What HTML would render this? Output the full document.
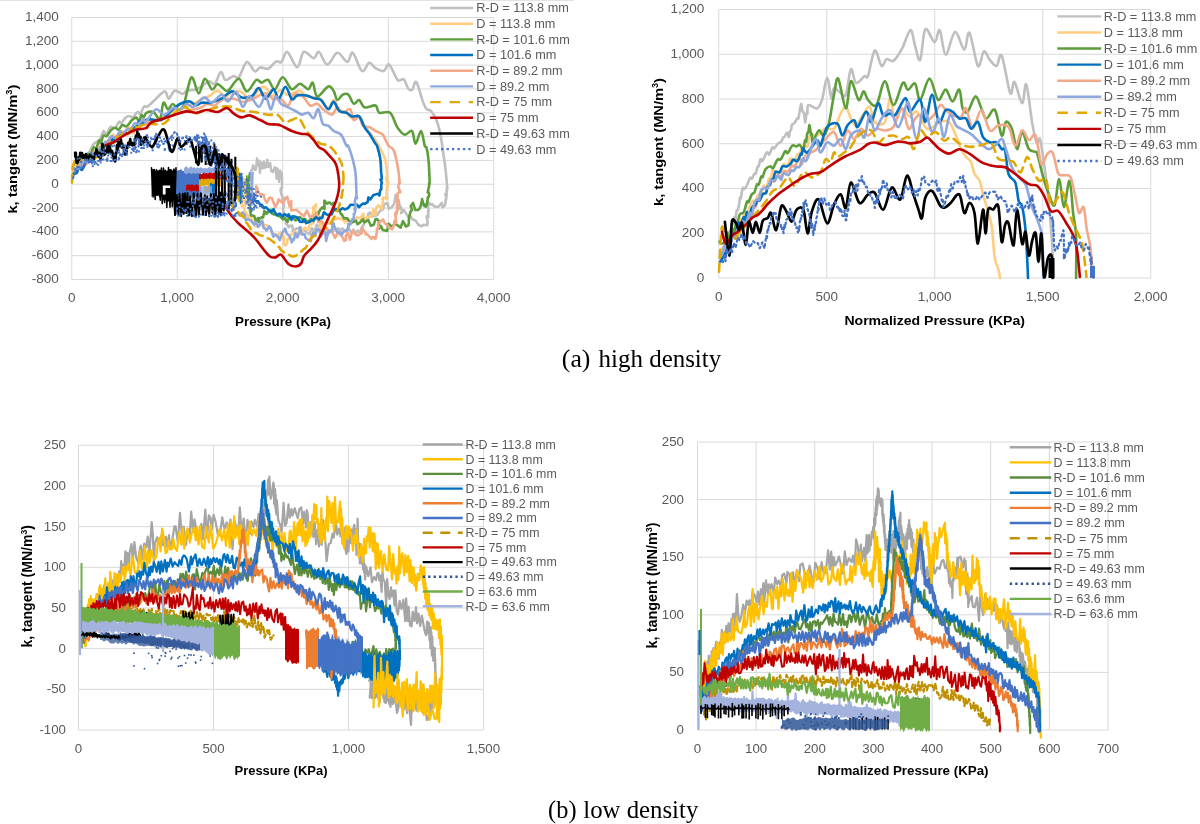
<!DOCTYPE html><html><head><meta charset="utf-8"><style>html,body{margin:0;padding:0;background:#fff;width:1200px;height:824px;overflow:hidden}svg{display:block;filter:blur(0.35px)}text{font-family:"Liberation Sans",sans-serif}</style></head><body>
<svg width="1200" height="824" viewBox="0 0 1200 824">
<rect width="1200" height="824" fill="#fff"/>
<line x1="0" y1="0.5" x2="574" y2="0.5" stroke="#e3e3e3" stroke-width="1"/>
<line x1="71.75" y1="17.5" x2="493.75" y2="17.5" stroke="#d9d9d9" stroke-width="1"/>
<line x1="71.75" y1="41.32" x2="493.75" y2="41.32" stroke="#d9d9d9" stroke-width="1"/>
<line x1="71.75" y1="65.14" x2="493.75" y2="65.14" stroke="#d9d9d9" stroke-width="1"/>
<line x1="71.75" y1="88.95" x2="493.75" y2="88.95" stroke="#d9d9d9" stroke-width="1"/>
<line x1="71.75" y1="112.77" x2="493.75" y2="112.77" stroke="#d9d9d9" stroke-width="1"/>
<line x1="71.75" y1="136.59" x2="493.75" y2="136.59" stroke="#d9d9d9" stroke-width="1"/>
<line x1="71.75" y1="160.41" x2="493.75" y2="160.41" stroke="#d9d9d9" stroke-width="1"/>
<line x1="71.75" y1="184.23" x2="493.75" y2="184.23" stroke="#d9d9d9" stroke-width="1"/>
<line x1="71.75" y1="208.04" x2="493.75" y2="208.04" stroke="#d9d9d9" stroke-width="1"/>
<line x1="71.75" y1="231.86" x2="493.75" y2="231.86" stroke="#d9d9d9" stroke-width="1"/>
<line x1="71.75" y1="255.68" x2="493.75" y2="255.68" stroke="#d9d9d9" stroke-width="1"/>
<line x1="71.75" y1="279.5" x2="493.75" y2="279.5" stroke="#d9d9d9" stroke-width="1"/>
<line x1="71.75" y1="17.5" x2="71.75" y2="279.5" stroke="#d9d9d9" stroke-width="1"/>
<line x1="177.25" y1="17.5" x2="177.25" y2="279.5" stroke="#d9d9d9" stroke-width="1"/>
<line x1="282.75" y1="17.5" x2="282.75" y2="279.5" stroke="#d9d9d9" stroke-width="1"/>
<line x1="388.25" y1="17.5" x2="388.25" y2="279.5" stroke="#d9d9d9" stroke-width="1"/>
<line x1="493.75" y1="17.5" x2="493.75" y2="279.5" stroke="#d9d9d9" stroke-width="1"/>
<text x="58.80" y="21.10" font-size="13.5" text-anchor="end" font-weight="400" fill="#595959">1,400</text>
<text x="58.80" y="44.92" font-size="13.5" text-anchor="end" font-weight="400" fill="#595959">1,200</text>
<text x="58.80" y="68.74" font-size="13.5" text-anchor="end" font-weight="400" fill="#595959">1,000</text>
<text x="58.80" y="92.55" font-size="13.5" text-anchor="end" font-weight="400" fill="#595959">800</text>
<text x="58.80" y="116.37" font-size="13.5" text-anchor="end" font-weight="400" fill="#595959">600</text>
<text x="58.80" y="140.19" font-size="13.5" text-anchor="end" font-weight="400" fill="#595959">400</text>
<text x="58.80" y="164.01" font-size="13.5" text-anchor="end" font-weight="400" fill="#595959">200</text>
<text x="58.80" y="187.83" font-size="13.5" text-anchor="end" font-weight="400" fill="#595959">0</text>
<text x="58.80" y="211.64" font-size="13.5" text-anchor="end" font-weight="400" fill="#595959">-200</text>
<text x="58.80" y="235.46" font-size="13.5" text-anchor="end" font-weight="400" fill="#595959">-400</text>
<text x="58.80" y="259.28" font-size="13.5" text-anchor="end" font-weight="400" fill="#595959">-600</text>
<text x="58.80" y="283.10" font-size="13.5" text-anchor="end" font-weight="400" fill="#595959">-800</text>
<text x="71.75" y="302.30" font-size="13.5" text-anchor="middle" font-weight="400" fill="#595959">0</text>
<text x="177.25" y="302.30" font-size="13.5" text-anchor="middle" font-weight="400" fill="#595959">1,000</text>
<text x="282.75" y="302.30" font-size="13.5" text-anchor="middle" font-weight="400" fill="#595959">2,000</text>
<text x="388.25" y="302.30" font-size="13.5" text-anchor="middle" font-weight="400" fill="#595959">3,000</text>
<text x="493.75" y="302.30" font-size="13.5" text-anchor="middle" font-weight="400" fill="#595959">4,000</text>
<text x="283.00" y="326.30" font-size="13.4" text-anchor="middle" font-weight="700" fill="#000" textLength="96" lengthAdjust="spacingAndGlyphs">Pressure (KPa)</text>
<text transform="translate(11.8,149.1) rotate(-90)" x="0" y="4.7" font-size="13.4" text-anchor="middle" font-weight="700" fill="#000" textLength="129" lengthAdjust="spacingAndGlyphs">k, tangent (MN/m<tspan font-size="8.3" dy="-4.5">3</tspan><tspan dy="4.5">)</tspan></text>
<path d="M74.0 166.0C74.6 165.9 76.5 166.8 77.6 165.7C78.6 164.5 79.5 159.5 80.2 158.9C81.0 158.4 81.2 163.0 82.0 162.3C82.8 161.7 84.2 156.2 85.2 154.9C86.2 153.6 86.8 155.7 87.7 154.8C88.6 153.9 89.9 151.3 90.7 149.7C91.5 148.0 91.9 146.4 92.8 145.2C93.6 144.0 94.5 143.3 95.7 142.4C96.8 141.5 98.6 141.5 99.9 139.7C101.2 137.8 102.5 131.9 103.5 131.1C104.6 130.3 105.1 135.5 106.3 134.8C107.4 134.2 109.0 128.2 110.5 127.1C111.9 125.9 113.7 128.7 115.2 127.8C116.6 126.9 118.0 122.5 119.0 121.8C120.0 121.0 120.0 123.9 121.1 123.3C122.2 122.6 124.2 119.0 125.5 117.8C126.9 116.6 127.9 116.0 129.2 116.0C130.4 115.9 131.7 117.9 133.2 117.2C134.6 116.5 136.4 112.4 137.6 111.8C138.8 111.3 139.4 114.8 140.4 114.0C141.4 113.2 142.5 108.0 143.7 106.8C144.9 105.5 146.0 107.5 147.8 106.4C149.6 105.3 151.9 102.5 154.7 100.0C157.5 97.5 162.4 91.6 164.7 91.4C167.0 91.2 167.0 98.8 168.7 98.7C170.4 98.6 172.4 91.5 174.7 90.7C177.0 89.9 180.7 94.0 182.7 94.0C184.7 94.0 184.5 91.5 186.7 90.7C188.9 89.9 193.3 90.3 196.0 89.4C198.7 88.5 200.5 86.7 202.7 85.4C204.9 84.1 207.4 81.6 209.4 81.4C211.4 81.2 212.9 85.6 214.8 84.0C216.7 82.4 219.0 72.7 220.8 72.0C222.6 71.3 223.3 79.3 225.4 80.0C227.5 80.7 231.3 76.4 233.5 76.0C235.7 75.6 236.6 79.7 238.8 77.4C241.0 75.1 244.1 63.0 246.8 62.0C249.5 61.0 252.6 70.5 254.8 71.4C257.0 72.3 258.0 67.9 260.2 67.4C262.4 67.0 265.5 69.7 268.2 68.7C270.9 67.7 274.0 62.5 276.2 61.4C278.4 60.3 279.6 63.6 281.5 62.0C283.4 60.4 284.7 51.0 287.3 51.9C289.9 52.8 294.6 67.3 297.3 67.3C300.0 67.3 301.0 53.4 303.7 51.9C306.4 50.4 311.1 58.2 313.7 58.2C316.2 58.2 316.7 50.8 319.0 51.9C321.3 53.0 324.2 64.4 327.3 64.6C330.4 64.8 334.0 53.2 337.3 52.8C340.6 52.3 344.7 61.9 347.3 61.9C349.9 61.9 350.4 51.3 352.8 52.8C355.2 54.3 359.2 69.3 361.9 71.0C364.6 72.7 366.9 63.3 369.2 62.8C371.5 62.3 373.1 66.8 375.5 68.2C377.9 69.6 381.4 71.6 383.7 71.0C386.0 70.4 386.9 63.1 389.2 64.6C391.5 66.1 395.3 77.6 397.7 80.0C400.1 82.4 402.1 77.8 403.8 79.2C405.5 80.6 406.6 86.4 408.0 88.2C409.4 90.0 410.6 91.0 412.0 90.0C413.4 89.0 414.6 80.2 416.3 82.0C418.1 83.8 420.8 96.1 422.5 100.6C424.2 105.1 425.1 107.3 426.5 109.0C427.9 110.7 429.3 109.0 431.0 111.0C432.7 113.0 435.2 116.8 436.9 121.2C438.6 125.7 440.0 132.5 441.0 137.7C442.0 142.9 442.4 147.4 443.1 152.2C443.8 157.0 444.5 160.8 445.2 166.6C445.9 172.4 446.9 183.8 447.2 187.2 M446.5 189.3 447.4 188.1 446.6 191.6 446.6 196.0 445.3 193.8 446.4 198.6 446.0 198.4 445.1 205.0 442.6 207.4 441.8 202.9 438.1 207.0 437.7 207.1 434.3 206.3 432.0 204.1 430.6 204.7 428.2 202.1 428.0 205.7 427.9 205.4 428.6 210.9 428.0 211.0 428.4 217.3 426.6 216.4 427.5 221.0 427.6 221.5 427.2 225.3 423.5 224.8 421.8 226.4 418.4 224.8 415.9 221.1 415.6 220.5 412.8 219.6 412.1 218.7 409.9 215.6 408.1 216.7 406.0 213.4 403.9 210.2 401.1 213.2 402.0 210.5 400.2 205.9 399.6 208.7 399.3 204.0 398.7 200.1 397.3 202.3 396.6 197.3 395.3 195.8 395.7 195.0 394.5 202.3 393.9 204.3 392.9 205.5 391.6 207.4 388.7 208.7 387.6 203.3 385.4 203.6 384.1 204.9 383.4 208.6 382.5 209.7 380.4 210.4 378.4 213.1 377.4 215.0 375.0 215.7 371.8 216.5 370.3 212.5 368.0 214.1 368.2 217.5 366.0 221.7 365.3 220.3 363.8 225.1 362.7 225.5 362.6 228.6 360.8 230.7 359.1 232.1 357.7 230.5 354.9 234.3 353.5 229.7 351.5 232.8 348.2 227.6 346.3 231.3 344.1 230.4 342.8 228.5 339.7 230.3 338.5 228.4 335.2 230.1 333.3 230.6 330.9 231.8 328.2 230.7 327.6 235.1 324.3 233.9 322.2 233.3 320.9 229.1 317.9 225.5 316.9 224.6 314.4 231.5 311.6 228.1 309.8 234.3 307.2 232.9 304.6 230.5 302.3 231.1 300.7 226.9 298.1 228.4 295.8 228.7 293.2 232.2 292.3 225.6 289.2 226.0 288.8 227.2 285.7 222.3 285.9 223.7 286.0 218.3 285.6 218.0 284.5 217.4 283.6 213.5 283.0 207.8 284.1 205.7 283.5 205.6 283.4 201.9 282.3 199.1 283.0 198.6 282.9 198.0 281.2 193.7 280.9 188.3 280.6 190.9" fill="none" stroke="#bfbfbf" stroke-width="2.6" stroke-linejoin="round" stroke-linecap="round"/>
<path d="M72.0 176.3C72.1 176.1 72.5 176.7 72.8 175.2C73.1 173.6 73.4 168.6 73.8 167.1C74.1 165.6 74.3 167.4 75.0 166.4C75.7 165.4 76.7 161.3 77.8 161.0C78.9 160.7 80.2 165.1 81.4 164.5C82.6 163.8 84.0 158.4 85.2 157.2C86.5 156.0 87.8 158.3 88.9 157.2C90.0 156.1 91.0 151.1 91.8 150.7C92.6 150.3 92.9 155.4 93.7 154.9C94.5 154.5 95.3 149.8 96.5 148.1C97.6 146.4 99.6 145.2 100.6 144.9C101.6 144.6 101.5 146.7 102.5 146.1C103.5 145.5 105.3 142.2 106.6 141.3C107.9 140.3 109.3 141.4 110.3 140.3C111.4 139.2 111.9 135.0 112.8 134.6C113.7 134.1 114.4 138.0 115.8 137.5C117.1 137.0 119.5 132.2 120.9 131.5C122.3 130.8 122.9 133.8 124.2 133.2C125.5 132.6 127.3 127.8 128.8 127.8C130.3 127.8 131.7 134.2 133.2 133.3C134.6 132.4 135.9 124.4 137.5 122.4C139.1 120.3 140.9 120.9 142.7 120.8C144.4 120.8 145.5 122.2 148.0 121.9C150.6 121.6 155.2 120.0 158.0 119.0C160.8 118.0 162.7 117.2 165.0 116.0C167.3 114.8 169.5 113.0 172.0 112.0C174.5 111.0 177.3 111.0 180.0 110.0C182.7 109.0 185.5 107.2 188.0 106.0C190.5 104.8 192.7 104.2 195.0 103.0C197.3 101.8 199.6 100.2 202.0 99.0C204.4 97.8 206.8 97.4 209.4 96.0C212.0 94.6 214.7 90.7 217.4 90.7C220.1 90.7 222.8 95.8 225.4 96.0C228.0 96.2 230.3 92.7 233.0 92.0C235.7 91.3 238.5 90.7 241.5 92.0C244.5 93.3 248.2 100.0 250.8 100.0C253.4 100.0 254.8 94.2 257.0 92.0C259.2 89.8 261.4 86.0 264.2 86.7C266.9 87.4 270.9 95.5 273.5 96.0C276.1 96.5 277.8 90.2 280.0 90.0C282.2 89.8 284.6 94.2 286.9 94.7C289.2 95.2 291.5 93.5 293.7 92.8C295.9 92.1 297.9 90.2 300.0 90.7C302.1 91.2 303.8 95.0 306.0 96.0C308.2 97.0 310.5 96.5 313.0 97.0C315.5 97.5 318.5 97.2 321.0 99.0C323.5 100.8 325.8 107.8 328.0 108.0C330.2 108.2 332.2 99.7 334.0 100.0C335.8 100.3 337.0 108.0 339.0 110.0C341.0 112.0 343.8 110.7 346.0 112.0C348.2 113.3 349.8 117.3 352.0 118.0C354.2 118.7 356.9 114.7 359.0 116.0C361.1 117.3 362.8 123.2 364.6 126.0C366.4 128.8 368.1 130.5 370.0 133.0C371.9 135.5 374.2 138.2 376.0 141.0C377.8 143.8 379.4 146.8 381.0 150.0C382.6 153.2 384.3 155.6 385.4 160.4C386.5 165.2 387.1 175.9 387.4 179.0 M388.5 182.6 386.2 178.0 387.9 185.6 387.4 184.5 387.1 189.3 386.9 188.1 386.4 192.3 386.9 199.5 386.6 197.9 384.5 197.7 382.7 197.9 382.8 202.2 381.8 208.9 381.3 208.3 378.5 205.0 376.7 207.0 375.1 214.9 373.4 209.5 371.9 215.4 369.4 217.3 367.4 217.3 364.3 219.8 363.3 213.7 360.2 218.5 357.0 217.4 354.5 221.0 352.0 220.7 349.2 221.5 348.2 218.5 345.0 222.6 342.9 219.5 339.3 218.6 338.0 217.8 336.0 219.1 333.5 220.0 331.1 223.6 327.5 222.9 325.4 224.2 322.0 221.9 320.0 228.5 319.7 219.3 319.6 222.1 319.2 215.5 318.3 212.1 317.5 211.5 315.9 214.0 315.0 208.8 316.2 204.3 314.1 207.0 314.3 207.9 313.1 207.3 313.2 212.0 312.7 216.4 312.3 216.8 312.0 215.2 313.6 216.7 311.8 223.1 312.0 220.1 313.2 223.2 308.9 225.8 308.3 229.9 305.1 227.7 302.9 229.6 302.6 232.9 301.0 234.0 298.4 234.6 294.9 231.8 292.9 233.5 289.0 235.6 290.0 235.0 288.4 239.1 287.3 239.2 287.4 242.1 285.7 245.4 283.8 244.1 283.7 237.8 283.1 236.3 282.8 237.7 283.4 238.2 284.0 236.0 280.4 232.6 278.4 234.7 277.3 237.4 275.5 234.1 273.1 234.2 270.3 228.3 269.5 226.9 268.5 225.9 264.4 224.8 262.0 224.4 260.0 225.7 257.5 225.6 255.3 226.3 255.1 223.3 251.8 220.1 250.4 214.9 248.3 217.2 246.0 212.3 245.7 212.9 244.5 215.0 244.3 207.6 244.7 206.0 241.8 206.1 241.5 200.8 242.8 201.4 241.2 197.3 242.5 195.2 242.3 193.7 242.3 188.9 243.4 191.8 243.0 188.0 241.9 184.6 241.1 181.7 240.6 179.2" fill="none" stroke="#ffcc80" stroke-width="2.6" stroke-linejoin="round" stroke-linecap="round"/>
<path d="M73.0 169.2C73.4 169.9 74.5 173.9 75.5 172.9C76.5 171.9 77.7 165.2 78.9 163.3C80.1 161.4 81.5 163.1 82.9 161.6C84.2 160.0 85.8 155.3 87.1 154.1C88.4 153.0 89.4 155.8 90.5 154.7C91.6 153.6 92.5 148.6 93.5 147.5C94.5 146.4 95.5 149.2 96.4 148.1C97.3 146.9 98.3 141.4 99.0 140.5C99.8 139.6 100.1 143.5 100.8 142.8C101.5 142.0 102.3 137.1 103.3 135.9C104.3 134.8 105.5 136.9 106.8 135.9C108.1 135.0 109.6 131.4 111.0 130.1C112.5 128.7 114.2 127.8 115.4 127.8C116.7 127.7 117.4 130.0 118.5 129.6C119.7 129.1 121.1 125.6 122.5 125.0C123.8 124.5 125.1 127.1 126.6 126.3C128.2 125.5 130.2 121.7 131.8 120.2C133.4 118.8 135.0 117.5 136.3 117.6C137.5 117.8 138.4 121.7 139.2 121.2C140.1 120.8 140.6 115.7 141.4 115.0C142.1 114.3 142.9 117.4 143.7 117.1C144.6 116.7 144.9 113.7 146.5 112.9C148.1 112.0 151.1 111.1 153.4 112.1C155.7 113.1 158.3 120.4 160.0 118.8C161.7 117.2 162.1 104.3 163.4 102.7C164.7 101.1 166.4 109.2 168.0 109.4C169.6 109.6 170.9 104.0 172.7 104.0C174.5 104.0 176.8 109.4 178.7 109.4C180.6 109.4 181.9 109.3 184.0 104.0C186.1 98.7 189.0 79.2 191.4 77.4C193.8 75.6 196.5 93.2 198.7 93.4C200.9 93.6 202.6 79.4 204.8 78.7C207.0 78.0 209.9 88.5 212.0 89.4C214.1 90.3 215.6 84.2 217.4 84.0C219.2 83.8 221.0 86.9 222.8 88.0C224.6 89.1 225.3 92.2 228.0 90.7C230.7 89.2 235.7 78.6 238.8 78.7C241.9 78.8 243.9 91.2 246.8 91.4C249.7 91.6 253.8 81.5 256.2 80.0C258.6 78.5 259.5 82.7 261.5 82.7C263.5 82.7 266.0 78.9 268.2 80.0C270.4 81.1 272.4 89.9 274.8 89.4C277.2 89.0 279.9 77.3 282.7 77.3C285.5 77.3 288.9 88.1 291.8 89.2C294.7 90.3 297.3 83.7 300.0 83.7C302.7 83.7 306.1 89.4 308.2 89.2C310.3 89.0 311.3 81.6 312.8 82.8C314.3 84.0 314.7 95.9 317.3 96.5C319.9 97.1 325.5 87.3 328.2 86.4C330.9 85.5 332.2 88.7 333.7 91.0C335.2 93.3 335.8 99.4 337.3 100.0C338.8 100.6 341.0 95.5 342.8 94.6C344.6 93.7 346.5 93.1 348.3 94.6C350.1 96.1 351.9 102.8 353.7 103.7C355.5 104.6 357.4 99.4 359.2 100.0C361.0 100.6 361.9 106.5 364.6 107.4C367.3 108.3 373.1 104.6 375.5 105.5C377.9 106.4 376.8 111.6 379.2 112.8C381.6 114.0 387.1 110.4 390.1 112.8C393.1 115.2 395.0 123.8 397.4 127.4C399.8 131.1 402.3 134.1 404.7 134.7C407.1 135.3 410.2 129.5 412.0 131.0C413.8 132.5 414.1 143.8 415.6 143.8C417.1 143.8 419.5 130.7 421.0 131.0C422.5 131.3 423.8 142.8 424.7 145.6C425.6 148.4 425.9 145.2 426.6 148.0C427.3 150.8 428.2 156.7 428.7 162.5C429.2 168.3 429.5 179.6 429.7 183.0 M429.1 183.3 429.1 186.1 429.4 184.6 427.7 192.5 428.0 190.6 429.3 194.6 428.6 197.1 427.9 197.1 426.9 205.0 425.6 206.8 424.9 204.7 424.0 205.7 422.0 199.0 422.2 199.4 420.9 205.1 419.9 208.1 418.2 210.0 415.2 209.9 413.0 202.9 410.8 206.1 412.0 210.1 410.7 211.4 409.8 214.4 408.9 218.2 408.8 222.9 408.4 225.4 406.0 226.5 402.9 221.2 400.6 227.6 397.9 225.5 394.7 223.6 392.2 226.9 388.5 223.8 387.1 231.0 382.9 230.1 381.0 226.0 379.2 228.4 378.9 221.1 376.8 219.0 375.5 219.0 373.8 224.7 370.9 225.8 368.4 220.2 367.0 220.9 364.1 222.3 362.9 219.1 359.6 222.8 357.5 224.2 356.0 220.7 352.3 222.4 350.6 221.6 348.4 220.4 347.2 218.2 344.0 218.4 341.5 214.0 341.0 214.2 338.5 208.5 336.6 210.6 334.1 208.8 333.8 202.8 331.5 204.4 329.4 202.3 327.2 203.7 324.4 200.7 324.5 209.1 322.3 207.3 321.7 208.2 319.9 210.1 318.2 214.1 316.4 214.5 315.8 214.0 313.6 221.1 310.9 218.7 309.7 220.2 306.1 222.9 305.5 219.2 302.9 219.5 302.2 219.0 299.6 217.0 295.8 220.5 294.3 219.0 290.7 216.7 289.1 217.2 287.5 221.8 283.8 217.3 282.9 219.5 280.7 216.9 277.2 215.5 276.6 214.4 273.7 214.4 271.8 213.3 270.7 209.8 266.5 213.7 266.2 212.2 264.3 214.0 264.4 210.9 263.1 217.4 261.9 217.2 260.2 218.1 259.1 218.2 258.9 221.9 258.0 218.1 256.9 220.8 255.6 220.3 254.2 216.0 251.0 215.2 250.0 210.0 250.8 209.2 249.9 209.8 250.0 203.1 249.0 204.5 249.2 201.5 248.6 195.0 248.7 197.0 247.6 194.5 248.9 192.2 248.9 184.2 248.7 188.2 247.7 181.7 248.4 181.3 249.0 178.7 250.0 173.1" fill="none" stroke="#5e9e3a" stroke-width="2.6" stroke-linejoin="round" stroke-linecap="round"/>
<path d="M73.0 170.5C73.6 170.3 75.5 170.8 76.7 169.7C77.9 168.5 79.3 164.3 80.4 163.8C81.6 163.2 82.4 166.3 83.5 166.3C84.5 166.3 85.6 164.8 86.7 163.6C87.9 162.5 89.3 160.0 90.2 159.4C91.1 158.8 91.2 161.3 92.1 160.0C93.1 158.6 95.0 152.4 96.1 151.1C97.2 149.8 97.9 152.8 98.8 152.0C99.6 151.3 100.4 147.1 101.2 146.6C102.0 146.1 102.7 149.1 103.7 148.9C104.6 148.6 105.7 146.8 106.8 144.9C107.9 142.9 109.0 138.1 110.5 136.9C111.9 135.7 114.0 138.2 115.4 137.6C116.8 137.0 117.8 133.7 119.1 133.4C120.4 133.0 121.5 136.2 123.0 135.3C124.5 134.4 126.8 128.7 128.1 127.9C129.5 127.1 130.1 130.6 131.2 130.6C132.2 130.5 133.3 127.9 134.7 127.4C136.0 126.9 138.0 128.3 139.3 127.6C140.6 126.8 141.2 123.1 142.2 122.7C143.2 122.4 144.3 125.7 145.4 125.3C146.4 125.0 146.1 121.6 148.5 120.7C151.0 119.8 156.4 120.8 160.0 120.0C163.6 119.2 166.7 117.2 170.0 116.0C173.3 114.8 176.7 114.0 180.0 113.0C183.3 112.0 186.7 110.8 190.0 110.0C193.3 109.2 197.2 109.0 200.0 108.0C202.8 107.0 204.5 104.4 207.0 104.0C209.5 103.6 212.3 106.1 214.8 105.4C217.3 104.7 218.9 101.1 222.0 100.0C225.1 98.9 230.0 98.4 233.5 98.7C237.0 99.0 239.7 102.0 243.0 102.0C246.3 102.0 250.7 99.9 253.5 98.7C256.3 97.5 257.8 95.9 260.0 95.0C262.2 94.1 264.6 92.7 266.8 93.4C269.0 94.1 270.6 98.0 273.0 99.0C275.4 100.0 278.5 98.1 281.0 99.2C283.5 100.3 286.1 106.3 288.2 105.5C290.3 104.7 291.3 96.1 293.7 94.6C296.1 93.1 300.1 94.7 302.8 96.5C305.5 98.3 307.6 104.3 310.0 105.5C312.4 106.7 315.2 103.1 317.3 103.7C319.4 104.3 320.4 107.4 322.8 109.2C325.2 111.0 329.5 114.9 331.9 114.6C334.3 114.3 335.5 107.7 337.3 107.4C339.1 107.1 340.7 112.5 342.8 112.8C344.9 113.1 348.2 108.0 350.0 109.2C351.8 110.4 352.2 118.9 353.7 120.1C355.2 121.3 357.7 115.6 359.2 116.5C360.7 117.4 361.0 123.8 362.8 125.6C364.6 127.4 368.0 126.5 370.1 127.4C372.2 128.3 373.4 129.8 375.5 131.0C377.6 132.2 380.7 132.3 382.8 134.7C384.9 137.1 386.5 143.0 388.3 145.6C390.1 148.2 392.0 146.6 393.6 150.1C395.2 153.6 396.7 161.1 397.7 166.6C398.7 172.1 399.4 180.3 399.8 183.0 M399.1 179.7 399.3 182.4 398.2 186.8 400.2 192.4 399.5 189.9 398.7 192.6 397.6 193.5 397.4 202.7 398.8 204.0 398.5 201.1 396.8 207.1 397.5 211.3 397.5 207.2 396.4 214.4 395.8 212.6 395.3 214.2 396.1 223.0 394.7 220.6 393.9 225.0 392.2 229.4 389.5 227.8 387.7 225.8 384.5 222.7 383.1 219.5 378.1 223.4 378.1 224.9 378.1 225.6 378.9 226.7 376.9 229.1 376.9 232.0 375.7 238.2 375.1 239.0 376.0 237.4 371.9 237.2 371.6 239.0 368.2 235.3 367.0 234.3 365.6 234.3 366.7 234.4 365.3 232.4 361.4 227.8 361.8 232.9 358.3 235.3 356.8 235.3 353.9 231.0 352.2 231.6 350.0 239.6 347.8 232.6 345.7 236.2 346.2 240.0 343.7 240.0 344.4 240.8 341.5 235.7 340.1 234.6 340.6 232.5 336.8 234.4 335.1 237.8 332.5 232.9 332.0 231.0 330.3 230.7 326.1 229.2 324.3 227.4 323.5 229.5 323.6 224.3 320.3 220.3 319.5 218.0 318.2 221.7 316.6 212.9 316.4 216.7 314.5 214.8 312.1 216.4 309.7 216.6 306.8 210.6 303.9 216.3 303.4 215.8 299.7 212.7 298.7 211.7 296.5 209.8 293.9 210.3 291.2 210.3 291.3 201.1 289.7 206.6 287.2 196.9 285.4 198.1 283.2 203.2 278.5 199.5 277.5 203.4 275.4 207.0 271.9 198.4 271.5 197.7 269.3 197.8 266.9 202.6 265.0 199.8 263.6 195.0 261.8 194.2 261.0 196.1 258.6 192.1 256.2 186.1 256.3 192.0 255.6 195.2 252.5 195.3 252.7 198.8 249.5 203.5 249.6 195.3 247.0 195.9 245.7 193.4" fill="none" stroke="#f2a98a" stroke-width="2.6" stroke-linejoin="round" stroke-linecap="round"/>
<path d="M73.0 174.3C73.6 174.1 75.7 174.2 76.7 173.0C77.6 171.9 77.9 167.8 78.8 167.3C79.7 166.7 80.8 170.8 82.1 169.7C83.4 168.6 85.3 162.0 86.4 160.7C87.5 159.5 87.7 162.3 88.8 162.1C89.9 162.0 91.6 161.4 93.0 159.9C94.4 158.3 95.8 154.1 97.0 152.9C98.2 151.8 98.9 154.1 100.0 153.0C101.1 151.8 102.4 146.9 103.7 145.8C105.0 144.8 106.9 146.7 108.0 146.6C109.1 146.6 109.7 146.8 110.4 145.6C111.1 144.4 111.4 140.0 112.4 139.3C113.4 138.6 114.8 142.0 116.3 141.3C117.8 140.5 120.1 136.1 121.3 134.7C122.6 133.3 122.5 133.0 123.7 132.8C124.9 132.6 127.0 134.5 128.5 133.7C130.0 133.0 131.2 129.5 132.6 128.3C134.0 127.1 135.6 127.5 136.7 126.3C137.8 125.1 138.4 121.5 139.2 121.2C140.1 120.8 140.6 124.5 142.0 124.2C143.4 123.9 144.3 119.9 147.5 119.2C150.7 118.5 157.7 121.2 161.4 120.0C165.2 118.8 166.9 114.7 170.0 112.0C173.1 109.3 176.8 105.8 180.0 104.0C183.2 102.2 186.7 101.2 189.4 101.4C192.1 101.6 194.0 105.2 196.0 105.4C198.0 105.6 198.9 103.2 201.4 102.7C203.9 102.2 207.5 103.4 210.8 102.7C214.1 102.0 217.9 100.6 221.4 98.7C224.9 96.8 228.7 91.6 232.0 91.4C235.3 91.2 238.2 96.6 241.5 97.4C244.8 98.2 249.1 97.6 252.0 96.0C254.9 94.4 256.6 87.5 258.8 88.0C261.1 88.5 263.1 98.5 265.5 98.7C267.9 98.9 271.3 89.4 273.5 89.4C275.7 89.4 276.8 99.2 278.8 98.7C280.8 98.2 283.3 86.6 285.5 86.7C287.7 86.8 289.8 97.7 291.8 99.2C293.8 100.7 294.9 96.1 297.3 95.5C299.7 94.9 303.7 95.0 306.4 95.5C309.1 96.0 311.3 97.5 313.7 98.3C316.1 99.0 318.6 98.2 321.0 100.0C323.4 101.8 326.1 108.9 328.2 109.2C330.3 109.5 331.9 101.6 333.7 101.9C335.5 102.2 337.1 109.2 339.2 111.0C341.3 112.8 344.3 111.9 346.4 112.8C348.5 113.7 349.8 115.9 351.9 116.5C354.0 117.1 357.1 114.7 359.2 116.5C361.3 118.3 362.8 124.4 364.6 127.4C366.4 130.4 368.3 132.0 370.1 134.7C371.9 137.4 374.3 141.9 375.5 143.8C376.7 145.7 376.3 143.6 377.1 146.0C377.9 148.4 379.5 153.9 380.2 158.4C380.9 162.9 381.0 170.4 381.2 172.8 M381.4 174.1 381.7 177.4 381.6 179.6 380.5 179.6 381.9 182.8 381.8 182.4 381.2 185.4 381.3 189.4 380.4 189.8 379.3 195.6 378.5 193.7 376.2 194.3 373.5 194.9 370.2 199.4 368.4 197.4 367.6 202.2 364.4 204.0 362.7 203.6 360.1 206.0 358.8 207.2 357.1 204.8 353.5 204.7 350.4 204.9 347.9 208.3 344.7 209.4 342.5 208.2 340.5 209.8 337.5 210.5 335.9 209.0 334.1 209.5 331.6 214.4 328.2 214.8 326.6 214.4 323.9 212.4 322.1 218.0 320.0 217.7 319.0 219.5 316.0 217.2 313.9 220.1 310.9 220.7 309.6 222.0 306.1 223.1 303.9 219.5 302.5 222.0 299.9 221.6 298.0 218.0 295.4 216.8 292.8 216.2 291.5 219.9 288.5 214.3 287.5 216.2 284.4 214.0 282.4 216.4 279.9 213.6 277.0 215.2 274.7 212.0 273.6 209.1 271.2 212.3 268.8 210.2 265.8 207.2 263.7 208.0 261.7 204.8 260.4 205.2 258.1 201.4 255.0 201.2 253.2 196.9 251.3 194.2 249.6 196.5 248.7 192.7 247.0 189.0 245.4 186.5 245.4 187.5 243.8 184.9" fill="none" stroke="#0070c0" stroke-width="2.6" stroke-linejoin="round" stroke-linecap="round"/>
<path d="M73.0 167.7C73.5 167.8 74.9 168.9 76.1 168.8C77.3 168.8 78.9 168.9 80.0 167.4C81.1 166.0 81.7 160.9 82.5 160.3C83.3 159.6 83.9 163.8 85.0 163.5C86.1 163.2 87.6 160.1 89.0 158.3C90.3 156.6 92.2 153.4 93.3 152.8C94.5 152.3 94.6 155.8 95.7 155.1C96.8 154.4 98.8 149.6 99.8 148.4C100.8 147.3 100.9 149.2 101.8 148.1C102.7 147.1 104.2 142.9 105.1 141.9C106.0 141.0 106.4 143.4 107.4 142.5C108.4 141.6 109.7 137.3 111.1 136.5C112.5 135.6 114.3 138.5 115.8 137.7C117.3 136.8 119.0 131.8 120.1 131.2C121.2 130.6 121.2 134.4 122.4 134.1C123.6 133.7 126.0 129.8 127.4 129.1C128.8 128.3 129.6 130.8 130.7 129.8C131.9 128.9 133.1 124.5 134.4 123.5C135.8 122.4 137.5 124.3 139.0 123.5C140.4 122.8 142.1 119.3 143.3 119.0C144.4 118.6 143.8 123.2 145.9 121.6C148.0 120.0 153.0 110.5 156.0 109.4C159.0 108.3 161.1 115.0 164.0 114.8C166.9 114.6 170.7 108.9 173.4 108.0C176.1 107.1 177.7 110.1 180.0 109.4C182.3 108.7 184.8 104.4 187.0 104.0C189.2 103.6 190.6 107.9 193.4 106.8C196.2 105.7 200.9 98.1 204.0 97.4C207.1 96.7 209.1 103.2 212.0 102.7C214.9 102.2 218.7 94.9 221.4 94.7C224.1 94.5 225.6 101.9 228.0 101.4C230.4 101.0 233.5 91.1 236.0 92.0C238.5 92.9 240.6 106.1 242.8 106.8C245.1 107.5 246.8 96.0 249.5 96.0C252.2 96.0 256.1 106.8 258.8 106.8C261.5 106.8 263.5 95.6 265.5 96.0C267.5 96.4 269.1 109.3 270.8 109.4C272.5 109.5 273.8 97.5 275.5 96.5C277.2 95.5 278.9 101.9 281.0 103.7C283.1 105.5 285.8 106.2 288.2 107.4C290.6 108.6 293.2 109.8 295.5 111.0C297.8 112.2 299.7 114.3 301.8 114.6C303.9 114.9 306.2 112.2 308.2 112.8C310.2 113.4 312.0 118.9 313.7 118.3C315.4 117.7 316.7 108.3 318.2 109.2C319.7 110.1 321.1 121.0 322.8 123.7C324.5 126.4 326.4 124.4 328.2 125.6C330.0 126.8 331.6 129.5 333.7 131.0C335.8 132.5 338.9 132.3 341.0 134.7C343.1 137.1 345.2 143.7 346.4 145.6C347.6 147.5 347.2 143.9 348.2 146.0C349.2 148.1 351.2 153.9 352.4 158.4C353.6 162.9 354.8 166.6 355.5 172.8C356.2 179.0 356.3 191.7 356.5 195.5 M357.2 198.1 356.2 195.9 354.8 201.4 355.6 204.5 355.1 206.9 354.6 209.5 355.5 208.7 354.8 213.1 353.7 214.4 354.2 214.2 353.4 219.6 352.6 218.9 349.9 224.7 350.7 223.9 348.1 224.0 348.5 226.8 347.2 230.2 343.4 231.8 341.7 235.0 341.0 232.7 338.7 232.2 337.5 232.5 334.0 225.6 333.7 223.2 332.6 223.7 332.2 229.4 329.2 232.7 328.6 231.2 327.9 232.9 326.1 240.9 325.4 232.5 323.7 230.9 320.8 236.4 319.6 230.0 317.2 229.1 315.0 235.6 313.2 232.6 313.3 234.0 312.3 234.4 310.7 241.1 308.0 239.8 305.6 238.0 304.6 234.2 301.9 234.4 299.9 228.1 299.4 231.4 297.4 237.4 295.4 233.2 293.9 239.6 293.2 238.9 291.8 242.3 289.7 236.3 289.6 236.1 286.5 233.1 285.3 228.5 283.1 231.5 282.1 233.3 279.8 240.1 278.4 237.0 276.0 235.0 274.0 234.7 273.3 236.7 270.5 227.6 269.3 226.5 266.5 230.5 264.9 228.3 263.7 228.3 262.2 220.6 258.0 227.0 256.3 222.1 254.1 224.5 251.1 220.9 248.0 219.2 245.8 220.4 244.7 214.8 242.5 212.6 239.1 215.2" fill="none" stroke="#8ea7dc" stroke-width="2.6" stroke-linejoin="round" stroke-linecap="round"/>
<path d="M72.0 182.6C72.0 181.8 72.1 180.1 72.2 178.0C72.2 175.8 72.2 171.5 72.4 169.6C72.6 167.6 72.7 167.5 73.1 166.1C73.5 164.7 74.1 161.8 75.0 161.2C75.9 160.5 77.5 162.7 78.8 162.3C80.0 161.9 81.0 159.3 82.3 158.7C83.7 158.2 85.4 159.6 86.7 159.0C88.1 158.3 89.2 154.6 90.5 154.6C91.8 154.7 93.3 159.8 94.5 159.3C95.8 158.8 96.9 152.7 98.0 151.6C99.0 150.6 100.2 153.5 101.1 152.8C102.0 152.1 102.2 148.7 103.3 147.7C104.3 146.7 106.2 147.6 107.3 146.7C108.4 145.8 108.8 142.9 109.9 142.3C110.9 141.7 112.3 143.9 113.5 143.0C114.6 142.1 115.9 137.9 117.0 136.9C118.1 135.9 118.8 137.7 119.9 136.9C121.1 136.1 122.6 132.7 123.9 132.2C125.3 131.7 126.7 135.1 128.3 134.0C129.8 133.0 131.6 127.0 133.2 125.9C134.8 124.8 136.1 127.8 137.7 127.6C139.3 127.4 141.3 125.2 142.8 124.9C144.2 124.7 145.2 126.1 146.2 125.9C147.3 125.8 146.5 124.4 149.2 124.1C152.0 123.7 159.3 124.9 162.7 124.0C166.1 123.1 167.2 120.8 169.4 118.8C171.6 116.8 173.6 114.0 176.0 112.0C178.4 110.0 180.9 106.6 184.0 106.8C187.1 107.0 191.7 112.7 194.7 113.4C197.7 114.1 199.6 111.7 202.0 111.0C204.4 110.3 206.4 110.1 209.4 109.4C212.4 108.7 216.4 107.2 220.0 106.8C223.6 106.4 227.2 106.1 230.8 106.8C234.4 107.5 237.5 109.9 241.5 110.8C245.5 111.7 250.4 111.3 254.8 112.0C259.2 112.7 264.4 114.4 268.2 114.8C271.9 115.2 274.6 113.4 277.3 114.6C280.0 115.8 282.2 121.0 284.6 121.9C287.0 122.8 289.4 120.7 291.8 120.1C294.2 119.5 296.7 116.5 299.1 118.3C301.5 120.1 304.0 127.7 306.4 131.0C308.8 134.3 311.3 136.2 313.7 138.3C316.1 140.4 318.8 142.7 321.0 143.8C323.2 144.9 324.9 144.0 327.0 145.0C329.1 146.0 331.1 146.9 333.5 150.0C335.9 153.1 339.8 159.0 341.5 163.4C343.2 167.8 343.2 174.5 343.5 176.7 M343.4 176.1 343.5 178.2 343.3 180.9 343.0 183.4 342.9 185.5 342.8 187.1 342.9 190.5 342.3 191.8 342.1 195.2 341.6 196.5 341.3 198.2 340.8 200.8 340.0 202.8 339.3 206.0 338.4 207.8 337.9 209.6 337.0 211.2 336.0 213.5 334.9 216.0 333.4 218.5 332.2 220.2 331.0 223.0 329.4 224.9 327.7 227.0 325.9 227.7 324.2 229.0 322.0 231.6 320.0 232.8 317.6 234.4 315.6 235.5 313.3 236.4 310.9 238.2 309.8 239.9 309.0 242.7 307.8 244.3 306.6 246.3 305.3 248.4 303.8 248.9 301.9 251.1 300.2 252.3 298.6 253.4 295.9 255.8 293.3 256.4 291.3 256.3 289.0 254.6 287.1 254.2 285.1 253.1 282.7 251.4 281.0 250.4 279.6 247.5 277.5 245.9 275.8 244.6 274.3 242.5 272.3 241.1 270.7 239.6 268.7 238.8 266.1 237.6 263.8 235.7 261.6 235.8 259.2 234.9 256.6 233.2 254.2 232.6 251.8 230.7 250.7 228.9 249.6 226.9 248.3 225.1 247.2 223.5 246.1 222.4 245.2 219.4 243.9 217.8 242.3 215.8 241.0 215.6 239.2 213.2 237.4 211.0 235.9 209.6 234.4 207.3 232.2 206.3 230.7 202.8" fill="none" stroke="#e0a800" stroke-width="2.6" stroke-linejoin="round" stroke-linecap="round" stroke-dasharray="8 6"/>
<path d="M106.0 145.0C107.2 144.6 110.9 143.5 113.3 142.3C115.7 141.1 118.2 139.2 120.6 137.7C123.0 136.2 125.2 134.5 127.9 133.2C130.6 131.8 134.0 130.4 137.0 129.6C140.0 128.8 143.7 129.3 146.0 128.2C148.3 127.1 147.9 124.4 150.7 122.8C153.5 121.2 158.7 120.1 162.7 118.8C166.7 117.5 170.7 116.0 174.7 114.8C178.7 113.6 183.1 111.7 186.7 111.4C190.2 111.1 192.7 113.0 196.0 112.8C199.3 112.6 203.2 110.1 206.8 110.0C210.4 109.9 214.1 112.3 217.4 112.0C220.7 111.7 224.1 107.8 226.8 108.0C229.5 108.2 231.1 111.8 233.5 113.4C235.9 115.0 238.8 117.1 241.5 117.4C244.2 117.7 246.4 115.0 249.5 115.4C252.6 115.8 257.1 118.6 260.2 120.0C263.3 121.4 265.6 123.2 268.2 124.0C270.8 124.8 273.9 124.2 276.0 124.5C278.1 124.8 278.4 124.5 281.0 125.6C283.6 126.7 288.5 129.6 291.8 131.0C295.1 132.4 298.3 133.2 301.0 133.8C303.7 134.4 306.1 133.6 308.2 134.7C310.3 135.8 311.9 138.0 313.7 140.1C315.5 142.2 317.4 145.8 319.1 147.4C320.8 149.1 322.2 148.5 324.0 150.0C325.8 151.5 328.2 154.4 330.0 156.4C331.8 158.4 333.6 159.9 334.8 162.0C336.0 164.1 336.6 165.1 337.3 169.0C338.0 172.9 339.4 180.2 339.2 185.5C339.0 190.8 337.6 196.2 336.2 200.7C334.8 205.2 332.8 208.2 330.8 212.7C328.8 217.1 326.4 222.7 324.2 227.4C322.0 232.1 319.7 237.2 317.5 240.8C315.3 244.4 313.1 246.3 310.8 248.8C308.6 251.3 305.6 253.5 304.0 256.0C302.4 258.5 302.4 261.9 301.0 263.7C299.6 265.4 297.6 266.5 295.5 266.5C293.4 266.5 290.6 265.7 288.2 263.7C285.8 261.7 283.1 255.7 281.0 254.6C278.9 253.5 277.3 257.1 275.5 257.4C273.7 257.7 271.9 257.7 270.0 256.5C268.1 255.3 266.3 252.8 264.0 250.0C261.7 247.2 258.4 242.4 256.0 239.5C253.6 236.6 252.1 235.2 249.4 232.8C246.7 230.4 242.7 227.3 240.0 224.8C237.3 222.3 235.2 220.0 233.4 218.0C231.6 216.0 231.0 214.9 229.4 212.7C227.8 210.5 224.9 206.0 224.0 204.7" fill="none" stroke="#c00000" stroke-width="2.6" stroke-linejoin="round" stroke-linecap="round"/>
<path d="M251.0 170.5 252.0 170.4 253.1 165.3 253.9 167.3 254.5 166.9 255.1 170.1 255.9 169.6 257.0 158.5 258.0 165.4 259.0 160.7 260.0 172.8 261.2 162.4 263.0 168.3 264.0 161.6 265.0 167.8 266.2 167.0 267.3 159.6 268.4 167.1 269.5 164.1 270.2 163.1 271.2 171.3 272.1 170.0 273.2 172.1 274.7 167.1 276.0 168.1 276.6 178.9 277.5 168.5 278.6 174.2 279.1 181.9 279.6 171.0 280.2 170.4 280.6 177.7 281.0 178.0 281.7 172.9 282.0 179.9 282.0 177.5 282.0 184.5 282.0 178.3 282.0 188.2 282.0 179.9" fill="none" stroke="#bfbfbf" stroke-width="2.4" stroke-linejoin="round" stroke-linecap="round"/>
<path d="M175.0 169.0 176.5 170.6 178.0 170.4 179.5 169.9 181.0 169.1 182.5 170.9 184.0 170.9 185.5 170.0 187.0 170.0 188.5 169.2 190.0 168.5 191.5 169.6 193.0 170.3 194.5 168.7 196.0 170.9 197.5 169.2 199.0 169.2 200.5 168.6 201.0 171.5 201.0 197.7 200.5 198.1 199.0 197.3 197.5 195.6 196.0 196.5 194.5 197.0 193.0 195.8 191.5 198.4 190.0 196.6 188.5 196.0 187.0 198.0 185.5 195.9 184.0 198.3 182.5 196.9 181.0 197.2 179.5 196.5 178.0 197.0 176.5 196.1 175.0 195.6Z" fill="#4472c4"/>
<path d="M184.0 168.6 185.5 166.6 187.0 166.4 188.5 168.7 190.0 166.7 191.5 166.6 193.0 167.9 194.5 167.1 196.0 168.4 197.5 166.9 199.0 168.6 200.5 167.1 202.0 167.7 203.5 168.5 205.0 167.9 206.5 168.5 208.0 168.0 209.5 166.4 211.0 168.4 212.5 167.7 214.0 167.0 215.5 166.8 217.0 168.3 218.5 167.7 220.0 168.6 221.5 168.2 223.0 168.6 224.5 167.7 226.0 168.0 227.5 167.8 229.0 166.9 229.0 174.6 227.5 173.0 226.0 174.2 224.5 174.6 223.0 173.9 221.5 172.6 220.0 174.3 218.5 173.9 217.0 172.7 215.5 172.4 214.0 173.6 212.5 172.4 211.0 174.5 209.5 173.5 208.0 173.5 206.5 173.3 205.0 173.9 203.5 174.5 202.0 173.0 200.5 173.2 199.0 173.7 197.5 173.0 196.0 173.7 194.5 173.6 193.0 173.3 191.5 173.9 190.0 173.6 188.5 172.5 187.0 174.7 185.5 173.2 184.0 173.3Z" fill="#8ea7dc"/>
<path d="M199.0 174.1 200.5 174.2 202.0 174.1 203.5 172.5 205.0 173.5 206.5 173.1 208.0 173.4 209.5 172.6 211.0 172.7 212.5 173.2 214.0 172.7 215.5 173.2 217.0 172.3 218.5 172.5 220.0 173.7 221.5 173.1 223.0 173.3 224.5 173.8 226.0 173.0 227.0 172.4 227.0 180.1 226.0 179.7 224.5 179.8 223.0 179.7 221.5 180.4 220.0 179.2 218.5 180.0 217.0 179.2 215.5 179.6 214.0 179.8 212.5 179.1 211.0 178.7 209.5 179.4 208.0 179.9 206.5 179.7 205.0 179.4 203.5 179.8 202.0 178.9 200.5 178.9 199.0 179.1Z" fill="#c00000"/>
<path d="M199.0 179.6 200.5 179.9 202.0 178.2 203.5 180.3 205.0 178.2 206.5 179.4 208.0 177.9 209.5 179.7 211.0 178.1 212.5 179.5 214.0 179.6 215.5 179.7 217.0 178.8 218.5 180.0 220.0 180.3 221.0 178.0 221.0 186.0 220.0 187.2 218.5 186.6 217.0 185.9 215.5 185.5 214.0 187.2 212.5 184.9 211.0 186.7 209.5 186.9 208.0 185.1 206.5 185.5 205.0 185.5 203.5 186.1 202.0 185.7 200.5 187.0 199.0 187.1Z" fill="#e0a800"/>
<path d="M215.0 167.8 216.5 168.9 218.0 168.7 219.5 167.4 221.0 168.7 222.5 168.3 224.0 167.1 225.5 168.9 226.0 167.5 226.0 172.6 225.5 172.8 224.0 173.2 222.5 172.2 221.0 173.4 219.5 173.7 218.0 173.0 216.5 173.6 215.0 173.2Z" fill="#e0a800"/>
<path d="M186.0 185.5 187.5 184.4 189.0 184.4 190.5 185.2 192.0 184.1 193.5 185.6 195.0 185.5 196.5 184.1 198.0 185.4 199.0 185.0 199.0 190.8 198.0 191.4 196.5 191.5 195.0 190.3 193.5 191.2 192.0 191.1 190.5 191.4 189.0 189.6 187.5 191.4 186.0 189.9Z" fill="#c00000"/>
<path d="M204.0 186.3 205.5 186.4 207.0 186.9 208.5 185.4 210.0 185.1 210.0 193.6 208.5 192.7 207.0 192.7 205.5 193.6 204.0 192.4Z" fill="#e0a800"/>
<path d="M210.0 183.2 211.5 183.3 213.0 184.2 214.5 183.4 216.0 183.3 216.0 194.9 214.5 194.8 213.0 194.4 211.5 194.8 210.0 195.7Z" fill="#0070c0"/>
<path d="M199.0 186.1 200.5 185.7 202.0 186.7 203.5 185.6 205.0 186.0 206.5 185.7 208.0 185.8 209.5 186.9 211.0 185.2 212.0 185.9 212.0 195.4 211.0 195.7 209.5 197.0 208.0 195.7 206.5 196.2 205.0 195.8 203.5 196.5 202.0 195.9 200.5 195.3 199.0 195.9Z" fill="#8ea7dc" opacity="0.8"/>
<g fill="#4472c4"><rect x="213.0" y="209.3" width="1.9" height="1.9"/><rect x="223.5" y="214.5" width="1.9" height="1.9"/><rect x="220.1" y="214.0" width="1.9" height="1.9"/><rect x="176.8" y="202.1" width="1.9" height="1.9"/><rect x="232.5" y="206.9" width="1.9" height="1.9"/><rect x="230.0" y="192.9" width="1.9" height="1.9"/><rect x="203.6" y="196.4" width="1.9" height="1.9"/><rect x="208.2" y="204.9" width="1.9" height="1.9"/><rect x="175.8" y="195.6" width="1.9" height="1.9"/><rect x="192.0" y="213.8" width="1.9" height="1.9"/><rect x="221.7" y="194.1" width="1.9" height="1.9"/><rect x="223.6" y="193.6" width="1.9" height="1.9"/><rect x="212.7" y="193.3" width="1.9" height="1.9"/><rect x="175.1" y="212.7" width="1.9" height="1.9"/><rect x="187.8" y="195.6" width="1.9" height="1.9"/><rect x="234.9" y="212.7" width="1.9" height="1.9"/><rect x="192.6" y="215.0" width="1.9" height="1.9"/><rect x="207.9" y="207.6" width="1.9" height="1.9"/><rect x="187.5" y="214.5" width="1.9" height="1.9"/><rect x="217.1" y="215.1" width="1.9" height="1.9"/><rect x="229.5" y="197.8" width="1.9" height="1.9"/><rect x="197.0" y="194.3" width="1.9" height="1.9"/><rect x="183.9" y="191.7" width="1.9" height="1.9"/><rect x="193.4" y="205.7" width="1.9" height="1.9"/><rect x="175.2" y="207.6" width="1.9" height="1.9"/><rect x="195.6" y="198.1" width="1.9" height="1.9"/><rect x="224.9" y="202.5" width="1.9" height="1.9"/><rect x="194.3" y="202.5" width="1.9" height="1.9"/><rect x="218.0" y="191.5" width="1.9" height="1.9"/><rect x="234.5" y="190.6" width="1.9" height="1.9"/><rect x="220.7" y="212.0" width="1.9" height="1.9"/><rect x="176.1" y="210.5" width="1.9" height="1.9"/><rect x="197.3" y="205.0" width="1.9" height="1.9"/><rect x="175.6" y="191.2" width="1.9" height="1.9"/><rect x="186.0" y="214.8" width="1.9" height="1.9"/><rect x="187.0" y="209.6" width="1.9" height="1.9"/><rect x="231.7" y="214.5" width="1.9" height="1.9"/><rect x="196.0" y="199.2" width="1.9" height="1.9"/><rect x="207.0" y="210.2" width="1.9" height="1.9"/><rect x="181.6" y="209.5" width="1.9" height="1.9"/><rect x="223.6" y="212.4" width="1.9" height="1.9"/><rect x="177.2" y="214.6" width="1.9" height="1.9"/><rect x="180.6" y="198.9" width="1.9" height="1.9"/><rect x="212.3" y="213.9" width="1.9" height="1.9"/><rect x="195.7" y="214.0" width="1.9" height="1.9"/><rect x="208.3" y="198.1" width="1.9" height="1.9"/><rect x="194.3" y="194.6" width="1.9" height="1.9"/><rect x="179.8" y="193.9" width="1.9" height="1.9"/><rect x="217.0" y="215.9" width="1.9" height="1.9"/><rect x="184.9" y="191.3" width="1.9" height="1.9"/><rect x="235.2" y="203.9" width="1.9" height="1.9"/><rect x="199.8" y="196.2" width="1.9" height="1.9"/><rect x="211.2" y="211.5" width="1.9" height="1.9"/><rect x="202.8" y="201.0" width="1.9" height="1.9"/><rect x="178.4" y="213.8" width="1.9" height="1.9"/><rect x="177.0" y="202.8" width="1.9" height="1.9"/><rect x="226.1" y="193.4" width="1.9" height="1.9"/><rect x="219.6" y="214.7" width="1.9" height="1.9"/><rect x="213.5" y="210.5" width="1.9" height="1.9"/><rect x="181.5" y="201.3" width="1.9" height="1.9"/><rect x="184.1" y="212.0" width="1.9" height="1.9"/><rect x="193.0" y="201.8" width="1.9" height="1.9"/><rect x="236.0" y="212.2" width="1.9" height="1.9"/><rect x="234.5" y="201.8" width="1.9" height="1.9"/><rect x="204.8" y="209.0" width="1.9" height="1.9"/><rect x="204.2" y="197.6" width="1.9" height="1.9"/><rect x="199.6" y="193.8" width="1.9" height="1.9"/><rect x="198.0" y="215.7" width="1.9" height="1.9"/><rect x="233.5" y="206.3" width="1.9" height="1.9"/><rect x="205.5" y="198.8" width="1.9" height="1.9"/><rect x="180.4" y="197.1" width="1.9" height="1.9"/><rect x="222.7" y="212.6" width="1.9" height="1.9"/><rect x="197.0" y="210.4" width="1.9" height="1.9"/><rect x="222.3" y="208.1" width="1.9" height="1.9"/><rect x="215.5" y="209.8" width="1.9" height="1.9"/><rect x="197.2" y="208.3" width="1.9" height="1.9"/><rect x="192.1" y="202.6" width="1.9" height="1.9"/><rect x="222.0" y="208.0" width="1.9" height="1.9"/><rect x="192.9" y="214.6" width="1.9" height="1.9"/><rect x="214.6" y="205.1" width="1.9" height="1.9"/><rect x="175.7" y="204.2" width="1.9" height="1.9"/><rect x="190.3" y="207.5" width="1.9" height="1.9"/><rect x="203.2" y="211.2" width="1.9" height="1.9"/><rect x="214.5" y="210.7" width="1.9" height="1.9"/><rect x="196.2" y="206.7" width="1.9" height="1.9"/><rect x="220.0" y="211.5" width="1.9" height="1.9"/><rect x="196.4" y="211.9" width="1.9" height="1.9"/><rect x="228.1" y="207.9" width="1.9" height="1.9"/><rect x="234.5" y="214.9" width="1.9" height="1.9"/><rect x="206.6" y="203.8" width="1.9" height="1.9"/><rect x="185.1" y="211.8" width="1.9" height="1.9"/><rect x="232.2" y="202.4" width="1.9" height="1.9"/><rect x="217.2" y="208.7" width="1.9" height="1.9"/><rect x="219.6" y="194.5" width="1.9" height="1.9"/><rect x="222.6" y="205.1" width="1.9" height="1.9"/><rect x="215.6" y="200.9" width="1.9" height="1.9"/><rect x="213.0" y="210.1" width="1.9" height="1.9"/><rect x="213.8" y="208.7" width="1.9" height="1.9"/><rect x="176.7" y="194.2" width="1.9" height="1.9"/><rect x="201.9" y="206.9" width="1.9" height="1.9"/><rect x="188.4" y="207.8" width="1.9" height="1.9"/><rect x="213.5" y="191.1" width="1.9" height="1.9"/><rect x="203.8" y="195.9" width="1.9" height="1.9"/><rect x="178.3" y="193.5" width="1.9" height="1.9"/><rect x="194.4" y="194.7" width="1.9" height="1.9"/><rect x="186.8" y="190.9" width="1.9" height="1.9"/><rect x="203.4" y="199.9" width="1.9" height="1.9"/><rect x="212.3" y="205.3" width="1.9" height="1.9"/><rect x="189.5" y="213.5" width="1.9" height="1.9"/><rect x="175.0" y="200.5" width="1.9" height="1.9"/><rect x="192.0" y="200.7" width="1.9" height="1.9"/><rect x="182.0" y="211.6" width="1.9" height="1.9"/><rect x="197.8" y="190.9" width="1.9" height="1.9"/><rect x="212.4" y="192.5" width="1.9" height="1.9"/><rect x="208.3" y="198.8" width="1.9" height="1.9"/><rect x="210.4" y="214.9" width="1.9" height="1.9"/><rect x="224.9" y="200.9" width="1.9" height="1.9"/><rect x="224.6" y="206.7" width="1.9" height="1.9"/><rect x="197.5" y="193.7" width="1.9" height="1.9"/><rect x="211.4" y="204.7" width="1.9" height="1.9"/><rect x="233.4" y="215.2" width="1.9" height="1.9"/><rect x="212.1" y="199.1" width="1.9" height="1.9"/><rect x="229.5" y="190.0" width="1.9" height="1.9"/><rect x="181.6" y="204.7" width="1.9" height="1.9"/><rect x="212.5" y="193.7" width="1.9" height="1.9"/><rect x="213.4" y="213.2" width="1.9" height="1.9"/><rect x="197.9" y="201.2" width="1.9" height="1.9"/><rect x="188.8" y="197.6" width="1.9" height="1.9"/><rect x="234.3" y="199.9" width="1.9" height="1.9"/><rect x="233.6" y="213.8" width="1.9" height="1.9"/><rect x="211.3" y="196.8" width="1.9" height="1.9"/><rect x="234.8" y="202.9" width="1.9" height="1.9"/><rect x="200.3" y="198.3" width="1.9" height="1.9"/><rect x="235.0" y="202.8" width="1.9" height="1.9"/><rect x="192.5" y="202.4" width="1.9" height="1.9"/><rect x="182.4" y="206.2" width="1.9" height="1.9"/><rect x="202.1" y="197.6" width="1.9" height="1.9"/><rect x="222.7" y="211.5" width="1.9" height="1.9"/><rect x="175.8" y="203.8" width="1.9" height="1.9"/><rect x="191.7" y="214.3" width="1.9" height="1.9"/><rect x="222.7" y="196.4" width="1.9" height="1.9"/><rect x="191.3" y="194.0" width="1.9" height="1.9"/><rect x="235.3" y="197.6" width="1.9" height="1.9"/><rect x="212.1" y="202.3" width="1.9" height="1.9"/><rect x="214.3" y="205.7" width="1.9" height="1.9"/><rect x="220.4" y="193.1" width="1.9" height="1.9"/><rect x="221.4" y="197.8" width="1.9" height="1.9"/><rect x="207.5" y="198.7" width="1.9" height="1.9"/><rect x="193.1" y="203.8" width="1.9" height="1.9"/><rect x="203.3" y="199.4" width="1.9" height="1.9"/><rect x="220.4" y="205.4" width="1.9" height="1.9"/><rect x="177.2" y="196.6" width="1.9" height="1.9"/><rect x="202.8" y="213.8" width="1.9" height="1.9"/><rect x="229.2" y="204.2" width="1.9" height="1.9"/><rect x="175.9" y="210.2" width="1.9" height="1.9"/><rect x="201.1" y="205.0" width="1.9" height="1.9"/><rect x="218.2" y="206.4" width="1.9" height="1.9"/><rect x="204.4" y="213.7" width="1.9" height="1.9"/><rect x="198.5" y="200.2" width="1.9" height="1.9"/><rect x="227.0" y="195.1" width="1.9" height="1.9"/><rect x="193.1" y="211.6" width="1.9" height="1.9"/><rect x="179.0" y="211.7" width="1.9" height="1.9"/><rect x="217.4" y="201.3" width="1.9" height="1.9"/><rect x="192.5" y="210.3" width="1.9" height="1.9"/><rect x="230.6" y="193.7" width="1.9" height="1.9"/><rect x="204.2" y="204.3" width="1.9" height="1.9"/><rect x="205.4" y="198.6" width="1.9" height="1.9"/><rect x="184.4" y="205.2" width="1.9" height="1.9"/><rect x="224.5" y="191.8" width="1.9" height="1.9"/><rect x="189.0" y="211.3" width="1.9" height="1.9"/><rect x="246.6" y="184.1" width="1.9" height="1.9"/><rect x="247.2" y="195.2" width="1.9" height="1.9"/><rect x="233.0" y="191.4" width="1.9" height="1.9"/><rect x="214.3" y="162.3" width="1.9" height="1.9"/><rect x="234.8" y="183.3" width="1.9" height="1.9"/><rect x="246.5" y="201.5" width="1.9" height="1.9"/><rect x="218.4" y="169.5" width="1.9" height="1.9"/><rect x="197.0" y="141.9" width="1.9" height="1.9"/><rect x="197.8" y="146.8" width="1.9" height="1.9"/><rect x="246.9" y="182.7" width="1.9" height="1.9"/><rect x="221.6" y="170.2" width="1.9" height="1.9"/><rect x="233.6" y="170.3" width="1.9" height="1.9"/><rect x="205.9" y="139.0" width="1.9" height="1.9"/><rect x="235.4" y="188.0" width="1.9" height="1.9"/><rect x="232.8" y="172.7" width="1.9" height="1.9"/><rect x="227.5" y="180.3" width="1.9" height="1.9"/><rect x="223.8" y="169.8" width="1.9" height="1.9"/><rect x="224.1" y="159.6" width="1.9" height="1.9"/><rect x="242.1" y="180.0" width="1.9" height="1.9"/><rect x="231.7" y="177.7" width="1.9" height="1.9"/><rect x="229.6" y="185.0" width="1.9" height="1.9"/><rect x="224.4" y="176.5" width="1.9" height="1.9"/><rect x="204.8" y="135.7" width="1.9" height="1.9"/><rect x="214.8" y="153.5" width="1.9" height="1.9"/><rect x="207.1" y="162.8" width="1.9" height="1.9"/><rect x="241.7" y="177.8" width="1.9" height="1.9"/><rect x="232.9" y="176.7" width="1.9" height="1.9"/><rect x="220.3" y="159.9" width="1.9" height="1.9"/><rect x="216.5" y="171.0" width="1.9" height="1.9"/><rect x="240.5" y="181.4" width="1.9" height="1.9"/><rect x="247.9" y="197.0" width="1.9" height="1.9"/><rect x="235.5" y="176.0" width="1.9" height="1.9"/><rect x="198.9" y="142.4" width="1.9" height="1.9"/><rect x="207.7" y="143.2" width="1.9" height="1.9"/><rect x="235.6" y="189.2" width="1.9" height="1.9"/><rect x="251.5" y="196.8" width="1.9" height="1.9"/><rect x="220.5" y="165.3" width="1.9" height="1.9"/><rect x="207.2" y="149.3" width="1.9" height="1.9"/><rect x="244.4" y="193.4" width="1.9" height="1.9"/><rect x="210.8" y="155.3" width="1.9" height="1.9"/><rect x="212.9" y="148.6" width="1.9" height="1.9"/><rect x="249.9" y="207.2" width="1.9" height="1.9"/><rect x="240.9" y="184.6" width="1.9" height="1.9"/><rect x="247.6" y="204.2" width="1.9" height="1.9"/><rect x="218.7" y="163.3" width="1.9" height="1.9"/><rect x="205.0" y="143.8" width="1.9" height="1.9"/><rect x="207.0" y="154.2" width="1.9" height="1.9"/><rect x="252.6" y="200.3" width="1.9" height="1.9"/><rect x="223.2" y="174.7" width="1.9" height="1.9"/><rect x="235.5" y="182.8" width="1.9" height="1.9"/><rect x="243.8" y="186.4" width="1.9" height="1.9"/><rect x="230.8" y="160.7" width="1.9" height="1.9"/><rect x="207.3" y="143.5" width="1.9" height="1.9"/><rect x="203.2" y="151.7" width="1.9" height="1.9"/><rect x="227.0" y="167.7" width="1.9" height="1.9"/><rect x="209.6" y="145.4" width="1.9" height="1.9"/><rect x="246.2" y="196.8" width="1.9" height="1.9"/><rect x="201.4" y="137.2" width="1.9" height="1.9"/><rect x="213.0" y="154.2" width="1.9" height="1.9"/><rect x="196.4" y="151.8" width="1.9" height="1.9"/><rect x="210.2" y="150.9" width="1.9" height="1.9"/><rect x="223.9" y="172.0" width="1.9" height="1.9"/><rect x="206.6" y="154.7" width="1.9" height="1.9"/><rect x="238.5" y="174.7" width="1.9" height="1.9"/><rect x="201.5" y="141.9" width="1.9" height="1.9"/><rect x="230.3" y="179.6" width="1.9" height="1.9"/><rect x="246.4" y="184.4" width="1.9" height="1.9"/><rect x="229.7" y="165.3" width="1.9" height="1.9"/><rect x="203.8" y="141.8" width="1.9" height="1.9"/><rect x="247.7" y="187.4" width="1.9" height="1.9"/><rect x="201.4" y="145.2" width="1.9" height="1.9"/><rect x="203.7" y="147.6" width="1.9" height="1.9"/><rect x="207.6" y="159.9" width="1.9" height="1.9"/><rect x="198.5" y="140.7" width="1.9" height="1.9"/><rect x="215.3" y="163.7" width="1.9" height="1.9"/><rect x="221.1" y="162.0" width="1.9" height="1.9"/><rect x="252.3" y="202.5" width="1.9" height="1.9"/><rect x="231.4" y="182.9" width="1.9" height="1.9"/><rect x="243.1" y="186.6" width="1.9" height="1.9"/><rect x="236.0" y="190.9" width="1.9" height="1.9"/><rect x="216.2" y="158.5" width="1.9" height="1.9"/><rect x="206.2" y="154.7" width="1.9" height="1.9"/><rect x="209.9" y="163.5" width="1.9" height="1.9"/><rect x="224.6" y="169.5" width="1.9" height="1.9"/><rect x="205.3" y="155.1" width="1.9" height="1.9"/><rect x="254.7" y="197.4" width="1.9" height="1.9"/><rect x="222.1" y="165.7" width="1.9" height="1.9"/><rect x="201.9" y="147.0" width="1.9" height="1.9"/><rect x="235.0" y="188.0" width="1.9" height="1.9"/><rect x="212.5" y="151.1" width="1.9" height="1.9"/><rect x="256.7" y="195.0" width="1.9" height="1.9"/><rect x="223.6" y="160.7" width="1.9" height="1.9"/><rect x="223.5" y="173.1" width="1.9" height="1.9"/><rect x="252.9" y="208.4" width="1.9" height="1.9"/><rect x="227.8" y="184.2" width="1.9" height="1.9"/><rect x="217.2" y="175.5" width="1.9" height="1.9"/><rect x="202.9" y="142.8" width="1.9" height="1.9"/><rect x="247.9" y="192.9" width="1.9" height="1.9"/><rect x="211.3" y="159.7" width="1.9" height="1.9"/><rect x="223.5" y="159.7" width="1.9" height="1.9"/><rect x="216.2" y="171.2" width="1.9" height="1.9"/><rect x="251.9" y="196.7" width="1.9" height="1.9"/><rect x="217.5" y="172.0" width="1.9" height="1.9"/><rect x="221.0" y="167.1" width="1.9" height="1.9"/><rect x="208.6" y="153.7" width="1.9" height="1.9"/><rect x="215.3" y="150.9" width="1.9" height="1.9"/><rect x="243.3" y="186.7" width="1.9" height="1.9"/><rect x="243.1" y="184.4" width="1.9" height="1.9"/><rect x="229.9" y="168.7" width="1.9" height="1.9"/><rect x="219.2" y="158.3" width="1.9" height="1.9"/><rect x="215.8" y="160.6" width="1.9" height="1.9"/><rect x="238.0" y="193.7" width="1.9" height="1.9"/><rect x="251.6" y="196.3" width="1.9" height="1.9"/><rect x="238.0" y="188.7" width="1.9" height="1.9"/><rect x="221.6" y="167.1" width="1.9" height="1.9"/><rect x="226.2" y="167.7" width="1.9" height="1.9"/><rect x="202.9" y="147.9" width="1.9" height="1.9"/><rect x="245.5" y="186.5" width="1.9" height="1.9"/><rect x="248.9" y="203.9" width="1.9" height="1.9"/><rect x="207.6" y="148.3" width="1.9" height="1.9"/><rect x="259.1" y="205.2" width="1.9" height="1.9"/><rect x="250.3" y="196.4" width="1.9" height="1.9"/><rect x="211.9" y="160.7" width="1.9" height="1.9"/><rect x="220.0" y="157.0" width="1.9" height="1.9"/><rect x="215.1" y="164.4" width="1.9" height="1.9"/><rect x="212.1" y="158.8" width="1.9" height="1.9"/><rect x="252.6" y="197.4" width="1.9" height="1.9"/><rect x="208.7" y="148.8" width="1.9" height="1.9"/><rect x="238.3" y="193.0" width="1.9" height="1.9"/><rect x="209.2" y="150.9" width="1.9" height="1.9"/><rect x="240.4" y="175.5" width="1.9" height="1.9"/><rect x="239.2" y="177.1" width="1.9" height="1.9"/><rect x="204.4" y="150.3" width="1.9" height="1.9"/><rect x="252.4" y="195.9" width="1.9" height="1.9"/><rect x="224.2" y="174.7" width="1.9" height="1.9"/><rect x="213.9" y="162.0" width="1.9" height="1.9"/><rect x="249.7" y="195.3" width="1.9" height="1.9"/><rect x="207.3" y="150.1" width="1.9" height="1.9"/><rect x="206.0" y="154.3" width="1.9" height="1.9"/><rect x="238.9" y="186.0" width="1.9" height="1.9"/><rect x="203.2" y="150.3" width="1.9" height="1.9"/><rect x="251.1" y="207.9" width="1.9" height="1.9"/><rect x="242.1" y="178.0" width="1.9" height="1.9"/><rect x="243.8" y="185.2" width="1.9" height="1.9"/><rect x="201.4" y="142.0" width="1.9" height="1.9"/><rect x="200.3" y="148.8" width="1.9" height="1.9"/><rect x="209.5" y="151.5" width="1.9" height="1.9"/><rect x="250.0" y="196.7" width="1.9" height="1.9"/><rect x="258.1" y="202.1" width="1.9" height="1.9"/><rect x="248.5" y="196.4" width="1.9" height="1.9"/><rect x="199.5" y="143.1" width="1.9" height="1.9"/><rect x="228.2" y="174.2" width="1.9" height="1.9"/><rect x="203.3" y="147.1" width="1.9" height="1.9"/><rect x="215.7" y="166.6" width="1.9" height="1.9"/><rect x="223.5" y="164.9" width="1.9" height="1.9"/><rect x="260.1" y="195.8" width="1.9" height="1.9"/><rect x="245.6" y="186.4" width="1.9" height="1.9"/><rect x="206.2" y="146.1" width="1.9" height="1.9"/><rect x="247.1" y="186.3" width="1.9" height="1.9"/><rect x="216.3" y="162.7" width="1.9" height="1.9"/><rect x="245.2" y="188.2" width="1.9" height="1.9"/><rect x="223.7" y="162.9" width="1.9" height="1.9"/><rect x="201.7" y="140.0" width="1.9" height="1.9"/><rect x="231.3" y="180.0" width="1.9" height="1.9"/><rect x="205.1" y="154.9" width="1.9" height="1.9"/><rect x="228.7" y="182.6" width="1.9" height="1.9"/><rect x="203.1" y="151.8" width="1.9" height="1.9"/><rect x="204.0" y="139.1" width="1.9" height="1.9"/><rect x="197.4" y="141.4" width="1.9" height="1.9"/><rect x="221.7" y="158.4" width="1.9" height="1.9"/><rect x="218.9" y="154.1" width="1.9" height="1.9"/><rect x="220.6" y="167.7" width="1.9" height="1.9"/><rect x="256.1" y="202.2" width="1.9" height="1.9"/><rect x="201.5" y="148.8" width="1.9" height="1.9"/><rect x="225.7" y="175.3" width="1.9" height="1.9"/><rect x="238.0" y="174.9" width="1.9" height="1.9"/><rect x="205.1" y="141.1" width="1.9" height="1.9"/><rect x="253.5" y="203.6" width="1.9" height="1.9"/><rect x="228.2" y="169.3" width="1.9" height="1.9"/><rect x="245.0" y="202.6" width="1.9" height="1.9"/><rect x="230.2" y="175.9" width="1.9" height="1.9"/><rect x="211.0" y="151.2" width="1.9" height="1.9"/><rect x="223.3" y="173.7" width="1.9" height="1.9"/><rect x="202.3" y="148.2" width="1.9" height="1.9"/><rect x="202.5" y="152.1" width="1.9" height="1.9"/><rect x="245.3" y="190.0" width="1.9" height="1.9"/><rect x="252.8" y="195.6" width="1.9" height="1.9"/><rect x="203.9" y="156.4" width="1.9" height="1.9"/><rect x="245.9" y="196.0" width="1.9" height="1.9"/><rect x="220.8" y="172.5" width="1.9" height="1.9"/><rect x="224.7" y="159.3" width="1.9" height="1.9"/><rect x="235.7" y="177.4" width="1.9" height="1.9"/><rect x="199.6" y="149.1" width="1.9" height="1.9"/><rect x="219.2" y="164.6" width="1.9" height="1.9"/><rect x="239.1" y="174.1" width="1.9" height="1.9"/><rect x="228.5" y="178.1" width="1.9" height="1.9"/><rect x="235.8" y="187.5" width="1.9" height="1.9"/><rect x="232.6" y="190.5" width="1.9" height="1.9"/><rect x="223.5" y="169.6" width="1.9" height="1.9"/><rect x="238.2" y="191.8" width="1.9" height="1.9"/></g>
<path d="M236.8 167.1 237.5 197.8 238.1 168.4 238.7 201.0" fill="none" stroke="#e0a800" stroke-width="1.8" stroke-linejoin="round" stroke-linecap="round"/>
<path d="M239.8 173.5 240.5 203.0 241.4 173.6" fill="none" stroke="#0070c0" stroke-width="1.8" stroke-linejoin="round" stroke-linecap="round"/>
<path d="M243.8 178.4 244.8 204.9 245.9 180.5" fill="none" stroke="#ffcc80" stroke-width="1.8" stroke-linejoin="round" stroke-linecap="round"/>
<path d="M246.8 176.2 247.8 200.3 248.5 178.7" fill="none" stroke="#5e9e3a" stroke-width="1.8" stroke-linejoin="round" stroke-linecap="round"/>
<path d="M250.8 172.3 251.8 204.7 252.9 172.4" fill="none" stroke="#8ea7dc" stroke-width="1.8" stroke-linejoin="round" stroke-linecap="round"/>
<path d="M151.6 169.6 152.9 169.2 154.2 169.0 155.5 171.2 156.8 170.2 158.1 170.6 159.4 170.2 160.7 169.7 162.0 170.7 163.3 170.2 164.6 170.8 165.9 170.5 167.2 171.0 168.5 169.8 169.8 169.0 171.1 168.9 172.4 170.7 173.7 169.0 175.0 170.5 176.0 170.4 176.0 199.7 175.0 201.9 173.7 199.6 172.4 202.1 171.1 202.0 169.8 200.1 168.5 201.7 167.2 201.7 165.9 199.9 164.6 201.5 163.3 199.9 162.0 197.2 160.7 196.6 159.4 197.4 158.1 194.7 156.8 195.5 155.5 196.4 154.2 196.3 152.9 195.0 151.6 197.2Z" fill="#000"/>
<path d="M151.5 167.7 153.1 197.0 154.3 169.5 155.2 199.4 156.4 169.9 157.7 195.1 159.4 170.4 160.2 200.1 161.4 168.0 162.2 203.6 163.5 168.0 164.5 202.5 165.3 170.2 166.8 207.4 168.5 167.6 170.0 207.1 171.2 170.2 172.3 206.7 174.0 169.0 174.8 206.1 176.0 167.8" fill="none" stroke="#000000" stroke-width="1.6" stroke-linejoin="round" stroke-linecap="round"/>
<path d="M162.8 185.5 L170.2 185.5 L170.2 188 L165.6 188 L165.6 194.5 L162.8 194.5 Z" fill="#fff"/>
<path d="M174.0 196.7 175.0 215.1 176.8 195.0 178.4 214.1 179.5 193.6 181.2 216.1 182.8 193.7 183.7 213.9 185.0 193.3 186.5 213.0 187.5 193.0 189.0 215.4 190.1 196.4 191.9 216.1 193.7 193.1 195.8 216.2 197.5 193.8 199.0 214.7 200.9 193.1 202.9 214.7 204.9 195.3 206.1 215.1 207.2 196.4 209.2 216.2 210.9 194.0 212.6 212.7 213.8 194.1 215.4 215.0 217.2 196.4 219.0 213.8 220.2 192.4 221.2 214.7 222.4 192.3 223.8 210.4 225.2 192.0" fill="none" stroke="#000000" stroke-width="1.9" stroke-linejoin="round" stroke-linecap="round"/>
<path d="M216.0 151.8V204.3M218.8 153.2V202.8M222.1 153.1V206.3M224.8 154.7V205.5M228.7 152.9V208.7M231.4 158.8V203.9M235.3 156.8V197.9" stroke="#000" stroke-width="2.1" fill="none"/>
<path d="M196.0 146.1V163.2M198.9 143.8V160.5M201.8 145.2V162.6M205.7 143.3V165.0M210.2 146.0V164.5M214.4 143.4V162.8" stroke="#000" stroke-width="2.0" fill="none"/>
<g fill="#4472c4"><rect x="243.8" y="181.4" width="1.9" height="1.9"/><rect x="227.1" y="168.5" width="1.9" height="1.9"/><rect x="210.3" y="139.5" width="1.9" height="1.9"/><rect x="252.6" y="196.8" width="1.9" height="1.9"/><rect x="253.2" y="193.6" width="1.9" height="1.9"/><rect x="228.3" y="174.1" width="1.9" height="1.9"/><rect x="225.7" y="155.5" width="1.9" height="1.9"/><rect x="221.2" y="168.2" width="1.9" height="1.9"/><rect x="250.8" y="210.1" width="1.9" height="1.9"/><rect x="252.8" y="188.1" width="1.9" height="1.9"/><rect x="227.7" y="161.9" width="1.9" height="1.9"/><rect x="210.4" y="164.7" width="1.9" height="1.9"/><rect x="256.2" y="201.3" width="1.9" height="1.9"/><rect x="226.1" y="175.4" width="1.9" height="1.9"/><rect x="245.2" y="178.6" width="1.9" height="1.9"/><rect x="193.5" y="148.1" width="1.9" height="1.9"/><rect x="203.3" y="146.6" width="1.9" height="1.9"/><rect x="244.9" y="190.5" width="1.9" height="1.9"/><rect x="237.8" y="181.8" width="1.9" height="1.9"/><rect x="205.0" y="136.8" width="1.9" height="1.9"/><rect x="225.6" y="179.8" width="1.9" height="1.9"/><rect x="240.5" y="184.0" width="1.9" height="1.9"/><rect x="217.6" y="149.5" width="1.9" height="1.9"/><rect x="231.6" y="174.5" width="1.9" height="1.9"/><rect x="220.6" y="169.8" width="1.9" height="1.9"/><rect x="196.3" y="137.9" width="1.9" height="1.9"/><rect x="207.8" y="145.8" width="1.9" height="1.9"/><rect x="240.7" y="176.1" width="1.9" height="1.9"/><rect x="251.8" y="198.3" width="1.9" height="1.9"/><rect x="228.7" y="175.1" width="1.9" height="1.9"/><rect x="213.2" y="150.7" width="1.9" height="1.9"/><rect x="216.9" y="162.3" width="1.9" height="1.9"/><rect x="245.6" y="200.6" width="1.9" height="1.9"/><rect x="248.6" y="192.7" width="1.9" height="1.9"/><rect x="255.7" y="206.5" width="1.9" height="1.9"/><rect x="243.6" y="188.5" width="1.9" height="1.9"/><rect x="225.6" y="162.6" width="1.9" height="1.9"/><rect x="242.0" y="190.0" width="1.9" height="1.9"/><rect x="210.9" y="162.3" width="1.9" height="1.9"/><rect x="204.7" y="154.1" width="1.9" height="1.9"/><rect x="205.8" y="144.6" width="1.9" height="1.9"/><rect x="232.7" y="166.8" width="1.9" height="1.9"/><rect x="201.9" y="142.9" width="1.9" height="1.9"/><rect x="239.0" y="175.5" width="1.9" height="1.9"/><rect x="213.0" y="142.1" width="1.9" height="1.9"/><rect x="229.4" y="180.2" width="1.9" height="1.9"/><rect x="205.5" y="137.8" width="1.9" height="1.9"/><rect x="225.8" y="174.4" width="1.9" height="1.9"/><rect x="203.7" y="136.6" width="1.9" height="1.9"/><rect x="227.2" y="171.4" width="1.9" height="1.9"/><rect x="196.5" y="136.3" width="1.9" height="1.9"/><rect x="237.8" y="193.5" width="1.9" height="1.9"/><rect x="248.6" y="197.9" width="1.9" height="1.9"/><rect x="238.6" y="180.0" width="1.9" height="1.9"/><rect x="231.6" y="182.4" width="1.9" height="1.9"/><rect x="254.1" y="205.3" width="1.9" height="1.9"/><rect x="208.1" y="151.8" width="1.9" height="1.9"/><rect x="240.5" y="187.1" width="1.9" height="1.9"/><rect x="209.9" y="159.7" width="1.9" height="1.9"/><rect x="222.3" y="165.0" width="1.9" height="1.9"/><rect x="211.7" y="146.9" width="1.9" height="1.9"/><rect x="239.5" y="174.6" width="1.9" height="1.9"/><rect x="234.9" y="184.1" width="1.9" height="1.9"/><rect x="209.1" y="157.0" width="1.9" height="1.9"/><rect x="208.6" y="148.3" width="1.9" height="1.9"/><rect x="209.2" y="155.8" width="1.9" height="1.9"/><rect x="227.9" y="169.1" width="1.9" height="1.9"/><rect x="217.2" y="154.5" width="1.9" height="1.9"/><rect x="234.9" y="176.4" width="1.9" height="1.9"/><rect x="196.1" y="139.1" width="1.9" height="1.9"/><rect x="229.6" y="175.8" width="1.9" height="1.9"/><rect x="252.5" y="197.7" width="1.9" height="1.9"/><rect x="245.2" y="189.4" width="1.9" height="1.9"/><rect x="255.8" y="194.7" width="1.9" height="1.9"/><rect x="247.5" y="198.3" width="1.9" height="1.9"/><rect x="200.5" y="149.5" width="1.9" height="1.9"/><rect x="227.9" y="170.4" width="1.9" height="1.9"/><rect x="194.1" y="138.2" width="1.9" height="1.9"/><rect x="256.2" y="202.0" width="1.9" height="1.9"/><rect x="246.1" y="186.9" width="1.9" height="1.9"/><rect x="228.8" y="161.6" width="1.9" height="1.9"/><rect x="224.1" y="168.0" width="1.9" height="1.9"/><rect x="208.2" y="141.3" width="1.9" height="1.9"/><rect x="239.8" y="187.6" width="1.9" height="1.9"/><rect x="200.5" y="141.7" width="1.9" height="1.9"/><rect x="219.4" y="169.3" width="1.9" height="1.9"/><rect x="205.3" y="141.9" width="1.9" height="1.9"/><rect x="232.5" y="169.3" width="1.9" height="1.9"/><rect x="202.4" y="141.6" width="1.9" height="1.9"/><rect x="214.6" y="163.9" width="1.9" height="1.9"/><rect x="227.8" y="173.1" width="1.9" height="1.9"/><rect x="243.0" y="197.1" width="1.9" height="1.9"/><rect x="234.0" y="169.7" width="1.9" height="1.9"/><rect x="249.6" y="187.4" width="1.9" height="1.9"/><rect x="247.6" y="199.6" width="1.9" height="1.9"/><rect x="199.3" y="147.9" width="1.9" height="1.9"/><rect x="238.7" y="179.1" width="1.9" height="1.9"/><rect x="229.0" y="171.7" width="1.9" height="1.9"/><rect x="221.3" y="163.1" width="1.9" height="1.9"/><rect x="205.1" y="143.7" width="1.9" height="1.9"/><rect x="249.5" y="193.6" width="1.9" height="1.9"/><rect x="216.8" y="164.8" width="1.9" height="1.9"/><rect x="214.9" y="146.0" width="1.9" height="1.9"/><rect x="254.8" y="204.9" width="1.9" height="1.9"/><rect x="237.0" y="175.8" width="1.9" height="1.9"/><rect x="199.8" y="150.1" width="1.9" height="1.9"/><rect x="251.8" y="200.7" width="1.9" height="1.9"/><rect x="240.9" y="183.6" width="1.9" height="1.9"/><rect x="237.7" y="184.4" width="1.9" height="1.9"/><rect x="232.4" y="184.9" width="1.9" height="1.9"/><rect x="225.0" y="164.4" width="1.9" height="1.9"/><rect x="239.9" y="181.9" width="1.9" height="1.9"/><rect x="222.9" y="158.2" width="1.9" height="1.9"/><rect x="220.2" y="165.1" width="1.9" height="1.9"/><rect x="256.8" y="191.0" width="1.9" height="1.9"/><rect x="253.0" y="192.7" width="1.9" height="1.9"/><rect x="224.8" y="157.1" width="1.9" height="1.9"/><rect x="247.4" y="194.7" width="1.9" height="1.9"/><rect x="246.9" y="179.9" width="1.9" height="1.9"/><rect x="243.9" y="183.5" width="1.9" height="1.9"/><rect x="196.4" y="139.9" width="1.9" height="1.9"/><rect x="224.6" y="159.7" width="1.9" height="1.9"/><rect x="200.3" y="149.2" width="1.9" height="1.9"/><rect x="228.2" y="173.8" width="1.9" height="1.9"/><rect x="240.5" y="173.2" width="1.9" height="1.9"/><rect x="238.0" y="181.6" width="1.9" height="1.9"/><rect x="240.1" y="197.3" width="1.9" height="1.9"/><rect x="249.1" y="197.9" width="1.9" height="1.9"/><rect x="211.8" y="160.8" width="1.9" height="1.9"/><rect x="231.7" y="166.6" width="1.9" height="1.9"/><rect x="231.0" y="181.6" width="1.9" height="1.9"/><rect x="197.3" y="134.7" width="1.9" height="1.9"/><rect x="209.5" y="160.3" width="1.9" height="1.9"/><rect x="231.9" y="178.3" width="1.9" height="1.9"/><rect x="240.4" y="184.4" width="1.9" height="1.9"/><rect x="241.9" y="185.6" width="1.9" height="1.9"/><rect x="215.4" y="159.4" width="1.9" height="1.9"/><rect x="232.8" y="177.2" width="1.9" height="1.9"/><rect x="199.4" y="152.7" width="1.9" height="1.9"/><rect x="242.7" y="197.1" width="1.9" height="1.9"/><rect x="234.1" y="169.2" width="1.9" height="1.9"/><rect x="252.9" y="192.8" width="1.9" height="1.9"/><rect x="196.6" y="135.2" width="1.9" height="1.9"/><rect x="246.6" y="184.0" width="1.9" height="1.9"/><rect x="220.1" y="153.5" width="1.9" height="1.9"/><rect x="254.1" y="194.2" width="1.9" height="1.9"/><rect x="223.4" y="165.8" width="1.9" height="1.9"/><rect x="241.0" y="192.5" width="1.9" height="1.9"/><rect x="202.7" y="148.0" width="1.9" height="1.9"/><rect x="249.8" y="194.8" width="1.9" height="1.9"/><rect x="206.6" y="140.8" width="1.9" height="1.9"/><rect x="217.9" y="158.2" width="1.9" height="1.9"/><rect x="227.4" y="162.8" width="1.9" height="1.9"/><rect x="202.0" y="137.8" width="1.9" height="1.9"/><rect x="199.4" y="152.2" width="1.9" height="1.9"/><rect x="250.2" y="195.4" width="1.9" height="1.9"/><rect x="236.2" y="180.8" width="1.9" height="1.9"/><rect x="245.3" y="195.4" width="1.9" height="1.9"/><rect x="235.0" y="181.4" width="1.9" height="1.9"/><rect x="213.4" y="155.7" width="1.9" height="1.9"/><rect x="204.0" y="148.0" width="1.9" height="1.9"/><rect x="247.3" y="207.0" width="1.9" height="1.9"/><rect x="251.9" y="201.1" width="1.9" height="1.9"/><rect x="210.1" y="150.1" width="1.9" height="1.9"/><rect x="237.1" y="185.5" width="1.9" height="1.9"/><rect x="208.7" y="155.8" width="1.9" height="1.9"/><rect x="230.2" y="168.8" width="1.9" height="1.9"/><rect x="253.1" y="206.4" width="1.9" height="1.9"/><rect x="222.3" y="179.6" width="1.9" height="1.9"/><rect x="238.8" y="181.5" width="1.9" height="1.9"/><rect x="203.0" y="132.5" width="1.9" height="1.9"/><rect x="207.6" y="143.0" width="1.9" height="1.9"/><rect x="214.9" y="160.4" width="1.9" height="1.9"/><rect x="241.7" y="182.3" width="1.9" height="1.9"/><rect x="228.2" y="181.3" width="1.9" height="1.9"/><rect x="200.6" y="142.5" width="1.9" height="1.9"/><rect x="241.2" y="195.4" width="1.9" height="1.9"/><rect x="233.9" y="179.7" width="1.9" height="1.9"/><rect x="229.8" y="164.6" width="1.9" height="1.9"/><rect x="238.3" y="187.8" width="1.9" height="1.9"/><rect x="213.0" y="148.5" width="1.9" height="1.9"/><rect x="236.1" y="184.1" width="1.9" height="1.9"/><rect x="212.6" y="150.1" width="1.9" height="1.9"/><rect x="240.4" y="182.6" width="1.9" height="1.9"/><rect x="241.7" y="186.3" width="1.9" height="1.9"/><rect x="250.6" y="188.3" width="1.9" height="1.9"/><rect x="215.8" y="150.7" width="1.9" height="1.9"/><rect x="204.5" y="140.2" width="1.9" height="1.9"/><rect x="248.1" y="194.9" width="1.9" height="1.9"/><rect x="202.0" y="137.0" width="1.9" height="1.9"/><rect x="229.2" y="171.0" width="1.9" height="1.9"/><rect x="213.8" y="157.4" width="1.9" height="1.9"/><rect x="250.4" y="201.9" width="1.9" height="1.9"/><rect x="238.2" y="179.9" width="1.9" height="1.9"/><rect x="225.4" y="160.9" width="1.9" height="1.9"/><rect x="195.9" y="134.3" width="1.9" height="1.9"/><rect x="220.0" y="167.9" width="1.9" height="1.9"/><rect x="228.1" y="178.6" width="1.9" height="1.9"/><rect x="225.4" y="172.1" width="1.9" height="1.9"/><rect x="200.5" y="136.2" width="1.9" height="1.9"/><rect x="253.6" y="199.3" width="1.9" height="1.9"/><rect x="205.4" y="147.2" width="1.9" height="1.9"/><rect x="214.4" y="168.6" width="1.9" height="1.9"/><rect x="214.4" y="156.4" width="1.9" height="1.9"/><rect x="215.5" y="166.1" width="1.9" height="1.9"/><rect x="247.2" y="186.9" width="1.9" height="1.9"/><rect x="237.0" y="191.1" width="1.9" height="1.9"/><rect x="219.6" y="175.7" width="1.9" height="1.9"/><rect x="200.1" y="147.4" width="1.9" height="1.9"/><rect x="203.7" y="133.8" width="1.9" height="1.9"/><rect x="212.7" y="142.7" width="1.9" height="1.9"/><rect x="244.3" y="191.8" width="1.9" height="1.9"/><rect x="217.2" y="160.9" width="1.9" height="1.9"/><rect x="205.0" y="150.4" width="1.9" height="1.9"/><rect x="250.6" y="199.3" width="1.9" height="1.9"/><rect x="246.9" y="196.3" width="1.9" height="1.9"/><rect x="222.8" y="156.4" width="1.9" height="1.9"/><rect x="204.7" y="159.1" width="1.9" height="1.9"/><rect x="207.7" y="147.7" width="1.9" height="1.9"/><rect x="209.8" y="156.2" width="1.9" height="1.9"/><rect x="227.0" y="173.8" width="1.9" height="1.9"/><rect x="249.3" y="195.2" width="1.9" height="1.9"/><rect x="206.8" y="147.5" width="1.9" height="1.9"/><rect x="234.4" y="183.2" width="1.9" height="1.9"/><rect x="216.1" y="148.5" width="1.9" height="1.9"/><rect x="229.1" y="177.4" width="1.9" height="1.9"/><rect x="202.7" y="137.6" width="1.9" height="1.9"/><rect x="222.1" y="172.3" width="1.9" height="1.9"/><rect x="230.9" y="167.5" width="1.9" height="1.9"/><rect x="203.7" y="156.6" width="1.9" height="1.9"/><rect x="202.9" y="138.2" width="1.9" height="1.9"/><rect x="242.2" y="195.2" width="1.9" height="1.9"/><rect x="216.5" y="161.6" width="1.9" height="1.9"/><rect x="228.2" y="179.4" width="1.9" height="1.9"/><rect x="240.8" y="200.7" width="1.9" height="1.9"/><rect x="218.5" y="168.5" width="1.9" height="1.9"/><rect x="239.7" y="183.2" width="1.9" height="1.9"/><rect x="253.0" y="195.4" width="1.9" height="1.9"/><rect x="213.3" y="160.6" width="1.9" height="1.9"/><rect x="204.9" y="141.9" width="1.9" height="1.9"/><rect x="205.3" y="157.4" width="1.9" height="1.9"/><rect x="217.3" y="161.8" width="1.9" height="1.9"/><rect x="198.1" y="136.8" width="1.9" height="1.9"/><rect x="217.1" y="157.0" width="1.9" height="1.9"/><rect x="242.3" y="185.7" width="1.9" height="1.9"/><rect x="210.6" y="153.6" width="1.9" height="1.9"/><rect x="251.6" y="199.2" width="1.9" height="1.9"/><rect x="239.1" y="185.6" width="1.9" height="1.9"/><rect x="211.1" y="161.8" width="1.9" height="1.9"/><rect x="236.5" y="193.7" width="1.9" height="1.9"/><rect x="205.1" y="150.3" width="1.9" height="1.9"/><rect x="251.8" y="200.3" width="1.9" height="1.9"/><rect x="206.6" y="154.9" width="1.9" height="1.9"/><rect x="246.3" y="191.1" width="1.9" height="1.9"/><rect x="260.8" y="205.9" width="1.9" height="1.9"/><rect x="241.6" y="189.8" width="1.9" height="1.9"/><rect x="249.9" y="194.1" width="1.9" height="1.9"/><rect x="213.8" y="159.1" width="1.9" height="1.9"/><rect x="206.9" y="149.1" width="1.9" height="1.9"/><rect x="200.9" y="146.2" width="1.9" height="1.9"/><rect x="221.8" y="203.9" width="1.9" height="1.9"/><rect x="216.6" y="206.0" width="1.9" height="1.9"/><rect x="208.2" y="214.5" width="1.9" height="1.9"/><rect x="185.0" y="209.1" width="1.9" height="1.9"/><rect x="193.8" y="202.3" width="1.9" height="1.9"/><rect x="213.3" y="215.8" width="1.9" height="1.9"/><rect x="177.7" y="202.0" width="1.9" height="1.9"/><rect x="230.5" y="199.7" width="1.9" height="1.9"/><rect x="203.4" y="200.7" width="1.9" height="1.9"/><rect x="184.1" y="210.0" width="1.9" height="1.9"/><rect x="228.6" y="208.9" width="1.9" height="1.9"/><rect x="218.7" y="201.8" width="1.9" height="1.9"/><rect x="227.3" y="202.8" width="1.9" height="1.9"/><rect x="189.5" y="208.1" width="1.9" height="1.9"/><rect x="187.0" y="212.6" width="1.9" height="1.9"/><rect x="200.0" y="213.5" width="1.9" height="1.9"/><rect x="214.4" y="215.4" width="1.9" height="1.9"/><rect x="186.2" y="201.0" width="1.9" height="1.9"/><rect x="212.3" y="200.8" width="1.9" height="1.9"/><rect x="209.7" y="201.1" width="1.9" height="1.9"/><rect x="216.2" y="211.9" width="1.9" height="1.9"/><rect x="230.7" y="210.3" width="1.9" height="1.9"/><rect x="187.6" y="201.0" width="1.9" height="1.9"/><rect x="230.8" y="209.0" width="1.9" height="1.9"/><rect x="182.8" y="209.3" width="1.9" height="1.9"/><rect x="193.5" y="211.1" width="1.9" height="1.9"/><rect x="180.3" y="212.7" width="1.9" height="1.9"/><rect x="193.8" y="215.6" width="1.9" height="1.9"/><rect x="233.1" y="201.2" width="1.9" height="1.9"/><rect x="225.2" y="204.1" width="1.9" height="1.9"/><rect x="233.3" y="204.6" width="1.9" height="1.9"/><rect x="215.7" y="214.6" width="1.9" height="1.9"/><rect x="178.6" y="206.2" width="1.9" height="1.9"/><rect x="232.9" y="215.2" width="1.9" height="1.9"/><rect x="231.0" y="208.1" width="1.9" height="1.9"/><rect x="220.7" y="213.3" width="1.9" height="1.9"/><rect x="204.0" y="196.6" width="1.9" height="1.9"/><rect x="222.6" y="213.0" width="1.9" height="1.9"/><rect x="204.3" y="208.7" width="1.9" height="1.9"/><rect x="178.7" y="214.6" width="1.9" height="1.9"/><rect x="204.7" y="199.4" width="1.9" height="1.9"/><rect x="194.1" y="201.2" width="1.9" height="1.9"/><rect x="198.6" y="204.8" width="1.9" height="1.9"/><rect x="217.8" y="212.4" width="1.9" height="1.9"/><rect x="181.6" y="207.5" width="1.9" height="1.9"/><rect x="221.7" y="202.8" width="1.9" height="1.9"/><rect x="196.3" y="197.6" width="1.9" height="1.9"/><rect x="206.4" y="198.6" width="1.9" height="1.9"/><rect x="215.0" y="196.4" width="1.9" height="1.9"/><rect x="232.7" y="209.0" width="1.9" height="1.9"/><rect x="186.8" y="206.6" width="1.9" height="1.9"/><rect x="191.9" y="204.9" width="1.9" height="1.9"/><rect x="225.7" y="212.6" width="1.9" height="1.9"/><rect x="212.1" y="210.2" width="1.9" height="1.9"/><rect x="211.0" y="196.8" width="1.9" height="1.9"/><rect x="233.9" y="198.5" width="1.9" height="1.9"/><rect x="221.6" y="206.1" width="1.9" height="1.9"/><rect x="227.7" y="200.7" width="1.9" height="1.9"/><rect x="220.9" y="213.8" width="1.9" height="1.9"/><rect x="192.2" y="201.7" width="1.9" height="1.9"/><rect x="226.7" y="205.1" width="1.9" height="1.9"/><rect x="200.1" y="207.5" width="1.9" height="1.9"/><rect x="220.4" y="196.2" width="1.9" height="1.9"/><rect x="235.0" y="205.1" width="1.9" height="1.9"/><rect x="176.1" y="207.7" width="1.9" height="1.9"/><rect x="201.9" y="203.3" width="1.9" height="1.9"/><rect x="210.0" y="197.7" width="1.9" height="1.9"/><rect x="215.1" y="202.4" width="1.9" height="1.9"/><rect x="218.3" y="201.5" width="1.9" height="1.9"/><rect x="195.1" y="215.9" width="1.9" height="1.9"/><rect x="225.4" y="208.5" width="1.9" height="1.9"/><rect x="197.2" y="198.8" width="1.9" height="1.9"/><rect x="211.7" y="204.7" width="1.9" height="1.9"/><rect x="224.6" y="196.1" width="1.9" height="1.9"/><rect x="210.8" y="196.6" width="1.9" height="1.9"/><rect x="206.4" y="204.0" width="1.9" height="1.9"/><rect x="198.8" y="197.2" width="1.9" height="1.9"/><rect x="193.4" y="198.4" width="1.9" height="1.9"/><rect x="191.3" y="211.2" width="1.9" height="1.9"/><rect x="191.8" y="212.9" width="1.9" height="1.9"/><rect x="168.7" y="149.9" width="1.9" height="1.9"/><rect x="156.0" y="143.2" width="1.9" height="1.9"/><rect x="156.2" y="145.5" width="1.9" height="1.9"/><rect x="158.2" y="140.6" width="1.9" height="1.9"/><rect x="193.8" y="138.8" width="1.9" height="1.9"/><rect x="170.1" y="136.8" width="1.9" height="1.9"/><rect x="185.6" y="143.2" width="1.9" height="1.9"/><rect x="168.0" y="144.8" width="1.9" height="1.9"/><rect x="181.2" y="148.1" width="1.9" height="1.9"/><rect x="196.4" y="144.4" width="1.9" height="1.9"/><rect x="181.8" y="136.9" width="1.9" height="1.9"/><rect x="150.0" y="137.2" width="1.9" height="1.9"/><rect x="177.9" y="147.4" width="1.9" height="1.9"/><rect x="184.3" y="140.4" width="1.9" height="1.9"/><rect x="163.8" y="148.7" width="1.9" height="1.9"/><rect x="151.7" y="149.4" width="1.9" height="1.9"/><rect x="189.3" y="137.5" width="1.9" height="1.9"/><rect x="191.3" y="144.3" width="1.9" height="1.9"/><rect x="172.3" y="136.9" width="1.9" height="1.9"/><rect x="198.8" y="141.9" width="1.9" height="1.9"/><rect x="188.7" y="136.3" width="1.9" height="1.9"/><rect x="177.7" y="136.6" width="1.9" height="1.9"/><rect x="157.0" y="145.9" width="1.9" height="1.9"/><rect x="179.3" y="142.5" width="1.9" height="1.9"/><rect x="151.4" y="147.4" width="1.9" height="1.9"/><rect x="185.5" y="135.2" width="1.9" height="1.9"/><rect x="168.4" y="144.0" width="1.9" height="1.9"/><rect x="165.6" y="141.3" width="1.9" height="1.9"/><rect x="157.8" y="146.5" width="1.9" height="1.9"/><rect x="163.9" y="148.5" width="1.9" height="1.9"/><rect x="170.6" y="149.1" width="1.9" height="1.9"/><rect x="153.5" y="138.4" width="1.9" height="1.9"/><rect x="188.2" y="138.1" width="1.9" height="1.9"/><rect x="155.5" y="140.7" width="1.9" height="1.9"/><rect x="189.2" y="145.6" width="1.9" height="1.9"/><rect x="185.6" y="142.6" width="1.9" height="1.9"/><rect x="175.0" y="139.5" width="1.9" height="1.9"/><rect x="170.9" y="139.2" width="1.9" height="1.9"/><rect x="179.6" y="148.8" width="1.9" height="1.9"/><rect x="183.6" y="148.6" width="1.9" height="1.9"/><rect x="162.2" y="142.9" width="1.9" height="1.9"/><rect x="168.0" y="148.2" width="1.9" height="1.9"/><rect x="163.0" y="142.7" width="1.9" height="1.9"/><rect x="157.9" y="135.1" width="1.9" height="1.9"/><rect x="195.1" y="139.8" width="1.9" height="1.9"/><rect x="163.9" y="148.3" width="1.9" height="1.9"/><rect x="155.3" y="137.7" width="1.9" height="1.9"/><rect x="153.1" y="144.3" width="1.9" height="1.9"/><rect x="163.1" y="137.9" width="1.9" height="1.9"/><rect x="200.0" y="147.3" width="1.9" height="1.9"/><rect x="171.9" y="144.6" width="1.9" height="1.9"/><rect x="157.8" y="145.5" width="1.9" height="1.9"/><rect x="187.5" y="141.3" width="1.9" height="1.9"/><rect x="183.9" y="139.9" width="1.9" height="1.9"/><rect x="154.2" y="138.8" width="1.9" height="1.9"/><rect x="158.9" y="144.4" width="1.9" height="1.9"/><rect x="167.6" y="146.4" width="1.9" height="1.9"/><rect x="178.3" y="143.8" width="1.9" height="1.9"/><rect x="157.3" y="143.3" width="1.9" height="1.9"/><rect x="169.4" y="144.1" width="1.9" height="1.9"/></g>
<path d="M75.1 152.7 75.3 156.8 75.8 152.9 76.1 158.3 76.6 162.9 76.9 157.6 77.5 162.6 78.0 159.4 78.5 159.1 78.8 157.4 79.1 159.8 79.7 158.2 80.2 152.8 80.8 157.0 82.0 153.1 82.9 157.8 84.0 155.4 85.3 159.0 86.0 154.1 87.9 159.8 88.8 156.8 90.1 154.4 91.7 157.4 93.1 156.6 93.7 159.1 94.2 156.8 95.0 153.3 95.6 154.8 96.0 151.3 96.5 149.4 97.3 153.7 97.9 152.3 98.5 156.8 98.9 152.8 99.6 157.2 100.3 157.0 100.7 159.7 100.9 154.6 101.1 157.2 101.4 151.0 101.6 152.0 101.9 151.9 102.1 151.2 102.2 144.4 102.4 143.9 102.8 149.5 103.2 145.4 103.8 155.1 104.5 150.4 105.1 154.1 106.1 152.0 106.8 150.8 107.7 146.4 108.2 145.7 108.5 152.7 109.1 149.3 109.8 146.8 110.6 150.9 111.2 152.6 112.1 150.8 112.7 155.9 113.1 153.5 113.9 160.1 114.7 158.3 115.2 161.5 115.4 156.9 115.5 159.6 115.9 152.9 116.1 154.4 116.3 151.5 116.6 152.3 116.8 147.3 117.3 144.8 117.8 149.4 118.5 142.0 119.6 146.1 120.6 141.3 121.0 139.6 121.5 146.4 121.9 147.4 122.3 143.8 122.9 147.1 123.7 146.0 124.2 154.1 124.9 150.8 125.4 154.4 125.8 151.8 126.5 153.2 127.1 146.0 127.6 147.6 128.2 142.9 128.6 145.1 128.9 143.0 129.3 143.9 129.6 143.9 130.2 139.1 131.0 144.6 131.9 142.6 132.5 145.5 133.3 143.3 133.8 143.4 134.3 145.0 134.8 143.7 135.2 138.7 135.6 140.6 135.9 135.6 136.4 138.3 136.9 137.3 137.3 131.5 137.7 134.8 138.2 135.3 138.8 134.0 139.3 137.6 139.6 136.7 140.1 139.9 140.4 136.8 140.9 138.9 141.2 144.8 141.9 140.9 142.9 143.5 144.2 137.5 145.1 141.9 145.8 137.0" fill="none" stroke="#000000" stroke-width="2.6" stroke-linejoin="round" stroke-linecap="round"/>
<path d="M146.0 138.7C147.0 140.0 150.1 147.2 152.1 146.8C154.1 146.4 156.2 138.8 158.2 136.0C160.2 133.2 162.1 127.3 164.3 129.9C166.5 132.5 169.4 150.3 171.6 151.7C173.8 153.1 176.0 139.1 177.6 138.3C179.2 137.5 179.3 146.6 181.3 146.8C183.3 147.0 187.8 139.2 189.8 139.6C191.8 140.0 192.0 145.1 193.4 149.3C194.8 153.5 197.1 165.0 198.3 165.0C199.5 165.0 199.5 152.3 200.7 149.3C201.9 146.3 203.9 144.2 205.5 146.8C207.1 149.4 208.8 164.6 210.4 165.0C212.0 165.4 213.8 149.3 215.2 149.3C216.6 149.3 217.8 164.1 218.9 165.0C220.0 165.9 221.0 156.0 222.0 155.0C223.0 154.0 223.7 157.3 225.0 159.0C226.3 160.7 229.5 165.2 229.8 165.0C230.1 164.8 226.2 156.6 227.0 158.0C227.8 159.4 233.2 168.9 234.7 173.5C236.2 178.1 235.9 181.2 235.9 185.7C235.9 190.1 234.9 197.8 234.7 200.2" fill="none" stroke="#000000" stroke-width="2.7" stroke-linejoin="round" stroke-linecap="round"/>
<g fill="#4472c4"><rect x="107.2" y="154.6" width="1.9" height="1.9"/><rect x="117.3" y="151.6" width="1.9" height="1.9"/><rect x="135.3" y="151.0" width="1.9" height="1.9"/><rect x="125.8" y="151.9" width="1.9" height="1.9"/><rect x="118.2" y="149.7" width="1.9" height="1.9"/><rect x="138.0" y="150.5" width="1.9" height="1.9"/><rect x="118.4" y="151.9" width="1.9" height="1.9"/><rect x="80.6" y="167.6" width="1.9" height="1.9"/><rect x="123.5" y="150.2" width="1.9" height="1.9"/><rect x="88.2" y="161.1" width="1.9" height="1.9"/><rect x="120.8" y="144.4" width="1.9" height="1.9"/><rect x="106.5" y="157.4" width="1.9" height="1.9"/><rect x="133.7" y="147.9" width="1.9" height="1.9"/><rect x="125.9" y="153.9" width="1.9" height="1.9"/><rect x="134.5" y="138.6" width="1.9" height="1.9"/><rect x="102.8" y="148.6" width="1.9" height="1.9"/><rect x="143.2" y="144.5" width="1.9" height="1.9"/><rect x="92.3" y="154.1" width="1.9" height="1.9"/><rect x="92.8" y="160.0" width="1.9" height="1.9"/><rect x="111.6" y="145.3" width="1.9" height="1.9"/><rect x="124.3" y="145.1" width="1.9" height="1.9"/><rect x="97.2" y="164.0" width="1.9" height="1.9"/><rect x="142.9" y="147.2" width="1.9" height="1.9"/><rect x="141.8" y="143.3" width="1.9" height="1.9"/><rect x="80.1" y="160.9" width="1.9" height="1.9"/><rect x="121.0" y="155.2" width="1.9" height="1.9"/><rect x="100.2" y="150.0" width="1.9" height="1.9"/><rect x="146.6" y="143.7" width="1.9" height="1.9"/><rect x="138.1" y="143.4" width="1.9" height="1.9"/><rect x="98.0" y="154.2" width="1.9" height="1.9"/><rect x="86.3" y="158.7" width="1.9" height="1.9"/><rect x="117.6" y="156.8" width="1.9" height="1.9"/><rect x="147.3" y="140.3" width="1.9" height="1.9"/><rect x="91.9" y="165.2" width="1.9" height="1.9"/><rect x="76.6" y="157.8" width="1.9" height="1.9"/><rect x="126.1" y="148.9" width="1.9" height="1.9"/><rect x="148.7" y="142.6" width="1.9" height="1.9"/><rect x="136.1" y="149.5" width="1.9" height="1.9"/><rect x="146.5" y="146.1" width="1.9" height="1.9"/><rect x="113.6" y="153.6" width="1.9" height="1.9"/><rect x="132.9" y="138.6" width="1.9" height="1.9"/><rect x="114.8" y="149.9" width="1.9" height="1.9"/><rect x="134.3" y="140.5" width="1.9" height="1.9"/><rect x="137.9" y="139.7" width="1.9" height="1.9"/><rect x="110.1" y="153.4" width="1.9" height="1.9"/><rect x="99.1" y="159.5" width="1.9" height="1.9"/><rect x="135.4" y="151.3" width="1.9" height="1.9"/><rect x="106.2" y="159.9" width="1.9" height="1.9"/><rect x="120.2" y="153.6" width="1.9" height="1.9"/><rect x="89.3" y="159.0" width="1.9" height="1.9"/><rect x="132.4" y="147.3" width="1.9" height="1.9"/><rect x="89.7" y="160.7" width="1.9" height="1.9"/><rect x="132.9" y="150.1" width="1.9" height="1.9"/><rect x="78.8" y="157.4" width="1.9" height="1.9"/><rect x="98.7" y="149.6" width="1.9" height="1.9"/><rect x="140.3" y="147.1" width="1.9" height="1.9"/><rect x="134.1" y="145.7" width="1.9" height="1.9"/><rect x="99.5" y="155.7" width="1.9" height="1.9"/><rect x="81.1" y="166.8" width="1.9" height="1.9"/><rect x="91.1" y="162.5" width="1.9" height="1.9"/><rect x="100.9" y="151.0" width="1.9" height="1.9"/><rect x="104.3" y="152.0" width="1.9" height="1.9"/><rect x="145.6" y="134.6" width="1.9" height="1.9"/><rect x="102.1" y="154.3" width="1.9" height="1.9"/><rect x="113.7" y="144.7" width="1.9" height="1.9"/><rect x="135.2" y="142.6" width="1.9" height="1.9"/><rect x="123.3" y="144.7" width="1.9" height="1.9"/><rect x="95.2" y="154.7" width="1.9" height="1.9"/><rect x="99.7" y="161.5" width="1.9" height="1.9"/><rect x="90.1" y="152.4" width="1.9" height="1.9"/><rect x="147.1" y="136.5" width="1.9" height="1.9"/><rect x="145.6" y="143.5" width="1.9" height="1.9"/><rect x="140.7" y="141.8" width="1.9" height="1.9"/><rect x="110.4" y="156.7" width="1.9" height="1.9"/><rect x="108.5" y="152.7" width="1.9" height="1.9"/><rect x="83.3" y="163.5" width="1.9" height="1.9"/><rect x="95.8" y="162.7" width="1.9" height="1.9"/><rect x="93.6" y="163.1" width="1.9" height="1.9"/><rect x="125.2" y="151.1" width="1.9" height="1.9"/><rect x="141.5" y="146.8" width="1.9" height="1.9"/><rect x="91.6" y="158.7" width="1.9" height="1.9"/><rect x="138.1" y="142.4" width="1.9" height="1.9"/><rect x="84.1" y="158.5" width="1.9" height="1.9"/><rect x="136.0" y="137.7" width="1.9" height="1.9"/><rect x="146.2" y="134.3" width="1.9" height="1.9"/><rect x="120.5" y="145.6" width="1.9" height="1.9"/><rect x="80.5" y="166.9" width="1.9" height="1.9"/><rect x="138.2" y="138.8" width="1.9" height="1.9"/><rect x="102.5" y="151.1" width="1.9" height="1.9"/><rect x="130.3" y="151.8" width="1.9" height="1.9"/></g>
<path d="M72.9 178.3C73.2 177.7 74.2 175.8 74.5 174.8C74.9 173.9 74.8 173.4 75.0 172.4C75.1 171.4 75.2 169.9 75.5 169.1C75.9 168.2 76.1 167.6 77.1 167.3C78.1 167.0 80.4 167.3 81.5 167.1C82.6 167.0 82.8 167.7 83.7 166.6C84.6 165.4 85.8 161.2 86.7 160.4C87.7 159.6 88.4 161.3 89.3 161.6C90.3 162.0 91.5 162.3 92.6 162.4C93.6 162.4 94.4 162.3 95.5 162.0C96.7 161.6 98.5 160.8 99.7 160.4C100.9 159.9 101.7 159.4 102.9 159.4C104.1 159.3 105.4 159.6 106.8 159.9C108.2 160.2 110.0 161.1 111.4 161.1C112.8 161.1 113.9 160.0 115.2 159.8C116.4 159.5 117.9 160.3 118.8 159.4C119.7 158.6 119.7 155.5 120.3 154.7C121.0 154.0 122.0 155.6 122.6 154.9C123.2 154.3 123.6 152.2 124.0 150.7C124.3 149.1 124.0 146.3 124.9 145.6C125.7 145.0 127.5 146.0 128.9 146.8C130.4 147.5 132.5 150.0 133.7 150.1C134.8 150.1 135.2 147.9 136.0 147.3C136.8 146.7 137.9 147.6 138.5 146.6C139.0 145.5 138.7 142.2 139.5 141.0C140.2 139.9 141.9 139.3 142.9 139.5C144.0 139.6 145.1 140.8 145.8 141.8C146.6 142.9 146.7 145.6 147.4 145.6C148.2 145.5 149.7 142.5 150.4 141.5C151.0 140.4 150.7 139.7 151.5 139.3C152.2 138.8 153.9 139.5 154.6 138.6C155.3 137.7 155.0 134.4 155.5 133.9C156.0 133.3 156.7 134.7 157.5 135.4C158.3 136.1 159.6 137.2 160.4 138.2C161.2 139.3 161.2 141.3 162.1 141.8C162.9 142.2 164.4 141.5 165.6 141.0C166.8 140.5 168.4 139.6 169.5 138.6C170.7 137.7 171.5 136.3 172.5 135.2C173.5 134.0 174.6 131.5 175.6 132.0C176.6 132.4 177.9 136.2 178.6 137.8C179.3 139.5 179.1 141.7 179.7 141.7C180.4 141.7 181.5 138.7 182.6 138.0C183.7 137.4 185.7 137.0 186.5 137.6C187.3 138.2 186.9 141.1 187.5 141.7C188.0 142.2 188.6 141.3 189.6 140.9C190.6 140.5 192.3 140.0 193.4 139.2C194.4 138.4 195.0 135.7 195.7 136.1C196.4 136.6 196.8 140.3 197.5 141.9C198.1 143.4 199.3 144.8 199.7 145.4" fill="none" stroke="#4472c4" stroke-width="2.0" stroke-linejoin="round" stroke-linecap="round" stroke-dasharray="1.6 2.6" stroke-linecap="butt"/>
<line x1="430.2" y1="8.0" x2="473" y2="8.0" stroke="#bfbfbf" stroke-width="2.4"/>
<text x="476.30" y="12.40" font-size="12.7" text-anchor="start" font-weight="400" fill="#595959">R-D = 113.8 mm</text>
<line x1="430.2" y1="23.68" x2="473" y2="23.68" stroke="#ffcc80" stroke-width="2.4"/>
<text x="476.30" y="28.08" font-size="12.7" text-anchor="start" font-weight="400" fill="#595959">D = 113.8 mm</text>
<line x1="430.2" y1="39.36" x2="473" y2="39.36" stroke="#5e9e3a" stroke-width="2.4"/>
<text x="476.30" y="43.76" font-size="12.7" text-anchor="start" font-weight="400" fill="#595959">R-D = 101.6 mm</text>
<line x1="430.2" y1="55.04" x2="473" y2="55.04" stroke="#0070c0" stroke-width="2.4"/>
<text x="476.30" y="59.44" font-size="12.7" text-anchor="start" font-weight="400" fill="#595959">D = 101.6 mm</text>
<line x1="430.2" y1="70.72" x2="473" y2="70.72" stroke="#f2a98a" stroke-width="2.4"/>
<text x="476.30" y="75.12" font-size="12.7" text-anchor="start" font-weight="400" fill="#595959">R-D = 89.2 mm</text>
<line x1="430.2" y1="86.4" x2="473" y2="86.4" stroke="#8ea7dc" stroke-width="2.4"/>
<text x="476.30" y="90.80" font-size="12.7" text-anchor="start" font-weight="400" fill="#595959">D = 89.2 mm</text>
<line x1="430.2" y1="102.08" x2="473" y2="102.08" stroke="#e0a800" stroke-width="2.4" stroke-dasharray="10.5 8.8"/>
<text x="476.30" y="106.48" font-size="12.7" text-anchor="start" font-weight="400" fill="#595959">R-D = 75 mm</text>
<line x1="430.2" y1="117.75999999999999" x2="473" y2="117.75999999999999" stroke="#c00000" stroke-width="2.4"/>
<text x="476.30" y="122.16" font-size="12.7" text-anchor="start" font-weight="400" fill="#595959">D = 75 mm</text>
<line x1="430.2" y1="133.44" x2="473" y2="133.44" stroke="#000000" stroke-width="2.4"/>
<text x="476.30" y="137.84" font-size="12.7" text-anchor="start" font-weight="400" fill="#595959">R-D = 49.63 mm</text>
<line x1="430.2" y1="149.12" x2="473" y2="149.12" stroke="#4472c4" stroke-width="2.4" stroke-dasharray="2.3 3.15"/>
<text x="476.30" y="153.52" font-size="12.7" text-anchor="start" font-weight="400" fill="#595959">D = 49.63 mm</text>
<line x1="718.75" y1="9.5" x2="1150.75" y2="9.5" stroke="#d9d9d9" stroke-width="1"/>
<line x1="718.75" y1="54.25" x2="1150.75" y2="54.25" stroke="#d9d9d9" stroke-width="1"/>
<line x1="718.75" y1="99.0" x2="1150.75" y2="99.0" stroke="#d9d9d9" stroke-width="1"/>
<line x1="718.75" y1="143.75" x2="1150.75" y2="143.75" stroke="#d9d9d9" stroke-width="1"/>
<line x1="718.75" y1="188.5" x2="1150.75" y2="188.5" stroke="#d9d9d9" stroke-width="1"/>
<line x1="718.75" y1="233.25" x2="1150.75" y2="233.25" stroke="#d9d9d9" stroke-width="1"/>
<line x1="718.75" y1="278.0" x2="1150.75" y2="278.0" stroke="#d9d9d9" stroke-width="1"/>
<line x1="718.75" y1="9.5" x2="718.75" y2="278" stroke="#d9d9d9" stroke-width="1"/>
<line x1="826.75" y1="9.5" x2="826.75" y2="278" stroke="#d9d9d9" stroke-width="1"/>
<line x1="934.75" y1="9.5" x2="934.75" y2="278" stroke="#d9d9d9" stroke-width="1"/>
<line x1="1042.75" y1="9.5" x2="1042.75" y2="278" stroke="#d9d9d9" stroke-width="1"/>
<line x1="1150.75" y1="9.5" x2="1150.75" y2="278" stroke="#d9d9d9" stroke-width="1"/>
<text x="704.30" y="13.40" font-size="13.5" text-anchor="end" font-weight="400" fill="#595959">1,200</text>
<text x="704.30" y="58.15" font-size="13.5" text-anchor="end" font-weight="400" fill="#595959">1,000</text>
<text x="704.30" y="102.90" font-size="13.5" text-anchor="end" font-weight="400" fill="#595959">800</text>
<text x="704.30" y="147.65" font-size="13.5" text-anchor="end" font-weight="400" fill="#595959">600</text>
<text x="704.30" y="192.40" font-size="13.5" text-anchor="end" font-weight="400" fill="#595959">400</text>
<text x="704.30" y="237.15" font-size="13.5" text-anchor="end" font-weight="400" fill="#595959">200</text>
<text x="704.30" y="281.90" font-size="13.5" text-anchor="end" font-weight="400" fill="#595959">0</text>
<text x="718.75" y="301.10" font-size="13.5" text-anchor="middle" font-weight="400" fill="#595959">0</text>
<text x="826.75" y="301.10" font-size="13.5" text-anchor="middle" font-weight="400" fill="#595959">500</text>
<text x="934.75" y="301.10" font-size="13.5" text-anchor="middle" font-weight="400" fill="#595959">1,000</text>
<text x="1042.75" y="301.10" font-size="13.5" text-anchor="middle" font-weight="400" fill="#595959">1,500</text>
<text x="1150.75" y="301.10" font-size="13.5" text-anchor="middle" font-weight="400" fill="#595959">2,000</text>
<text x="934.70" y="325.30" font-size="13.4" text-anchor="middle" font-weight="700" fill="#000" textLength="180.6" lengthAdjust="spacingAndGlyphs">Normalized Pressure (KPa)</text>
<text transform="translate(658.0,142.0) rotate(-90)" x="0" y="4.7" font-size="13.4" text-anchor="middle" font-weight="700" fill="#000" textLength="128" lengthAdjust="spacingAndGlyphs">k, tangent (MN/m<tspan font-size="8.3" dy="-4.5">3</tspan><tspan dy="4.5">)</tspan></text>
<path d="M721.0 252.9C721.2 253.2 721.8 255.3 722.1 254.4C722.5 253.5 722.7 248.6 723.1 247.2C723.4 245.8 723.8 247.5 724.2 246.1C724.6 244.7 725.0 240.1 725.5 238.8C726.1 237.5 727.0 239.3 727.5 238.3C728.1 237.2 728.3 234.0 728.9 232.6C729.4 231.1 730.3 231.1 730.9 229.7C731.6 228.2 732.2 225.8 732.8 223.7C733.4 221.6 734.1 217.9 734.6 217.0C735.1 216.1 735.3 219.5 735.7 218.5C736.0 217.4 736.2 212.3 736.6 210.9C736.9 209.4 737.3 210.9 737.8 209.9C738.2 208.9 738.7 207.2 739.1 205.1C739.4 203.1 739.6 198.8 739.9 197.7C740.2 196.6 740.4 199.7 740.8 198.5C741.1 197.3 741.7 192.4 742.1 190.6C742.5 188.8 742.6 187.9 743.0 187.7C743.4 187.4 743.7 189.3 744.4 189.0C745.0 188.7 745.8 187.4 746.8 185.6C747.7 183.8 749.1 179.3 749.9 178.1C750.8 177.0 751.2 179.3 751.9 178.6C752.6 177.9 753.7 174.7 754.3 173.9C754.9 173.0 755.3 174.7 755.8 173.6C756.3 172.5 756.9 168.5 757.4 167.2C757.9 165.9 758.4 167.1 758.9 165.7C759.4 164.4 759.9 159.9 760.5 159.1C761.1 158.3 761.5 162.1 762.5 160.9C763.5 159.8 765.6 153.4 766.7 152.4C767.8 151.3 768.3 155.2 769.2 154.5C770.1 153.7 771.4 148.7 772.2 147.7C773.0 146.7 773.1 149.1 774.0 148.4C775.0 147.7 776.7 144.9 777.9 143.7C779.1 142.5 780.7 142.3 781.5 141.3C782.3 140.3 782.4 138.5 782.9 137.8C783.4 137.1 783.8 137.7 784.5 136.8C785.2 135.9 786.4 132.5 787.2 132.5C787.9 132.6 788.5 137.2 788.9 137.1C789.3 137.0 789.4 133.2 789.7 131.9C790.1 130.7 790.8 130.6 791.1 129.5C791.5 128.3 791.4 125.8 791.9 124.8C792.4 123.8 793.4 124.4 794.3 123.3C795.2 122.2 796.6 119.2 797.3 118.4C797.9 117.5 798.0 119.6 798.4 118.3C798.8 117.0 799.4 113.2 799.8 110.8C800.3 108.4 800.7 104.2 801.0 104.0C801.4 103.7 801.9 108.0 802.1 109.2C802.4 110.4 802.4 110.6 802.7 111.2C802.9 111.9 803.4 112.3 803.7 112.9C804.0 113.5 804.0 113.3 804.2 114.9C804.5 116.4 804.9 122.6 805.3 122.3C805.7 121.9 806.2 114.0 806.6 112.6C806.9 111.2 807.1 115.0 807.4 113.7C807.7 112.4 806.8 105.9 808.4 105.0C810.0 104.1 814.7 109.2 817.0 108.4C819.3 107.6 820.3 105.0 822.0 99.9C823.7 94.8 825.5 78.1 827.1 77.8C828.7 77.5 830.2 96.5 831.4 98.2C832.5 99.9 832.5 88.9 834.0 88.0C835.5 87.1 838.7 91.9 840.7 93.0C842.7 94.1 844.1 98.8 845.8 94.8C847.5 90.8 849.2 71.3 850.9 69.3C852.6 67.3 853.7 81.8 856.0 82.9C858.3 84.0 862.5 77.2 864.5 76.1C866.5 75.0 866.3 80.3 868.0 76.1C869.7 71.8 872.5 52.3 874.7 50.6C877.0 48.9 879.5 64.5 881.5 65.9C883.5 67.3 884.6 60.0 886.6 59.1C888.6 58.2 890.9 62.5 893.4 60.8C895.9 59.1 899.1 54.0 901.9 48.9C904.7 43.8 908.2 30.8 910.4 30.2C912.6 29.6 913.4 40.5 915.0 45.5C916.6 50.5 918.5 62.6 920.2 59.9C921.9 57.2 922.9 32.3 925.3 29.3C927.7 26.3 932.2 42.0 934.6 42.1C937.0 42.2 937.9 28.1 939.7 30.2C941.6 32.3 943.2 54.5 945.7 54.8C948.2 55.1 951.9 32.8 955.0 31.9C958.1 31.1 961.9 49.6 964.3 49.7C966.7 49.8 967.1 30.0 969.4 32.7C971.7 35.4 975.5 62.8 977.9 65.9C980.3 69.0 981.9 52.4 983.9 51.4C985.9 50.4 987.7 57.5 989.8 59.9C991.9 62.3 994.6 66.6 996.6 65.9C998.6 65.2 999.4 51.2 1001.7 55.7C1004.0 60.2 1008.1 88.6 1010.2 93.0C1012.3 97.4 1012.5 80.3 1014.5 82.0C1016.5 83.7 1020.1 102.8 1022.1 103.2C1024.1 103.6 1024.6 81.1 1026.3 84.5C1028.0 87.9 1030.6 114.0 1032.3 123.6C1034.0 133.2 1035.2 139.8 1036.5 142.3C1037.8 144.9 1038.8 136.2 1039.9 138.9C1041.0 141.6 1042.0 150.3 1043.2 158.2C1044.4 166.1 1045.8 175.5 1047.0 186.5C1048.2 197.5 1049.8 213.2 1050.7 224.2C1051.6 235.2 1052.1 243.4 1052.6 252.4C1053.1 261.4 1053.3 273.7 1053.5 278.0" fill="none" stroke="#bfbfbf" stroke-width="2.6" stroke-linejoin="round" stroke-linecap="round"/>
<path d="M721.8 248.7C722.1 248.7 722.9 249.7 723.7 248.4C724.6 247.1 725.9 242.2 726.7 240.9C727.6 239.7 728.1 242.4 728.8 241.1C729.5 239.8 729.9 234.2 730.7 233.2C731.5 232.1 732.6 235.9 733.5 234.6C734.4 233.3 735.5 226.2 736.2 225.2C736.9 224.1 737.0 229.6 737.8 228.6C738.5 227.6 740.2 220.3 741.0 219.1C741.7 217.9 741.8 221.9 742.3 221.2C742.8 220.5 743.2 216.3 744.0 214.8C744.8 213.3 746.2 213.9 747.2 212.4C748.2 211.0 749.0 208.0 749.9 206.1C750.9 204.1 751.9 201.7 752.8 200.9C753.6 200.1 754.0 202.6 754.9 201.5C755.9 200.4 757.6 195.2 758.5 194.4C759.4 193.5 759.6 197.7 760.4 196.2C761.2 194.8 762.5 187.3 763.5 185.8C764.5 184.3 765.4 188.4 766.3 187.2C767.3 186.1 768.3 180.3 769.1 178.7C769.8 177.2 770.4 179.3 771.0 178.0C771.6 176.7 771.7 171.7 772.7 170.8C773.6 169.8 775.5 171.9 776.7 172.2C777.9 172.6 778.9 174.4 780.0 173.0C781.1 171.7 782.3 165.2 783.6 164.2C784.8 163.1 786.1 167.7 787.2 166.7C788.4 165.8 789.3 159.6 790.5 158.6C791.8 157.6 793.5 161.5 794.6 160.8C795.7 160.2 796.3 155.8 797.2 154.6C798.0 153.4 798.9 154.9 799.9 153.5C800.9 152.0 801.7 147.0 802.9 145.8C804.2 144.6 806.3 147.9 807.5 146.3C808.6 144.7 808.0 138.0 809.7 136.1C811.5 134.3 815.3 136.4 818.0 135.0C820.7 133.6 823.3 129.0 826.0 128.0C828.7 127.0 831.7 131.0 834.0 128.8C836.3 126.6 838.0 118.7 840.0 115.0C842.0 111.3 844.0 106.1 845.8 106.7C847.6 107.3 849.2 115.5 850.9 118.6C852.6 121.7 854.0 126.0 856.0 125.4C858.0 124.8 860.5 118.3 862.8 115.2C865.1 112.1 867.6 105.6 869.6 106.7C871.6 107.8 872.2 119.5 874.7 122.0C877.2 124.5 882.4 126.0 884.9 122.0C887.4 118.0 888.3 98.5 890.0 98.2C891.7 97.9 893.1 118.6 895.1 120.3C897.1 122.0 899.4 109.0 901.9 108.4C904.4 107.8 907.5 116.2 910.0 116.8C912.5 117.3 914.0 109.7 916.8 111.7C919.6 113.7 923.0 127.0 927.0 128.7C931.0 130.4 936.9 123.0 940.6 121.9C944.3 120.8 946.6 119.6 949.1 121.9C951.6 124.2 953.9 131.0 955.9 135.5C957.9 140.0 959.3 145.5 961.0 149.1C962.7 152.7 964.3 154.8 966.0 157.0C967.7 159.2 969.7 159.3 971.1 162.1C972.5 164.9 973.1 170.9 974.5 174.0C975.9 177.1 978.2 177.4 979.6 180.8C981.0 184.2 981.6 189.2 983.0 194.3C984.4 199.4 986.7 206.2 988.1 211.3C989.5 216.4 990.6 219.8 991.5 224.9C992.4 230.0 992.6 236.2 993.2 241.9C993.8 247.6 994.0 254.4 994.9 258.9C995.8 263.4 997.4 265.9 998.3 269.1C999.1 272.3 999.7 276.5 1000.0 278.0" fill="none" stroke="#ffcc80" stroke-width="2.6" stroke-linejoin="round" stroke-linecap="round"/>
<path d="M719.5 241.5C719.7 241.8 720.1 243.3 720.9 243.4C721.7 243.5 723.3 243.9 724.3 242.0C725.3 240.2 726.1 232.9 726.9 232.5C727.8 232.2 728.4 240.5 729.5 240.0C730.5 239.4 732.2 230.5 733.0 229.2C733.8 227.8 733.8 233.2 734.3 232.0C734.8 230.9 735.5 223.9 736.0 222.4C736.5 221.0 736.6 224.7 737.2 223.5C737.8 222.2 738.9 216.7 739.5 215.1C740.1 213.4 740.4 213.9 741.0 213.5C741.5 213.1 742.3 213.2 742.9 212.8C743.5 212.3 743.7 212.5 744.4 210.6C745.1 208.7 746.3 203.0 747.0 201.6C747.7 200.1 747.9 203.2 748.6 202.1C749.3 201.0 750.5 196.5 751.5 194.8C752.5 193.1 753.6 193.8 754.5 192.1C755.4 190.3 756.3 185.8 757.0 184.5C757.7 183.3 758.1 185.9 758.8 184.5C759.5 183.2 760.6 177.8 761.2 176.6C761.9 175.3 762.0 178.2 762.7 177.0C763.4 175.8 764.2 171.1 765.5 169.3C766.8 167.5 769.0 166.5 770.3 166.3C771.6 166.1 772.2 169.0 773.2 168.0C774.3 167.1 775.8 162.3 776.7 160.8C777.6 159.3 777.8 159.4 778.5 159.1C779.2 158.8 779.7 160.5 780.9 159.2C782.0 157.9 784.0 152.3 785.1 151.3C786.3 150.3 786.7 154.0 787.8 153.1C789.0 152.1 790.7 146.8 792.2 145.7C793.7 144.6 795.3 146.6 796.6 146.4C797.8 146.3 798.4 144.4 799.6 144.9C800.7 145.4 802.6 150.0 803.5 149.3C804.4 148.5 804.4 141.7 804.9 140.4C805.3 139.1 805.8 142.7 806.1 141.7C806.5 140.7 806.7 136.1 807.1 134.3C807.5 132.6 808.1 132.6 808.5 131.1C808.9 129.5 809.1 124.7 809.5 125.2C809.9 125.7 810.5 132.6 810.9 134.1C811.3 135.5 811.5 132.8 811.8 134.1C812.1 135.4 811.6 142.5 812.8 141.9C813.9 141.3 816.9 131.6 818.7 130.5C820.5 129.4 822.1 136.6 823.8 135.5C825.5 134.4 827.1 130.5 828.8 123.7C830.5 116.9 832.4 102.3 834.0 94.8C835.6 87.3 836.2 76.3 838.2 78.6C840.2 80.9 843.7 108.0 845.8 108.4C847.9 108.8 848.8 82.6 850.9 81.2C853.0 79.8 856.5 98.2 858.6 99.9C860.7 101.6 862.1 91.4 863.7 91.4C865.3 91.4 865.9 97.6 868.0 99.9C870.1 102.2 873.6 108.1 876.4 105.0C879.2 101.9 882.1 81.2 884.9 81.2C887.7 81.2 890.4 104.7 893.4 105.0C896.4 105.3 900.4 85.5 902.8 82.9C905.2 80.4 905.8 89.6 907.9 89.7C910.0 89.8 913.0 82.0 915.1 83.7C917.2 85.4 917.8 100.7 920.2 99.8C922.6 98.9 926.5 78.6 929.5 78.6C932.5 78.6 935.3 98.0 938.0 99.8C940.7 101.6 943.3 89.3 945.7 89.6C948.1 89.9 950.2 101.5 952.5 101.5C954.8 101.5 957.6 88.5 959.3 89.6C961.0 90.7 961.2 104.6 962.6 108.3C964.0 112.0 965.6 113.7 967.7 111.7C969.8 109.7 973.1 97.0 975.4 96.4C977.7 95.8 979.5 104.6 981.3 108.3C983.1 112.0 984.1 118.2 986.4 118.5C988.7 118.8 992.3 107.2 994.9 110.0C997.5 112.8 999.9 133.5 1001.7 135.5C1003.6 137.5 1004.3 123.0 1006.0 121.9C1007.7 120.8 1010.1 124.2 1011.9 128.7C1013.7 133.2 1015.3 148.5 1017.0 149.1C1018.7 149.7 1020.1 132.1 1022.1 132.1C1024.1 132.1 1026.6 145.8 1028.9 149.1C1031.2 152.4 1034.3 151.0 1035.7 151.9C1037.1 152.8 1036.2 150.3 1037.5 154.5C1038.8 158.7 1041.3 170.5 1043.2 177.1C1045.1 183.7 1046.9 189.3 1048.8 194.0C1050.7 198.7 1052.8 207.8 1054.5 205.3C1056.2 202.8 1057.6 178.7 1059.2 179.0C1060.8 179.3 1062.2 206.9 1063.9 207.2C1065.6 207.5 1067.9 179.6 1069.5 180.8C1071.1 182.1 1072.2 205.6 1073.3 214.7C1074.4 223.8 1075.6 224.9 1076.1 235.5C1076.6 246.1 1076.1 270.9 1076.1 278.0" fill="none" stroke="#5e9e3a" stroke-width="2.6" stroke-linejoin="round" stroke-linecap="round"/>
<path d="M720.1 258.5C720.6 258.3 722.1 259.2 722.9 257.5C723.6 255.9 724.1 249.9 724.7 248.6C725.2 247.4 725.8 250.1 726.3 249.9C726.8 249.6 727.0 248.0 727.8 247.0C728.5 245.9 729.9 245.3 730.6 243.5C731.4 241.7 731.6 237.6 732.5 236.4C733.3 235.3 734.6 237.5 735.6 236.7C736.6 235.8 737.5 233.7 738.5 231.3C739.4 228.8 740.4 223.1 741.5 222.1C742.5 221.1 743.4 226.2 744.5 225.2C745.5 224.2 746.7 217.6 747.7 216.1C748.6 214.5 749.2 217.5 750.1 215.8C751.1 214.1 752.4 207.4 753.3 206.0C754.2 204.6 754.5 208.7 755.4 207.5C756.2 206.3 757.4 200.4 758.3 198.9C759.2 197.3 760.1 198.9 760.8 198.1C761.5 197.2 761.5 194.4 762.3 193.6C763.2 192.7 764.8 194.1 765.7 193.0C766.5 191.9 766.6 188.3 767.4 187.0C768.2 185.6 769.5 186.2 770.3 185.0C771.1 183.8 771.5 180.2 772.2 179.7C772.8 179.1 773.4 182.2 774.2 181.5C775.0 180.8 776.0 176.2 777.1 175.5C778.2 174.7 779.6 177.5 780.8 176.7C782.0 176.0 783.0 171.6 784.2 170.9C785.3 170.1 786.4 173.1 787.6 172.2C788.9 171.4 790.5 166.8 791.7 165.9C792.8 164.9 793.2 167.6 794.6 166.4C795.9 165.2 798.3 158.8 799.5 158.5C800.8 158.1 800.9 164.9 801.8 164.4C802.8 164.0 802.7 158.4 805.3 155.8C807.8 153.3 813.6 151.9 817.0 149.1C820.4 146.3 822.7 141.8 825.5 139.0C828.3 136.2 831.5 131.0 834.0 132.1C836.5 133.2 838.5 146.0 840.7 145.7C843.0 145.4 845.2 131.6 847.5 130.5C849.8 129.4 852.0 139.3 854.3 139.0C856.6 138.7 858.8 129.4 861.1 128.8C863.4 128.2 865.5 135.5 868.0 135.5C870.5 135.5 873.6 129.6 876.4 128.8C879.2 128.0 882.1 130.8 884.9 130.5C887.7 130.2 890.6 130.7 893.4 127.0C896.2 123.3 899.3 108.1 901.9 108.4C904.5 108.7 906.5 127.1 908.7 128.8C910.9 130.5 913.1 120.9 915.0 118.6C916.9 116.3 918.2 114.8 920.2 115.1C922.2 115.4 924.7 120.2 927.0 120.2C929.3 120.2 931.5 117.6 933.8 115.1C936.1 112.5 938.6 105.8 940.6 104.9C942.6 104.1 943.7 108.3 945.7 110.0C947.7 111.7 950.0 114.0 952.5 115.1C955.0 116.2 958.8 117.9 961.0 116.8C963.2 115.7 964.0 106.3 966.0 108.3C968.0 110.3 970.2 128.4 972.8 128.7C975.3 129.0 978.5 109.7 981.3 110.0C984.1 110.3 987.0 127.9 989.8 130.4C992.6 133.0 995.2 125.9 998.3 125.3C1001.4 124.7 1005.7 123.6 1008.5 127.0C1011.3 130.4 1013.0 145.1 1015.3 145.7C1017.6 146.3 1019.8 131.3 1022.1 130.4C1024.4 129.5 1026.7 139.1 1028.9 140.0C1031.2 140.9 1033.5 131.6 1035.6 135.6C1037.7 139.6 1039.4 160.8 1041.3 163.9C1043.2 167.1 1045.1 156.4 1047.0 154.5C1048.9 152.6 1050.7 149.5 1052.6 152.6C1054.5 155.7 1056.3 169.5 1058.2 173.3C1060.1 177.1 1061.9 174.6 1063.9 175.2C1066.0 175.8 1068.6 173.6 1070.5 177.1C1072.4 180.6 1073.8 189.9 1075.2 195.9C1076.6 201.9 1077.6 211.0 1079.0 212.9C1080.4 214.8 1082.5 204.7 1083.7 207.2C1085.0 209.7 1085.4 221.3 1086.5 227.9C1087.6 234.5 1089.2 238.6 1090.3 246.8C1091.4 255.0 1092.6 271.9 1093.1 276.9" fill="none" stroke="#f2a98a" stroke-width="2.6" stroke-linejoin="round" stroke-linecap="round"/>
<path d="M720.1 261.6C720.4 261.3 721.1 261.2 721.7 259.9C722.3 258.6 723.1 254.6 723.7 253.7C724.3 252.8 724.7 255.3 725.2 254.7C725.7 254.2 726.0 252.4 726.6 250.4C727.3 248.3 728.7 243.8 729.4 242.5C730.0 241.2 729.9 244.0 730.7 242.5C731.4 241.0 733.0 234.8 733.8 233.4C734.6 232.0 734.9 236.1 735.6 234.3C736.3 232.5 737.3 224.3 738.2 222.8C739.0 221.3 739.8 226.0 740.8 225.1C741.7 224.1 742.9 217.9 743.7 217.1C744.4 216.3 744.8 221.3 745.3 220.4C745.8 219.6 746.3 212.8 746.7 212.2C747.2 211.5 747.4 216.5 748.1 216.4C748.7 216.2 749.9 213.1 750.6 211.5C751.3 210.0 751.5 208.1 752.3 207.0C753.1 205.9 754.6 206.0 755.4 204.9C756.3 203.8 756.7 201.2 757.4 200.4C758.1 199.7 758.8 201.5 759.7 200.5C760.6 199.4 761.7 195.4 762.8 194.1C763.9 192.9 765.5 194.0 766.2 192.8C767.0 191.6 766.9 188.1 767.5 186.9C768.0 185.6 769.1 186.3 769.7 185.2C770.3 184.0 770.7 180.8 771.3 179.8C771.8 178.8 772.5 180.3 773.2 179.0C773.9 177.7 774.4 173.1 775.5 171.9C776.6 170.8 778.5 173.2 779.6 172.2C780.8 171.3 781.4 167.2 782.6 166.2C783.8 165.3 785.3 166.9 786.6 166.5C787.9 166.1 789.4 165.0 790.5 163.9C791.6 162.8 792.0 160.2 793.2 159.7C794.4 159.2 796.2 161.9 797.4 160.9C798.7 159.9 800.0 154.9 800.8 153.8C801.5 152.7 801.5 155.4 801.9 154.4C802.3 153.5 802.2 148.5 803.1 148.2C804.0 147.8 804.9 153.7 807.3 152.4C809.6 151.2 814.8 141.7 817.0 140.6C819.2 139.5 818.7 148.0 820.4 145.7C822.1 143.4 824.3 130.7 827.1 127.0C829.9 123.3 834.8 122.3 837.3 123.7C839.8 125.1 840.7 135.2 842.4 135.5C844.1 135.8 845.5 127.9 847.5 125.4C849.5 122.9 852.6 120.0 854.3 120.3C856.0 120.6 855.7 128.4 857.7 127.0C859.7 125.6 863.9 112.6 866.2 111.8C868.5 111.0 869.3 123.4 871.3 122.0C873.3 120.6 876.1 104.4 878.1 103.3C880.1 102.2 881.2 113.5 883.2 115.2C885.2 116.9 888.0 113.5 890.0 113.5C892.0 113.5 892.6 117.8 895.1 115.2C897.6 112.7 902.8 98.8 905.3 98.2C907.8 97.6 907.5 111.4 910.0 111.7C912.5 112.0 917.7 98.1 920.2 99.8C922.8 101.5 923.3 122.8 925.3 121.9C927.3 121.1 929.8 94.7 932.1 94.7C934.4 94.7 936.6 119.4 938.9 121.9C941.2 124.5 943.4 111.7 945.7 110.0C948.0 108.3 950.2 110.3 952.5 111.7C954.8 113.1 957.0 117.4 959.3 118.5C961.5 119.6 964.0 116.8 966.0 118.5C968.0 120.2 969.1 128.1 971.1 128.7C973.1 129.3 975.9 120.5 977.9 121.9C979.9 123.3 981.0 133.8 983.0 137.2C985.0 140.6 987.5 141.5 989.8 142.3C992.1 143.2 994.6 141.2 996.6 142.3C998.6 143.4 1000.3 147.8 1001.7 149.1C1003.1 150.4 1004.0 146.0 1005.1 150.2C1006.2 154.3 1006.8 168.6 1008.5 174.0C1010.2 179.4 1013.6 178.0 1015.3 182.5C1017.0 187.0 1017.6 197.2 1018.7 201.1C1019.8 205.0 1021.0 201.4 1022.1 206.2C1023.2 211.0 1024.7 221.2 1025.5 230.0C1026.3 238.8 1026.8 250.9 1027.2 258.9C1027.6 266.9 1027.9 274.8 1028.0 278.0" fill="none" stroke="#0070c0" stroke-width="2.6" stroke-linejoin="round" stroke-linecap="round"/>
<path d="M720.1 256.2C720.4 256.0 721.2 256.6 721.8 255.4C722.4 254.2 722.8 251.2 723.5 249.2C724.3 247.2 725.5 244.0 726.3 243.3C727.2 242.7 728.0 245.3 728.7 245.1C729.4 244.9 729.9 244.0 730.6 242.2C731.3 240.5 732.1 235.4 732.9 234.7C733.7 233.9 734.7 238.4 735.4 237.7C736.1 236.9 736.3 231.4 737.0 230.1C737.7 228.9 738.8 230.3 739.5 230.3C740.3 230.2 740.9 231.4 741.5 229.9C742.1 228.4 742.5 222.1 743.1 221.4C743.7 220.7 744.3 226.3 745.2 225.6C746.0 224.8 747.3 218.9 748.1 216.8C748.9 214.6 749.4 212.4 750.0 212.8C750.5 213.2 750.9 220.4 751.6 219.0C752.3 217.5 753.2 207.3 754.1 204.1C755.0 200.8 756.0 200.3 756.9 199.5C757.7 198.8 758.4 201.3 759.1 199.8C759.8 198.3 760.0 192.6 760.9 190.6C761.8 188.6 763.3 188.4 764.4 188.0C765.6 187.6 766.8 189.3 767.8 188.1C768.8 186.8 769.4 181.8 770.6 180.6C771.8 179.3 773.8 181.5 775.0 180.7C776.2 179.8 776.8 175.6 777.8 175.5C778.8 175.3 780.2 180.2 781.2 179.9C782.1 179.6 782.2 174.4 783.5 173.5C784.7 172.7 787.4 175.6 788.7 175.1C790.0 174.6 790.3 171.1 791.2 170.4C792.0 169.7 792.7 171.4 793.7 170.9C794.6 170.3 795.6 167.6 796.6 166.9C797.6 166.3 798.5 168.3 799.6 166.8C800.6 165.4 801.7 159.5 802.9 158.4C804.0 157.3 804.6 163.5 806.6 160.2C808.7 157.0 813.0 140.3 815.3 139.0C817.6 137.7 818.4 151.9 820.4 152.5C822.4 153.1 824.8 143.4 827.1 142.3C829.4 141.2 831.7 146.2 834.0 145.7C836.3 145.1 838.7 138.4 840.7 139.0C842.7 139.6 844.1 149.7 845.8 149.1C847.5 148.5 848.6 138.6 850.9 135.5C853.2 132.4 857.1 130.2 859.4 130.5C861.7 130.8 862.8 139.8 864.5 137.2C866.2 134.6 867.9 116.3 869.6 115.2C871.3 114.1 872.7 129.9 874.7 130.5C876.7 131.1 879.0 122.0 881.5 118.6C884.0 115.2 887.2 108.7 890.0 110.1C892.8 111.5 895.7 128.1 898.5 127.0C901.3 125.9 905.1 106.4 907.0 103.3C908.9 100.2 908.4 102.4 910.0 108.3C911.6 114.2 914.5 138.9 916.8 138.9C919.1 138.9 921.0 109.4 923.6 108.3C926.2 107.2 929.6 130.4 932.1 132.1C934.6 133.8 936.9 117.7 938.9 118.5C940.9 119.3 942.2 137.8 944.0 137.2C945.8 136.6 947.9 117.1 949.9 115.1C951.9 113.1 954.0 123.0 955.9 125.3C957.8 127.6 959.0 127.6 961.0 128.7C963.0 129.8 965.7 131.0 967.7 132.1C969.7 133.2 970.8 133.8 972.8 135.5C974.8 137.2 977.0 140.0 979.6 142.3C982.2 144.6 985.6 148.5 988.1 149.1C990.6 149.7 992.6 147.4 994.9 145.7C997.2 144.0 1000.0 138.7 1001.7 138.9C1003.4 139.1 1003.4 142.1 1005.1 146.8C1006.8 151.5 1009.6 162.1 1011.9 167.2C1014.2 172.3 1016.4 174.6 1018.7 177.4C1021.0 180.2 1023.8 181.1 1025.5 184.2C1027.2 187.3 1027.8 192.1 1028.9 196.0C1030.0 199.9 1030.9 203.9 1032.3 207.9C1033.7 211.9 1036.0 216.1 1037.4 219.8C1038.8 223.5 1040.0 226.6 1040.8 230.0C1041.6 233.4 1042.1 232.0 1042.5 240.0C1042.9 248.0 1043.1 271.7 1043.2 278.0" fill="none" stroke="#8ea7dc" stroke-width="2.6" stroke-linejoin="round" stroke-linecap="round"/>
<path d="M719.0 271.6C719.2 268.6 719.5 261.1 720.0 253.7C720.5 246.2 721.0 229.5 722.0 226.9C723.0 224.3 724.3 235.5 726.0 238.0C727.7 240.5 729.7 243.0 732.0 242.0C734.3 241.0 737.2 235.4 740.0 232.0C742.8 228.6 746.1 225.0 749.0 221.6C751.9 218.2 754.7 214.8 757.5 211.4C760.3 208.0 763.5 204.6 766.0 201.2C768.5 197.8 770.5 193.3 772.8 191.0C775.1 188.7 777.0 189.9 779.6 187.6C782.2 185.3 785.6 177.7 788.1 177.4C790.6 177.1 792.4 186.8 794.9 185.9C797.4 185.1 800.6 173.7 803.4 172.3C806.2 170.9 809.1 177.4 811.9 177.4C814.7 177.4 818.1 175.3 820.4 172.3C822.7 169.3 823.8 161.0 825.5 159.3C827.2 157.6 829.1 163.2 830.5 162.1C831.9 161.0 832.9 153.3 834.0 152.5C835.1 151.7 835.6 157.0 837.3 157.0C839.0 157.0 842.1 153.8 844.1 152.5C846.1 151.2 847.2 151.3 849.2 149.1C851.2 146.8 853.7 141.8 856.0 139.0C858.3 136.2 860.2 133.5 862.8 132.1C865.3 130.7 868.8 128.8 871.3 130.5C873.8 132.2 875.8 141.2 878.1 142.3C880.4 143.4 882.4 138.3 884.9 137.2C887.4 136.1 890.6 135.2 893.4 135.5C896.2 135.8 899.3 138.7 901.9 139.0C904.5 139.3 906.7 135.5 908.7 137.2C910.7 138.9 911.9 150.2 913.8 149.1C915.7 148.0 918.0 132.4 920.2 130.4C922.4 128.4 924.5 136.9 927.0 137.2C929.5 137.5 932.7 131.5 935.5 132.1C938.3 132.7 941.5 139.8 944.0 140.6C946.5 141.4 948.2 136.7 950.8 137.2C953.3 137.7 956.2 141.8 959.3 143.4C962.4 145.0 965.7 146.5 969.4 146.8C973.1 147.1 977.6 145.7 981.3 145.1C985.0 144.5 988.7 141.1 991.5 143.4C994.3 145.7 995.8 155.9 998.3 158.7C1000.8 161.5 1004.2 159.8 1006.8 160.4C1009.3 161.0 1011.3 160.1 1013.6 162.1C1015.9 164.1 1018.1 173.2 1020.4 172.3C1022.7 171.5 1025.2 157.6 1027.2 157.0C1029.2 156.4 1030.3 164.9 1032.3 168.9C1034.3 172.9 1036.8 179.1 1039.1 180.8C1041.4 182.5 1043.9 175.2 1045.9 179.1C1047.9 183.0 1049.0 201.4 1051.0 204.5C1053.0 207.6 1055.8 199.7 1057.8 197.7C1059.8 195.7 1060.9 189.9 1062.9 192.7C1064.9 195.5 1067.6 209.0 1069.6 214.7C1071.6 220.3 1073.1 223.1 1074.7 226.6C1076.3 230.1 1077.7 232.1 1079.0 235.5C1080.3 238.9 1081.5 239.9 1082.7 246.8C1084.0 253.7 1085.9 271.9 1086.5 276.9" fill="none" stroke="#e0a800" stroke-width="2.6" stroke-linejoin="round" stroke-linecap="round" stroke-dasharray="8 6"/>
<path d="M722.0 231.8C722.6 233.8 724.2 243.1 725.9 243.8C727.5 244.5 729.9 237.8 731.9 235.8C733.9 233.8 736.2 233.1 737.9 231.8C739.6 230.5 740.2 229.4 741.9 227.9C743.5 226.4 746.1 224.6 747.8 222.9C749.4 221.2 750.1 219.2 751.8 217.9C753.5 216.6 756.0 216.2 757.8 214.9C759.6 213.6 761.1 211.8 762.7 210.0C764.4 208.2 765.2 206.6 767.7 204.0C770.2 201.4 774.2 197.4 777.9 194.4C781.6 191.4 786.1 188.5 789.8 185.9C793.5 183.3 796.6 181.1 800.0 179.1C803.4 177.1 806.8 175.1 810.2 174.0C813.6 172.9 817.0 173.7 820.4 172.3C823.8 170.9 826.5 168.1 830.5 165.5C834.5 162.9 839.3 159.6 844.1 157.0C848.9 154.4 855.4 152.4 859.4 150.2C863.4 148.0 865.5 145.3 868.0 144.0C870.5 142.7 871.9 142.3 874.7 142.5C877.5 142.7 881.2 145.2 884.9 145.1C888.6 145.0 893.4 142.2 896.8 141.7C900.2 141.2 903.1 142.0 905.3 142.3C907.5 142.6 907.5 143.5 910.0 143.4C912.5 143.3 917.4 142.7 920.2 141.7C923.0 140.7 925.0 137.5 927.0 137.5C929.0 137.5 930.1 139.9 932.1 141.7C934.1 143.5 936.1 146.5 938.9 148.5C941.7 150.5 945.7 153.5 949.1 153.6C952.5 153.7 955.9 149.3 959.3 149.3C962.7 149.3 965.7 151.5 969.4 153.6C973.1 155.7 977.0 160.0 981.3 162.1C985.5 164.2 990.9 165.5 994.9 166.3C998.9 167.2 1001.7 165.9 1005.1 167.2C1008.5 168.5 1011.3 171.2 1015.3 174.0C1019.3 176.8 1025.2 182.2 1028.9 184.2C1032.6 186.2 1034.9 183.9 1037.4 185.9C1040.0 187.9 1042.0 191.8 1044.2 196.0C1046.4 200.2 1048.4 208.5 1050.7 211.0C1053.0 213.5 1055.7 209.1 1058.2 211.0C1060.7 212.9 1063.3 218.2 1065.8 222.3C1068.3 226.4 1071.4 230.8 1073.3 235.5C1075.2 240.2 1076.0 243.6 1077.1 250.5C1078.2 257.4 1079.4 272.6 1079.9 277.0" fill="none" stroke="#c00000" stroke-width="2.6" stroke-linejoin="round" stroke-linecap="round"/>
<path d="M724.9 221.9C725.6 227.5 728.2 255.7 729.4 255.7C730.6 255.7 730.8 227.4 731.9 221.9C733.0 216.4 734.7 221.6 735.9 222.9C737.1 224.2 737.9 229.9 738.9 229.9C739.9 229.9 740.8 220.4 741.9 222.9C743.0 225.4 744.6 245.0 745.8 244.8C746.9 244.6 747.6 223.9 748.8 221.9C750.0 219.9 751.6 232.8 752.8 232.8C754.0 232.8 754.6 221.9 755.8 221.9C757.0 221.9 758.6 233.0 759.8 232.8C760.9 232.6 761.4 223.4 762.7 220.9C764.0 218.4 766.3 219.2 767.7 217.9C769.1 216.6 769.7 211.1 771.1 213.1C772.5 215.1 774.5 231.2 776.2 230.1C777.9 229.0 779.6 209.4 781.3 206.3C783.0 203.2 784.7 208.9 786.4 211.4C788.1 213.9 789.8 221.9 791.5 221.6C793.2 221.3 794.6 211.7 796.6 209.7C798.6 207.7 801.6 205.7 803.4 209.7C805.2 213.7 806.2 233.2 807.6 233.5C809.0 233.8 810.0 217.1 811.9 211.4C813.8 205.7 816.2 197.5 818.7 199.5C821.2 201.5 824.6 222.5 827.1 223.3C829.6 224.2 831.7 209.4 834.0 204.6C836.3 199.8 838.7 193.8 840.7 194.4C842.7 195.0 844.1 210.0 845.8 208.0C847.5 206.0 848.6 183.3 850.9 182.5C853.2 181.7 856.5 200.9 859.4 202.9C862.2 204.9 865.5 196.1 868.0 194.4C870.5 192.7 872.2 190.1 874.7 192.7C877.2 195.2 880.4 210.5 883.2 209.7C886.0 208.8 888.9 189.3 891.7 187.6C894.5 185.9 897.7 201.5 900.2 199.5C902.8 197.5 904.8 176.6 907.0 175.7C909.2 174.8 911.5 188.7 913.4 194.3C915.3 200.0 917.1 205.6 918.5 209.6C919.9 213.6 920.8 220.1 921.9 218.1C923.0 216.1 923.6 202.2 925.3 197.7C927.0 193.2 929.5 189.6 932.1 191.0C934.7 192.4 938.3 203.5 940.6 206.2C942.9 208.9 944.0 207.7 945.7 207.1C947.4 206.5 948.5 204.9 950.8 202.8C953.1 200.7 957.0 192.6 959.3 194.3C961.5 196.0 962.6 211.6 964.3 213.0C966.0 214.4 967.7 202.8 969.4 202.8C971.1 202.8 973.1 206.2 974.5 213.0C975.9 219.8 976.5 244.2 977.9 243.6C979.3 243.0 981.7 211.3 983.0 209.6C984.3 207.9 984.8 233.4 985.6 233.4C986.5 233.4 986.8 213.6 988.1 209.6C989.4 205.6 991.5 210.2 993.2 209.6C994.9 209.0 996.9 200.8 998.3 206.2C999.7 211.6 1000.6 238.8 1001.7 241.9C1002.8 245.0 1004.0 228.0 1005.1 224.9C1006.2 221.8 1007.1 219.8 1008.5 223.2C1009.9 226.6 1012.2 247.6 1013.6 245.3C1015.0 243.0 1015.6 209.9 1017.0 209.6C1018.4 209.3 1020.7 239.9 1022.1 243.6C1023.5 247.3 1024.4 229.7 1025.5 231.7C1026.6 233.7 1027.8 254.1 1028.9 255.5C1030.0 256.9 1031.2 243.9 1032.3 240.2C1033.4 236.5 1034.7 229.8 1035.7 233.4C1036.7 237.0 1037.6 261.8 1038.5 261.8C1039.4 261.8 1040.4 231.1 1041.3 233.6C1042.2 236.1 1043.0 272.8 1044.1 276.9C1045.2 281.0 1046.6 261.6 1047.9 258.1C1049.2 254.7 1050.9 252.9 1051.7 256.2C1052.5 259.5 1052.4 274.4 1052.6 278.0" fill="none" stroke="#000000" stroke-width="2.7" stroke-linejoin="round" stroke-linecap="round"/>
<rect x="1048.5" y="258" width="6" height="20" fill="#000"/>
<path d="M722.0 261.5 722.9 262.1 723.6 260.6 724.4 256.2 725.6 261.1 726.7 249.1 729.0 253.9 730.7 248.9 732.2 252.1 733.7 242.9 735.6 247.8 737.9 237.2 739.5 240.0 741.7 233.4 742.9 239.7 744.8 235.4 746.1 243.6 747.6 242.7 750.1 247.5 753.0 241.0 755.6 243.6 757.7 243.0 759.8 248.3 762.4 242.3 764.4 248.6 766.2 235.8 766.9 239.8 767.5 228.6 767.8 228.8 768.2 230.1 768.6 225.6 768.9 226.9 769.4 222.7 770.4 223.8 771.2 217.3 772.6 216.7 773.7 211.5 775.0 213.8 775.9 213.5 776.5 219.6 777.5 221.9 778.8 221.3 779.6 223.0 780.6 223.8 781.5 229.6 782.3 227.7 783.6 233.1 784.1 224.7 785.2 227.6 786.1 219.5 786.7 219.6 787.8 218.3 788.6 211.0 789.4 216.4 790.2 208.8 791.0 215.4 791.5 212.0 792.5 219.0 793.3 217.3 794.1 223.4 795.0 223.0 796.2 228.1 797.0 227.2 797.9 232.3 798.8 228.3 799.2 231.0 799.8 221.2 800.3 222.6 801.0 216.8 801.4 214.9 801.9 216.3 802.2 211.4 802.9 213.0 803.6 202.7 804.0 207.9 804.5 200.8 805.0 202.3 805.7 200.4 806.2 202.4 806.7 205.2 807.2 208.9 807.9 209.5 808.7 213.1 809.2 213.2 809.7 217.1 810.4 225.7 811.1 221.0 811.5 228.6 811.9 228.2 812.3 223.0 813.2 235.5 813.7 229.9 814.1 230.3 814.4 226.4 814.8 229.8 815.4 221.8 816.0 223.0 816.4 218.3 817.1 216.1 817.7 209.7 818.0 207.4 818.4 211.4 818.9 204.1 819.2 200.0 819.9 203.5 820.3 197.8 821.1 197.4 822.9 203.7 824.3 198.5 826.4 204.8 828.7 202.3 830.0 210.0 832.5 205.0 835.3 202.0 837.4 207.5 838.4 205.6 839.6 212.1 840.9 208.0 842.3 215.7 843.5 216.2 844.6 210.5 845.8 220.3 846.4 219.9 846.8 216.3 847.5 209.7 848.1 212.2 848.5 202.2 849.0 205.5 849.6 197.5 850.0 202.8 850.6 199.8 850.9 193.2 852.4 193.6 853.9 185.9 854.9 191.5 855.9 183.4 857.4 190.7 858.9 180.3 860.6 180.7 861.9 176.0 862.6 182.7 863.8 181.5 865.2 186.9 866.8 186.6 868.3 194.2 869.7 193.4 871.0 198.0 872.1 197.8 873.2 202.3 874.0 201.9 874.8 208.0 875.8 199.4 876.4 203.8 877.2 196.4 877.9 202.4 879.0 189.5 880.2 194.0 881.3 186.7 881.9 188.2 883.1 179.3 884.7 187.0 885.5 186.9 886.7 183.3 887.7 190.2 889.6 189.8 891.4 197.5 892.7 191.9 895.4 199.5 897.3 196.8 898.6 196.8 899.7 194.7 901.7 196.9 902.9 198.7 904.7 187.5 906.3 185.5 907.9 189.4 910.0 186.7 911.9 193.0 913.5 189.2 914.9 196.2 916.4 190.8 917.7 195.5 918.8 187.8 919.6 190.2 920.7 186.8 921.8 178.4 922.9 179.9 924.3 176.7 925.4 182.7 926.1 182.8 927.0 183.4 929.1 185.1 932.2 180.7 934.6 182.9 936.3 180.4 937.2 189.4 938.1 192.3 939.2 186.9 940.3 193.1 941.1 195.7 941.8 200.9 942.7 198.7 943.4 207.0 944.4 205.5 945.0 203.0 945.6 200.2 946.9 194.5 948.0 196.5 949.2 190.5 950.0 192.7 951.2 184.2 952.7 188.6 954.8 181.7 956.3 180.8 958.2 182.0 960.1 177.1 961.8 182.1 963.2 175.9 964.0 183.9 964.6 182.2 965.2 181.9 965.8 188.4 966.6 188.6 967.4 195.5 967.9 192.1 969.0 199.0 971.7 195.8 973.5 199.7 975.2 200.1 977.2 195.9 979.5 199.7 982.7 195.2 985.3 192.5 987.5 197.8 989.6 192.3 992.9 191.6 995.5 191.9 997.7 199.6 1000.5 195.7 1002.5 200.5 1003.7 200.8 1005.3 201.1 1006.2 203.0 1007.8 213.1 1010.3 207.0 1011.9 205.6 1014.8 212.2 1017.7 204.1 1019.9 207.6 1021.4 206.6 1024.3 208.3 1027.3 202.0 1028.9 209.3 1030.6 197.1 1031.6 200.4 1032.4 195.5 1032.8 200.8 1033.1 202.2 1033.6 206.4 1034.0 208.9 1034.5 206.7 1034.9 213.8 1035.5 210.8 1036.7 216.1 1037.9 217.1 1040.5 220.8 1041.5 214.9 1042.8 218.5 1044.1 211.1 1045.3 210.5 1047.5 214.0 1049.0 212.7 1051.4 218.6 1052.7 217.0 1052.9 224.0 1053.1 227.3 1053.2 221.2 1053.3 228.5 1053.4 232.8 1053.5 229.6 1053.7 240.4 1053.8 232.3 1053.9 239.6 1054.1 245.0 1054.3 247.8 1054.5 248.3 1055.0 250.5 1056.5 246.4 1058.1 248.6 1059.7 240.5 1060.8 240.8 1061.6 236.1 1063.5 230.2 1063.9 236.7 1063.9 241.2 1063.9 240.6 1063.9 246.9 1063.9 245.1 1063.9 243.9 1063.9 248.0 1063.9 249.5 1063.9 259.0 1063.9 257.2 1064.7 259.2 1065.5 248.9 1066.4 252.8 1067.5 249.0 1068.1 251.7 1068.8 243.2 1069.4 246.8 1070.6 241.1 1071.3 242.8 1072.1 236.3 1073.4 237.5 1075.5 244.3 1077.5 246.2 1078.9 244.6 1080.1 242.4 1081.8 248.7 1084.2 249.9 1085.7 243.9 1088.4 248.8 1088.7 249.4 1089.1 246.8 1089.4 253.5 1089.7 256.0 1090.0 253.8 1090.4 261.9 1090.9 264.5 1091.5 257.6 1092.0 271.3 1092.4 272.5 1092.8 270.7 1093.4 278.5 1093.8 275.9" fill="none" stroke="#4472c4" stroke-width="2.2" stroke-linejoin="round" stroke-linecap="round" stroke-dasharray="2 3.4" stroke-linecap="butt"/>
<rect x="1090" y="266" width="5" height="12" fill="#4472c4"/>
<line x1="1057.3" y1="16.4" x2="1101.2" y2="16.4" stroke="#bfbfbf" stroke-width="2.4"/>
<text x="1103.80" y="20.80" font-size="12.7" text-anchor="start" font-weight="400" fill="#595959">R-D = 113.8 mm</text>
<line x1="1057.3" y1="32.47" x2="1101.2" y2="32.47" stroke="#ffcc80" stroke-width="2.4"/>
<text x="1103.80" y="36.87" font-size="12.7" text-anchor="start" font-weight="400" fill="#595959">D = 113.8 mm</text>
<line x1="1057.3" y1="48.54" x2="1101.2" y2="48.54" stroke="#5e9e3a" stroke-width="2.4"/>
<text x="1103.80" y="52.94" font-size="12.7" text-anchor="start" font-weight="400" fill="#595959">R-D = 101.6 mm</text>
<line x1="1057.3" y1="64.61" x2="1101.2" y2="64.61" stroke="#0070c0" stroke-width="2.4"/>
<text x="1103.80" y="69.01" font-size="12.7" text-anchor="start" font-weight="400" fill="#595959">D = 101.6 mm</text>
<line x1="1057.3" y1="80.68" x2="1101.2" y2="80.68" stroke="#f2a98a" stroke-width="2.4"/>
<text x="1103.80" y="85.08" font-size="12.7" text-anchor="start" font-weight="400" fill="#595959">R-D = 89.2 mm</text>
<line x1="1057.3" y1="96.75" x2="1101.2" y2="96.75" stroke="#8ea7dc" stroke-width="2.4"/>
<text x="1103.80" y="101.15" font-size="12.7" text-anchor="start" font-weight="400" fill="#595959">D = 89.2 mm</text>
<line x1="1057.3" y1="112.82" x2="1101.2" y2="112.82" stroke="#e0a800" stroke-width="2.4" stroke-dasharray="10.5 8.8"/>
<text x="1103.80" y="117.22" font-size="12.7" text-anchor="start" font-weight="400" fill="#595959">R-D = 75 mm</text>
<line x1="1057.3" y1="128.89000000000001" x2="1101.2" y2="128.89000000000001" stroke="#c00000" stroke-width="2.4"/>
<text x="1103.80" y="133.29" font-size="12.7" text-anchor="start" font-weight="400" fill="#595959">D = 75 mm</text>
<line x1="1057.3" y1="144.96" x2="1101.2" y2="144.96" stroke="#000000" stroke-width="2.4"/>
<text x="1103.80" y="149.36" font-size="12.7" text-anchor="start" font-weight="400" fill="#595959">R-D = 49.63 mm</text>
<line x1="1057.3" y1="161.03" x2="1101.2" y2="161.03" stroke="#4472c4" stroke-width="2.4" stroke-dasharray="2.3 3.15"/>
<text x="1103.80" y="165.43" font-size="12.7" text-anchor="start" font-weight="400" fill="#595959">D = 49.63 mm</text>
<line x1="78.5" y1="445.25" x2="483.5" y2="445.25" stroke="#d9d9d9" stroke-width="1"/>
<line x1="78.5" y1="485.93" x2="483.5" y2="485.93" stroke="#d9d9d9" stroke-width="1"/>
<line x1="78.5" y1="526.61" x2="483.5" y2="526.61" stroke="#d9d9d9" stroke-width="1"/>
<line x1="78.5" y1="567.29" x2="483.5" y2="567.29" stroke="#d9d9d9" stroke-width="1"/>
<line x1="78.5" y1="607.97" x2="483.5" y2="607.97" stroke="#d9d9d9" stroke-width="1"/>
<line x1="78.5" y1="648.65" x2="483.5" y2="648.65" stroke="#d9d9d9" stroke-width="1"/>
<line x1="78.5" y1="689.33" x2="483.5" y2="689.33" stroke="#d9d9d9" stroke-width="1"/>
<line x1="78.5" y1="730.01" x2="483.5" y2="730.01" stroke="#d9d9d9" stroke-width="1"/>
<line x1="78.5" y1="445.25" x2="78.5" y2="730" stroke="#d9d9d9" stroke-width="1"/>
<line x1="213.5" y1="445.25" x2="213.5" y2="730" stroke="#d9d9d9" stroke-width="1"/>
<line x1="348.5" y1="445.25" x2="348.5" y2="730" stroke="#d9d9d9" stroke-width="1"/>
<line x1="483.5" y1="445.25" x2="483.5" y2="730" stroke="#d9d9d9" stroke-width="1"/>
<text x="66.00" y="449.25" font-size="13.3" text-anchor="end" font-weight="400" fill="#595959">250</text>
<text x="66.00" y="489.93" font-size="13.3" text-anchor="end" font-weight="400" fill="#595959">200</text>
<text x="66.00" y="530.61" font-size="13.3" text-anchor="end" font-weight="400" fill="#595959">150</text>
<text x="66.00" y="571.29" font-size="13.3" text-anchor="end" font-weight="400" fill="#595959">100</text>
<text x="66.00" y="611.97" font-size="13.3" text-anchor="end" font-weight="400" fill="#595959">50</text>
<text x="66.00" y="652.65" font-size="13.3" text-anchor="end" font-weight="400" fill="#595959">0</text>
<text x="66.00" y="693.33" font-size="13.3" text-anchor="end" font-weight="400" fill="#595959">-50</text>
<text x="66.00" y="734.01" font-size="13.3" text-anchor="end" font-weight="400" fill="#595959">-100</text>
<text x="78.50" y="753.40" font-size="13.3" text-anchor="middle" font-weight="400" fill="#595959">0</text>
<text x="213.50" y="753.40" font-size="13.3" text-anchor="middle" font-weight="400" fill="#595959">500</text>
<text x="348.50" y="753.40" font-size="13.3" text-anchor="middle" font-weight="400" fill="#595959">1,000</text>
<text x="483.50" y="753.40" font-size="13.3" text-anchor="middle" font-weight="400" fill="#595959">1,500</text>
<text x="281.00" y="775.30" font-size="13.0" text-anchor="middle" font-weight="700" fill="#000" textLength="93" lengthAdjust="spacingAndGlyphs">Pressure (KPa)</text>
<text transform="translate(26.6,586.3) rotate(-90)" x="0" y="5.0" font-size="14.2" text-anchor="middle" font-weight="700" fill="#000" textLength="122.5" lengthAdjust="spacingAndGlyphs">k, tangent (MN/m<tspan font-size="8.8" dy="-4.5">3</tspan><tspan dy="4.5">)</tspan></text>
<path d="M82.0 647.5 82.5 631.3 82.8 640.6 83.4 631.6 83.9 636.5 84.4 623.8 84.7 630.1 85.2 615.0 85.6 629.5 85.9 615.3 86.7 621.4 87.2 612.7 88.0 625.9 88.7 608.7 89.6 621.6 90.2 613.4 91.8 599.6 93.2 618.1 94.2 616.7 95.3 616.4 96.9 594.0 98.2 612.1 99.8 598.0 100.8 596.6 101.9 595.7 102.7 605.0 104.1 585.6 105.4 601.1 107.1 596.4 108.3 589.0 109.1 592.3 110.2 579.7 111.0 595.1 112.0 580.4 112.8 589.6 113.4 580.9 114.3 589.5 115.7 588.5 117.0 574.9 117.7 583.3 119.1 571.4 120.2 580.3 121.2 561.0 122.1 572.7 123.4 564.5 124.0 574.7 125.4 551.4 126.5 570.8 127.3 552.9 128.7 569.4 129.6 552.8 131.4 544.2 132.8 560.4 134.4 542.0 136.2 557.9 138.0 562.2 139.4 551.6 140.8 545.6 142.2 559.1 144.2 543.6 146.0 547.4 147.7 536.6 149.3 553.8 151.7 522.0 152.8 533.8 153.9 564.4 154.8 543.7 157.2 537.3 159.4 544.1 161.6 535.2 163.3 545.5 165.8 536.8 167.0 546.9 169.0 535.1 170.2 549.4 172.4 539.2 174.4 526.4 175.6 526.4 177.8 542.3 180.0 512.9 181.9 535.7 183.6 526.5 186.0 544.8 187.1 535.3 188.6 529.4 189.8 534.7 191.2 511.5 193.1 531.9 194.5 519.4 197.0 533.4 199.2 536.4 201.4 523.8 202.9 539.4 205.3 509.6 207.1 537.8 208.8 515.4 210.5 517.6 211.8 529.1 213.5 514.8 215.8 522.6 218.0 535.7 219.8 534.9 222.2 517.3 224.5 529.1 226.8 522.3 228.5 531.9 230.5 519.5 232.5 549.1 234.5 521.1 236.8 528.6 238.2 534.6 239.8 507.4 241.5 529.1 243.8 518.5 245.2 547.9 247.5 519.9 250.2 533.9 251.5 521.7 253.5 526.9 254.9 519.9 257.1 526.3 258.6 513.9 260.0 522.0 261.8 517.1 262.4 528.0 262.8 526.1 263.3 509.9 263.6 502.0 264.0 511.8 264.3 505.9 264.7 516.5 264.9 501.9 265.2 492.2 265.7 509.2 266.0 504.0 266.4 491.9 266.6 492.0 267.0 493.9 267.4 488.9 267.7 491.0 268.1 479.7 268.5 494.6 269.3 476.5 270.7 498.8 271.9 494.4 273.3 482.6 273.9 485.4 274.1 504.1 274.4 492.8 274.7 501.5 275.1 489.2 275.4 508.4 275.7 494.6 276.0 512.5 276.2 501.1 276.5 514.7 276.9 500.1 278.2 520.0 280.2 524.9 281.6 532.4 283.6 502.8 285.0 525.6 286.5 523.2 288.5 504.4 289.6 517.7 291.5 509.0 292.4 515.7 294.8 508.2 296.3 514.0 297.8 518.2 299.3 509.0 301.3 507.3 303.0 524.0 304.1 511.9 306.1 527.7 306.8 510.2 307.6 512.8 308.7 531.7 310.2 522.4 310.7 529.7 312.0 520.7 313.3 536.8 314.6 521.9 316.1 544.2 317.5 529.5 319.0 546.4 320.6 526.7 321.7 544.9 322.8 519.7 325.0 535.8 326.6 561.1 328.7 544.1 330.7 542.8 332.6 533.6 333.7 537.6 335.9 523.2 337.2 534.6 339.1 528.7 340.6 536.5 341.9 530.3 342.6 543.6 343.3 535.4 343.8 543.2 344.6 528.0 345.3 548.7 346.4 553.9 347.3 536.7 348.4 551.7 349.5 534.5 350.2 542.9 350.8 542.8 351.4 529.7 352.5 538.9 353.1 530.1 354.3 524.8 355.0 539.8 355.3 529.1 355.7 535.6 356.2 545.5 356.5 555.0 357.0 548.5 357.6 518.7 358.2 545.8 358.7 543.2 359.3 544.6 359.9 563.5 360.5 544.1 361.0 550.6 361.7 559.5 362.2 564.5 362.6 558.4 363.0 569.5 363.5 555.9 364.1 572.7 364.7 564.4 365.0 579.6 366.2 566.6 368.3 576.2 370.5 567.4 371.9 582.2 374.1 577.0 376.0 580.2 377.4 573.3 378.6 573.0 379.3 580.5 380.4 575.9 381.6 592.0 382.4 571.2 383.4 580.0 384.7 581.1 386.2 605.4 387.2 579.2 388.3 593.4 389.5 599.1 391.0 587.3 391.7 596.4 393.2 590.5 394.5 605.7 395.4 590.3 396.8 611.7 398.0 614.6 399.6 600.8 401.5 609.1 403.4 599.9 405.2 621.1 406.1 598.3 407.7 621.1 408.7 606.9 410.0 625.4 411.6 626.4 412.7 611.6 414.5 621.0 416.0 607.2 417.1 623.4 418.6 613.7 420.2 626.0 421.9 615.5 424.1 628.3 425.2 633.1 426.3 635.1 427.1 621.5 427.5 628.3 427.9 622.1 428.5 633.0 429.0 623.1 429.5 640.2 430.0 629.1 430.4 648.3 430.7 627.0 431.2 643.2 431.4 632.5 431.9 655.7 432.3 636.7 432.6 654.1 432.9 646.4 433.2 660.7 433.6 648.6 434.0 649.6 434.4 653.9 434.8 648.0 435.0 667.4 435.1 658.6 435.1 666.7 435.2 658.4 435.3 680.7 435.4 664.7 435.4 677.2 435.5 671.9 435.6 684.4 435.6 687.3 435.6 672.0 435.7 692.3 435.8 681.0 435.9 689.3 435.9 676.9 436.0 700.9 435.5 681.3 434.8 703.2 434.4 701.6 434.0 690.8 433.5 701.5 432.9 694.3 432.3 697.6 431.8 712.6 431.1 695.1 430.5 711.2 430.0 705.9 428.4 718.9 426.8 720.1 424.8 701.5 422.5 712.4 421.4 696.4 419.5 707.6 418.2 702.4 416.5 710.6 415.0 698.7 413.8 701.3 411.5 712.0 409.0 692.9 407.1 713.2 405.4 697.2 402.9 707.9 400.5 693.9 398.2 707.6 397.0 712.9 395.2 698.3 392.8 704.2 391.8 689.8 389.3 703.8 387.8 691.9 385.9 702.8 384.8 693.0 383.7 698.6 382.0 692.5 380.9 685.4 378.7 699.2 376.9 687.6 374.5 698.1 373.2 681.4 371.9 698.1 370.3 677.5 369.2 680.9" fill="none" stroke="#a5a5a5" stroke-width="2.2" stroke-linejoin="round" stroke-linecap="round"/>
<path d="M436.0 687.7 434.6 705.5 433.0 686.5 431.9 709.5 430.5 694.5 429.4 703.9 428.2 696.3 427.3 711.2 425.7 693.8 424.8 706.6 424.0 688.7 422.5 703.5 421.2 692.8 419.8 697.8 418.0 709.9 416.2 689.5 414.8 691.8 413.2 709.7 412.2 693.4 411.0 724.9 409.2 706.1 408.0 705.3 406.8 691.2 405.5 701.6 404.2 709.3 403.2 705.5 402.0 691.4 400.5 696.2 399.5 694.2 398.0 709.4 396.8 689.4 395.0 700.5 394.3 699.2 393.4 694.7 392.5 701.8 391.8 690.1 390.5 706.8 389.1 689.3 387.5 700.3 386.1 686.4 384.5 702.3 383.6 688.9 382.0 693.4 380.5 680.1 379.8 702.2 378.3 680.1 377.1 696.9 376.2 686.5 375.0 697.8 374.0 675.0 372.6 683.5 370.9 683.3 369.7 697.6" fill="none" stroke="#a5a5a5" stroke-width="2.2" stroke-linejoin="round" stroke-linecap="round"/>
<path d="M85.0 637.0 85.2 646.4 85.5 634.4 85.7 645.8 85.8 630.2 86.1 637.5 86.3 626.2 86.5 631.4 86.8 617.7 87.0 635.4 87.2 612.8 87.4 610.6 87.7 624.6 87.9 604.3 88.4 622.1 89.0 599.4 89.9 622.1 90.7 596.0 91.4 618.0 92.2 599.9 93.4 606.6 94.3 599.0 95.4 610.4 96.4 594.8 97.7 609.0 99.3 587.9 100.2 585.3 101.8 605.9 102.7 588.8 104.2 600.4 105.3 578.4 106.6 610.8 108.2 583.0 109.4 596.3 110.3 571.8 111.3 584.4 112.8 593.8 113.6 591.2 114.5 572.9 115.9 574.5 117.4 590.2 119.1 574.1 120.3 581.9 122.4 570.4 123.7 566.7 124.7 579.8 126.6 566.3 127.7 568.9 128.5 563.7 130.6 576.4 132.1 556.7 133.5 561.2 134.6 571.4 136.4 574.2 138.0 568.4 140.0 550.5 141.8 568.3 143.0 569.3 144.8 546.3 147.0 567.5 148.0 551.2 149.6 562.7 151.3 550.2 153.1 556.6 154.6 559.0 156.3 557.0 157.8 542.6 159.4 537.9 160.5 551.3 162.1 528.5 163.7 536.6 165.6 553.1 167.2 551.8 168.6 541.1 170.0 548.4 172.1 549.2 173.3 539.0 174.7 547.1 177.0 550.8 179.1 532.1 181.5 544.9 182.9 528.0 184.3 548.7 186.2 532.8 187.5 528.5 190.0 542.5 191.8 532.8 193.0 530.5 194.0 528.0 195.8 540.3 197.0 527.4 198.5 544.5 200.0 526.2 202.0 546.5 204.2 548.6 206.2 527.2 208.8 542.4 210.8 525.0 213.2 548.7 215.5 544.2 217.2 538.7 219.5 529.3 222.0 540.5 224.2 529.8 226.0 546.0 228.0 525.2 229.8 547.7 231.2 521.9 233.2 539.4 234.2 516.4 235.5 537.6 237.8 526.4 239.2 544.2 241.0 525.1 242.5 537.4 244.2 543.5 246.2 532.3 247.9 545.1 250.1 521.5 252.1 535.5 254.0 529.3 256.3 535.8 257.8 526.2 259.3 520.7 260.6 539.8 262.8 518.2 263.9 538.8 264.8 518.9 265.8 543.8 266.9 530.0 267.8 541.0 268.7 514.3 269.7 541.8 270.7 525.4 272.6 551.8 274.4 534.8 276.8 546.6 278.4 528.9 280.3 548.1 281.5 533.4 283.1 545.2 284.5 532.9 286.3 551.0 288.5 549.9 289.6 531.9 290.7 530.7 292.2 554.1 294.1 522.0 294.6 546.3 295.0 527.9 295.4 539.7 295.7 549.8 296.1 547.3 296.6 529.4 297.0 535.7 297.4 523.5 298.0 535.2 298.4 522.0 299.0 529.0 299.7 519.9 300.6 535.5 301.6 518.8 302.5 541.5 303.4 526.4 304.1 538.9 304.6 531.6 305.4 546.2 306.4 530.9 306.7 544.4 307.3 533.7 307.9 541.7 308.5 522.3 309.0 522.4 309.7 537.4 310.2 536.9 310.9 535.0 311.7 528.9 312.3 515.2 313.2 523.5 314.2 504.1 315.0 518.8 316.1 505.2 316.5 506.9 316.8 521.0 317.3 523.8 318.0 519.3 318.6 533.8 319.2 527.5 319.6 538.5 320.1 523.8 320.8 543.1 321.3 508.0 321.9 539.4 322.4 523.9 323.1 534.4 323.5 534.6 323.8 539.3 324.5 524.7 324.9 541.1 325.3 520.8 325.8 529.0 326.1 518.0 326.7 525.4 327.3 496.6 327.9 531.2 329.2 500.9 330.6 512.5 331.4 522.8 332.5 502.8 333.9 530.9 335.0 497.2 336.0 524.0 338.0 521.9 339.8 504.4 340.1 501.7 340.3 524.4 340.6 508.7 340.9 529.9 341.1 508.9 341.3 527.7 341.5 531.1 341.7 516.9 341.8 536.5 342.2 518.0 342.4 519.8 342.6 543.4 342.7 544.2 342.9 530.5 344.1 548.3 346.2 525.9 347.8 539.2 348.7 526.4 349.8 529.2 351.6 536.9 353.0 550.6 354.3 535.6 355.6 543.5 356.5 530.1 357.5 538.8 358.8 557.4 359.8 554.7 361.3 545.4 362.5 562.0 363.5 550.6 364.1 538.5 365.2 553.8 366.1 553.0 366.7 536.3 367.7 541.0 368.6 527.7 369.7 547.7 370.5 527.7 371.2 541.9 371.7 533.0 372.6 550.7 373.1 533.3 373.9 552.0 374.5 533.6 374.9 540.7 375.8 569.1 376.2 543.1 377.2 564.4 377.7 543.6 378.5 554.3 379.0 567.9 381.0 551.2 382.6 571.3 384.2 554.4 386.3 569.8 388.1 570.6 389.2 546.1 390.7 563.6 392.0 579.5 393.2 554.0 394.6 573.5 395.8 569.8 396.5 583.7 397.4 566.3 398.4 579.9 399.2 546.9 400.1 573.3 401.2 557.5 402.2 553.3 404.2 575.3 405.4 555.0 406.8 572.5 408.2 555.9 409.6 581.1 410.5 560.2 411.8 583.2 412.3 567.2 413.7 567.6 414.4 585.6 415.1 575.0 416.2 590.6 417.8 573.8 419.2 580.3 420.8 565.4 422.1 574.3 423.1 584.2 423.4 567.9 423.7 588.6 424.0 567.0 424.2 575.3 424.5 584.2 424.6 579.6 424.8 572.9 425.2 598.7 425.5 583.3 425.8 598.3 426.0 588.1 426.3 606.3 426.6 589.0 426.9 597.4 427.4 609.2 427.8 599.3 428.2 610.8 428.9 594.0 429.3 615.4 430.0 604.0 430.7 618.2 431.3 607.4 431.7 620.2 432.2 605.6 432.9 628.5 433.8 613.5 435.1 629.1 436.0 619.7 437.2 629.5 438.2 620.6 439.1 638.2 439.5 636.9 439.9 619.4 440.2 639.8 440.6 645.1 440.9 626.4 441.1 646.4 441.5 654.6 441.9 635.7 442.0 647.9 442.0 635.9 442.0 646.0 442.0 658.0 442.0 652.5 442.0 668.0 442.0 652.3 442.0 670.7 442.0 650.3 442.0 666.4 442.0 673.1 442.0 653.6 442.0 672.2 442.0 676.7 441.9 679.2 441.8 670.1 441.7 667.3 441.6 682.7 441.5 675.1 441.4 692.4 441.4 684.8 441.2 691.9 441.1 682.1 441.0 677.4 440.9 685.6 440.8 692.8 440.4 682.5 440.2 702.6 440.0 709.0 439.8 689.1 439.6 702.8 439.4 706.1 439.2 722.0 438.9 699.2 438.7 716.8 438.5 697.5 438.3 720.0 437.5 698.8 436.5 718.3 434.8 719.0 432.5 709.4 431.2 713.7 429.6 719.9 428.7 708.8 427.2 704.8 425.8 713.9 424.7 700.6 423.8 714.9 422.5 702.7 421.3 711.3 420.6 695.7 418.3 711.7 416.8 694.3 415.9 689.6 414.9 698.8 413.4 711.0 411.7 693.8 410.2 708.7 409.0 687.6 408.0 710.3 407.1 701.0 405.7 688.5 404.5 690.2 402.7 716.6 401.4 691.7 400.4 706.6 398.8 680.2 397.0 703.4 395.2 687.0 393.2 696.8 391.0 680.4 389.0 697.4 387.8 689.0 386.2 681.0 384.5 679.7 382.6 692.8 380.6 676.5 378.2 698.1" fill="none" stroke="#ffc000" stroke-width="2.2" stroke-linejoin="round" stroke-linecap="round"/>
<path d="M83.0 632.6 83.9 642.9 84.4 640.9 85.0 637.8 85.5 633.4 86.3 636.3 87.3 629.0 88.3 633.3 89.4 624.2 90.2 625.6 91.8 630.9 92.9 623.9 93.7 618.1 95.3 622.4 97.1 626.9 98.0 617.1 99.6 624.1 100.8 620.5 102.3 613.9 103.5 622.3 104.8 613.8 105.8 621.5 107.7 612.0 109.0 626.6 110.6 605.8 111.9 622.1 113.5 606.0 114.6 616.9 116.3 606.4 117.6 613.3 119.0 609.6 120.5 611.5 121.4 598.5 122.5 602.1 123.6 606.2 125.1 607.6 126.7 597.2 128.5 605.3 130.0 595.9 131.6 603.4 133.0 606.4 134.0 597.7 135.4 606.9 136.3 594.2 137.7 606.1 139.1 595.1 140.8 600.6 142.0 593.5 143.6 598.0 145.2 593.1 146.9 599.5 148.8 593.5 149.9 586.7 151.8 586.0 153.2 595.3 155.1 581.6 156.5 595.8 157.9 597.5 159.1 585.1 160.9 591.8 162.9 594.0 164.3 581.0 165.4 591.8 167.0 580.9 168.8 593.2 170.0 583.8 171.6 588.5 172.5 582.6 173.6 580.6 175.6 590.1 176.8 589.6 177.7 579.4 179.2 585.2 180.6 573.8 181.6 584.2 183.0 573.8 184.0 577.9 185.2 581.4 186.1 571.5 187.8 581.6 189.0 583.7 190.9 584.5 192.6 574.8 193.8 574.2 195.0 589.5 196.7 569.1 198.7 579.2 200.7 580.8 202.4 572.8 204.1 575.2 206.1 569.2 207.8 567.6 208.8 575.0 210.8 571.9 212.5 574.5 213.8 565.8 215.0 577.5 217.2 569.2 219.2 574.9 220.5 564.0 221.5 572.5 223.5 580.8 225.2 566.6 226.8 574.8 228.2 567.9 229.8 580.7 231.8 576.5 233.8 575.6 235.2 572.0 236.2 581.0 238.2 576.5 239.8 573.2 241.5 576.5 242.8 579.6 244.2 570.3 245.9 576.5 247.7 580.9 249.1 570.5 250.9 558.4 253.0 572.7 253.9 559.5 255.1 575.7 255.3 563.6 255.6 568.2 256.0 562.5 256.2 568.6 256.3 551.2 256.6 561.3 256.8 552.5 257.1 562.5 257.4 545.2 257.6 552.8 257.9 549.2 258.1 545.9 258.4 550.9 258.6 545.4 258.9 543.0 259.2 549.7 259.3 538.9 259.5 548.5 259.6 532.7 259.8 543.8 260.0 532.9 260.3 540.4 260.5 534.0 260.8 530.1 260.9 536.7 261.2 526.6 261.4 529.7 261.7 515.5 261.9 528.1 262.3 515.6 263.1 528.6 263.9 518.8 264.7 530.0 265.2 527.4 266.0 540.9 266.7 526.8 267.4 527.6 268.2 535.1 269.1 526.2 270.3 540.2 271.1 527.9 272.0 540.5 273.2 533.9 274.0 535.2 275.0 541.6 275.4 534.7 275.8 537.3 276.7 545.3 277.1 538.7 277.6 540.0 278.3 540.6 278.9 553.6 279.4 548.4 279.9 545.3 280.4 547.3 281.4 560.9 282.0 553.6 283.9 559.5 285.2 552.9 286.9 557.4 287.8 556.1 289.5 560.5 291.0 564.9 292.2 552.8 293.5 564.0 294.9 574.0 295.9 568.2 297.1 564.7 297.7 568.9 298.9 575.2 299.7 561.9 301.4 575.5 302.9 568.9 304.4 573.3 305.9 565.2 307.8 576.7 310.0 566.7 311.5 577.1 312.6 570.4 314.2 578.8 315.1 572.1 316.6 578.1 318.7 569.0 320.3 579.1 321.6 571.4 322.7 583.2 324.3 574.6 325.4 584.0 326.6 581.9 327.7 578.2 328.8 590.0 329.8 579.1 330.7 583.3 332.1 590.9 332.9 584.0 333.9 594.9 335.0 582.2 336.4 589.8 337.5 580.8 338.5 582.9 339.9 587.2 341.1 578.9 342.1 584.6 343.6 580.4 344.8 587.3 345.8 577.6 347.0 587.7 348.1 578.2 349.1 589.3 350.5 581.2 351.3 589.2 352.3 581.3 353.2 589.9 354.2 583.9 355.0 591.6 356.3 592.9 357.5 588.5 358.8 595.1 359.7 592.2 360.9 608.9 361.6 603.7 363.0 603.0 364.0 602.5 365.0 593.1 366.0 611.3 367.0 603.4 368.6 588.1 370.0 607.2 370.9 596.2 372.3 602.0 373.4 599.6 375.0 611.0 376.1 609.0 377.5 604.9 378.4 608.4 379.8 604.0 381.3 613.7 382.6 602.2 384.2 612.7 385.7 605.7 387.0 613.4 388.8 609.7 389.6 619.0 390.0 610.7 390.6 621.2 391.2 613.9 391.6 622.5 392.0 615.5 392.4 625.7 392.8 617.9 393.3 628.4 394.0 632.4 394.4 625.0 394.8 625.4 395.1 636.3 395.2 626.4 395.3 640.9 395.4 632.3 395.6 642.6 395.6 633.8 395.7 640.2 395.9 628.8 395.9 648.8 395.7 640.0 395.3 651.8 395.0 655.4 394.5 652.5 393.9 650.5 393.6 655.2 393.0 648.7 391.0 650.6 389.2 649.1 388.0 660.1 386.2 649.2 385.0 662.6 383.8 653.8 381.8 659.1 379.8 651.9 377.9 658.8 376.3 649.3 374.4 660.7 373.5 646.1 372.3 651.2 370.5 656.8 368.8 649.3 367.2 652.9 365.5 649.6 364.2 653.7 362.8 654.4 361.5 647.1 360.6 663.0 358.5 643.1 356.9 642.4 355.0 649.8 353.9 642.1 352.5 641.9" fill="none" stroke="#5b8c3c" stroke-width="2.2" stroke-linejoin="round" stroke-linecap="round"/>
<path d="M84.0 633.7 84.2 636.4 84.4 639.6 84.8 638.6 85.1 631.6 85.4 635.9 85.7 629.9 86.0 635.2 86.3 634.4 86.6 616.0 87.0 621.3 87.4 624.7 87.7 620.0 87.9 617.4 88.4 620.4 89.4 614.0 90.0 611.2 91.3 620.5 92.2 621.5 92.9 608.9 93.9 615.0 94.5 605.9 95.6 608.8 96.3 604.5 97.0 608.0 97.8 601.8 98.9 608.4 100.1 602.7 101.4 606.8 102.4 600.3 103.9 603.5 105.1 595.1 106.0 603.7 107.0 587.4 108.0 603.6 109.5 596.5 111.2 592.6 112.8 596.0 113.9 597.4 115.3 586.9 116.8 593.7 118.4 588.6 119.5 588.2 121.1 593.2 122.0 582.5 122.8 590.3 123.6 581.5 125.0 592.9 126.3 581.4 127.9 579.9 129.2 590.0 130.8 576.3 132.5 588.1 133.5 576.1 134.7 585.6 136.0 585.1 137.2 573.6 138.0 576.5 139.5 571.2 140.5 579.3 142.0 571.7 143.2 574.7 144.4 562.8 145.8 571.7 146.7 574.8 147.8 577.6 149.0 567.5 149.9 575.2 151.1 566.5 152.5 571.8 153.8 562.4 155.5 566.7 156.7 571.9 158.6 561.9 160.1 573.5 161.3 561.3 162.9 571.5 164.9 560.1 166.6 571.7 167.5 562.7 168.7 566.5 170.7 558.6 172.6 566.6 174.6 562.2 176.0 564.0 178.2 566.0 179.4 560.2 181.4 564.8 182.3 558.0 183.5 555.7 184.8 555.8 186.8 559.4 189.0 571.5 191.0 556.5 192.0 564.5 193.2 559.2 195.5 554.5 197.5 566.0 199.5 558.9 201.0 564.4 202.0 564.9 204.0 558.7 206.2 566.0 207.8 557.1 209.2 567.5 210.5 559.2 211.5 563.9 213.5 557.8 215.5 562.2 216.8 558.3 218.8 564.0 219.8 559.5 221.5 566.5 223.2 556.1 224.2 554.1 226.2 562.1 227.5 554.6 229.5 562.9 230.4 562.9 232.1 555.9 233.6 567.9 235.0 568.0 236.7 557.6 238.4 560.0 240.1 565.6 242.1 562.5 243.1 569.3 244.5 559.3 246.2 567.1 247.5 560.8 248.8 569.4 250.5 563.1 252.5 569.7 254.5 566.9 255.2 557.6 255.5 561.3 255.7 563.5 256.0 554.3 256.3 561.3 256.6 557.7 256.8 550.3 257.1 555.7 257.3 544.4 257.5 552.1 257.7 542.3 258.0 551.4 258.2 539.0 258.4 548.5 258.6 539.1 258.9 536.8 259.1 539.9 259.2 537.1 259.3 539.3 259.4 532.5 259.5 533.7 259.7 525.7 259.8 534.5 259.9 521.8 260.0 531.1 260.2 520.0 260.3 523.3 260.4 515.6 260.5 521.5 260.6 511.3 260.8 522.0 260.9 507.6 261.0 514.1 261.2 507.0 261.3 512.3 261.4 500.8 261.6 499.2 261.7 507.0 261.8 498.6 261.9 501.3 262.1 492.2 262.2 501.8 262.2 488.3 262.4 497.5 262.5 488.3 262.7 482.6 262.8 489.8 262.9 487.3 263.0 482.4 263.2 487.3 263.5 485.8 263.8 493.2 264.0 487.6 264.2 497.7 264.4 480.9 264.5 498.7 264.7 489.7 265.0 499.0 265.2 495.7 265.4 505.5 265.7 500.1 265.9 506.8 266.2 504.3 266.4 506.2 266.6 513.4 266.8 504.4 267.2 516.4 267.5 511.6 268.0 519.5 268.3 509.9 268.8 521.9 269.2 513.9 269.7 527.3 270.2 524.9 270.5 521.5 270.9 527.0 271.5 533.0 272.0 522.3 272.5 533.1 272.8 534.8 273.2 528.3 273.7 538.6 274.0 534.0 274.9 541.3 275.9 531.3 277.1 544.9 278.4 536.4 279.5 543.9 280.4 541.9 281.5 542.8 282.7 543.6 284.4 551.4 285.5 543.7 287.2 545.6 288.8 553.2 289.9 543.8 291.4 558.7 293.1 541.4 294.2 547.9 294.9 547.1 296.0 561.0 296.8 551.9 297.8 561.4 298.6 550.3 299.4 564.6 300.6 566.0 301.5 556.4 302.8 569.0 303.8 561.2 305.4 568.4 306.5 562.5 307.8 567.9 309.2 565.6 310.5 565.2 312.4 570.5 313.9 574.8 314.8 569.6 316.9 576.5 317.8 570.0 318.7 576.5 320.0 571.4 321.9 577.2 323.2 568.0 325.1 579.1 327.3 572.1 328.5 570.3 329.8 577.8 331.7 572.9 333.7 573.5 334.6 581.0 336.4 575.3 337.5 583.1 338.5 574.2 339.8 583.7 341.6 583.8 343.0 574.6 344.3 578.6 345.7 584.4 347.1 577.1 348.3 586.7 349.9 582.4 351.8 587.2 352.9 588.4 354.3 582.9 356.2 587.7 357.1 593.5 358.7 582.3 360.1 576.4 361.3 593.6 362.8 584.9 363.5 601.7 364.8 586.4 366.3 589.4 367.3 599.5 368.6 589.0 370.1 600.1 371.1 595.0 372.4 601.9 373.1 592.5 374.1 605.5 375.2 595.1 376.7 605.4 378.1 599.3 378.8 606.0 380.2 601.6 380.8 607.0 381.8 600.9 382.8 603.8 384.1 622.2 384.9 609.4 386.2 616.1 387.4 608.0 388.9 619.9 389.9 605.6 391.3 624.6 392.1 613.3 392.5 625.9 392.9 615.0 393.3 619.5 393.8 625.3 394.5 619.7 395.0 631.1 395.6 623.6 396.4 633.9 396.7 625.8 397.2 637.4 397.8 637.2 398.5 640.2 399.0 636.5 399.1 643.6 399.2 639.1 399.3 636.4 399.4 645.6 399.5 647.1 399.6 644.6 399.6 653.6 399.7 639.5 399.8 656.4 399.9 650.5 400.0 659.3 399.9 651.0 399.8 656.2 399.6 655.5 399.5 666.3 399.3 664.9 399.2 653.9 399.0 670.4 398.5 666.1 397.8 674.6 397.2 667.6 396.4 677.6 395.9 676.1 395.2 674.4 394.0 680.9 392.5 671.7 390.8 680.8 389.2 672.7 387.5 679.8 385.8 674.8 383.8 680.9 382.5 674.5 380.8 678.5 379.5 669.4 378.2 678.3 376.8 681.0 374.5 680.0 373.0 680.0 371.8 669.8 370.4 675.9 369.2 666.4 367.3 676.7 366.2 665.7 364.3 672.0 363.4 666.9 362.0 671.6 360.0 664.0 359.0 671.3 357.0 668.4 355.0 670.4 353.2 674.5 351.1 671.7 349.8 672.1 348.1 678.2 347.0 668.8 345.7 669.7 344.8 678.6 344.0 679.1 343.6 673.4 343.1 681.1 342.4 683.3 341.6 679.5 340.6 684.8 339.8 681.7 339.3 691.3 338.5 684.9 338.1 695.8 337.8 689.1 337.4 681.9 337.1 689.8 336.7 678.0 336.4 681.4 336.2 686.8 336.0 676.3 335.1 683.1 333.9 671.2 333.0 679.1 331.9 680.0 331.1 671.0 330.3 676.6 328.9 665.3 327.3 676.9 325.4 667.5 323.8 672.0 322.5 669.9" fill="none" stroke="#0070c0" stroke-width="2.2" stroke-linejoin="round" stroke-linecap="round"/>
<path d="M84.0 633.8 85.2 641.0 85.9 634.5 87.0 638.9 87.9 638.3 88.6 640.6 89.8 636.1 91.1 634.9 92.2 635.1 93.4 624.1 94.6 630.3 95.6 631.4 97.3 622.0 98.3 624.3 100.0 615.5 100.8 617.3 101.9 625.7 103.5 609.6 104.8 625.3 106.7 613.9 108.3 612.3 109.6 610.8 110.7 616.1 112.6 611.4 114.3 608.6 115.7 618.9 117.2 605.2 118.9 615.7 120.4 605.8 122.0 610.7 123.0 605.9 124.8 619.1 126.4 602.5 127.6 610.9 129.2 611.7 130.4 600.3 131.3 602.6 133.0 608.1 134.8 596.7 136.2 608.2 137.4 596.5 139.3 604.5 141.2 601.1 143.0 594.5 145.2 601.4 146.7 603.5 147.9 596.4 150.1 596.0 151.4 601.3 152.8 585.5 154.8 602.3 156.3 594.4 158.0 599.2 160.2 595.1 161.1 602.3 162.5 596.7 164.3 591.8 166.1 596.5 168.2 590.1 169.1 593.5 170.9 584.9 171.8 593.2 173.4 586.7 174.7 592.8 176.3 582.4 177.4 591.5 178.3 581.5 179.5 592.8 180.6 588.6 182.1 578.8 183.9 585.7 184.8 581.3 185.9 587.8 187.7 578.6 189.1 575.4 190.6 586.2 192.2 582.4 193.3 577.8 194.2 585.8 196.5 577.5 198.2 584.6 199.9 585.2 200.9 585.2 202.4 581.2 204.6 574.4 206.3 585.0 207.6 586.0 208.5 574.6 210.5 588.9 212.5 575.7 214.4 583.4 215.7 577.6 217.4 583.0 218.6 578.9 220.6 585.5 222.1 574.4 223.3 586.0 224.6 574.7 226.5 574.2 228.0 587.9 229.5 571.0 230.5 578.7 231.8 571.1 232.7 572.6 233.7 575.8 234.6 576.7 235.4 570.0 236.9 572.7 238.1 573.7 238.3 561.6 238.6 568.8 238.8 561.8 239.0 564.8 239.2 554.4 239.4 563.9 239.6 551.2 239.7 550.0 239.9 558.1 240.1 551.1 240.4 552.7 240.7 541.7 240.9 548.3 241.0 540.2 241.1 546.4 241.4 539.6 241.6 539.3 241.9 543.1 242.1 530.4 242.3 538.3 242.4 531.6 242.7 537.2 242.9 532.8 243.0 536.0 243.2 528.5 243.3 530.8 243.5 539.4 243.7 529.9 243.9 541.1 244.1 532.7 244.3 542.7 244.4 536.9 244.7 547.9 244.8 552.7 245.0 544.3 245.1 551.6 245.3 547.5 245.5 557.1 245.7 551.2 245.9 557.7 246.1 553.7 246.2 561.0 246.3 553.7 246.5 567.5 246.6 559.1 246.9 569.6 247.0 561.5 248.3 559.4 250.0 573.5 251.3 561.9 252.4 582.2 254.0 566.7 254.8 573.9 255.7 565.2 257.1 574.9 257.9 570.1 259.2 575.5 260.2 571.0 262.1 569.5 263.5 582.4 265.0 576.0 266.7 578.5 267.7 585.1 269.0 591.4 270.5 577.9 271.9 588.3 273.5 581.2 275.1 588.2 277.2 583.4 279.1 587.4 280.5 579.6 281.8 588.6 283.2 575.3 284.5 583.3 285.8 577.6 287.1 579.1 288.0 588.5 288.8 570.5 289.4 579.8 290.2 572.5 291.0 584.9 291.6 574.2 292.1 584.4 293.1 582.2 293.7 581.5 294.6 589.2 295.8 586.1 296.5 591.5 297.3 587.4 298.9 593.4 300.2 586.3 301.2 589.6 301.9 596.4 303.2 587.7 304.1 597.7 305.1 592.8 306.7 604.0 307.8 600.6 309.1 595.8 310.5 604.3 312.0 601.5 313.1 607.7 314.9 601.7 316.5 609.4 317.8 602.1 318.5 607.2 319.6 613.4 320.7 612.9 321.6 605.4 322.5 606.3 323.4 619.5 324.3 618.1 325.2 616.0 325.9 614.7 326.6 621.5 327.8 616.0 329.1 615.1 329.9 626.3 331.0 618.6 331.9 626.1 333.0 619.8 333.7 628.9 334.2 623.4 334.8 637.0 335.4 631.2 335.8 629.5 336.1 637.4 336.2 641.6 336.4 637.5 336.4 641.6 336.5 636.3 336.7 637.0 336.8 645.9 336.9 645.2 337.0 656.3 337.1 646.3 337.2 654.8 337.3 648.7 337.5 654.9 337.6 657.3 337.7 652.1 337.8 662.2 338.0 662.9 337.2 662.3 336.0 660.2 334.4 668.3 333.2 660.9 331.4 678.4 330.2 668.2 328.8 671.9 327.8 664.7 326.0 668.6 325.0 667.3 324.0 660.4 322.5 668.1 321.5 662.6 319.3 660.5 317.7 664.6 316.1 660.3 314.3 664.7 312.9 657.1 311.7 663.3 311.0 653.6 310.5 657.0 309.8 651.2 309.4 653.6 308.8 644.4 308.3 655.5 307.7 644.8 307.1 650.5 306.9 641.3 306.8 648.5 306.7 635.1 306.6 638.3 306.5 637.0 306.4 637.7 306.3 631.9 306.2 634.0 306.1 630.5" fill="none" stroke="#ed7d31" stroke-width="2.2" stroke-linejoin="round" stroke-linecap="round"/>
<path d="M84.0 635.2 84.5 627.2 85.1 637.9 85.5 630.2 85.8 637.0 86.2 632.9 86.6 624.2 86.8 631.3 87.3 623.7 87.6 628.4 88.0 619.6 88.3 622.9 88.8 628.6 89.1 616.7 89.5 624.3 89.9 614.4 90.3 618.8 91.2 621.2 91.9 609.8 92.6 616.6 93.2 618.4 93.9 611.1 94.8 614.9 95.4 603.9 96.1 617.6 97.2 611.6 98.2 612.2 99.6 595.8 101.0 608.8 101.8 601.8 102.8 608.6 104.2 596.6 105.8 603.6 107.0 605.9 108.0 604.7 109.0 592.5 110.2 599.0 111.8 591.2 113.3 597.3 114.6 590.9 115.7 596.7 117.5 587.4 118.3 590.7 119.2 599.3 120.5 586.1 121.8 595.6 123.4 592.3 125.1 590.9 126.7 583.2 127.7 593.4 129.4 587.0 130.4 590.4 131.3 582.3 132.8 593.0 134.3 583.1 136.0 585.2 137.7 591.1 139.1 580.1 140.8 583.8 142.3 588.5 143.5 581.2 145.2 589.3 146.9 577.2 148.9 586.7 150.6 581.3 152.6 587.5 153.8 579.5 156.1 583.3 158.3 579.3 160.0 585.2 161.2 578.6 162.2 580.2 164.2 592.0 165.5 583.7 167.0 588.3 168.5 578.8 170.2 577.7 172.0 585.1 173.2 581.4 175.0 581.2 176.8 587.5 177.8 584.3 180.0 578.2 181.0 588.4 183.0 582.3 184.8 586.6 186.8 578.8 188.5 587.4 189.5 581.3 191.2 581.4 193.2 587.2 194.2 576.3 195.5 586.2 197.2 583.7 198.5 587.2 199.8 581.6 201.5 589.1 203.0 579.9 204.5 590.8 206.2 586.9 207.8 581.5 210.0 587.3 211.5 582.9 213.8 590.6 216.0 583.3 217.2 584.7 219.0 593.5 220.7 584.2 222.2 591.9 223.9 586.4 224.8 579.1 225.8 580.4 227.0 582.1 228.5 588.4 230.4 584.9 231.5 577.4 232.9 588.4 234.1 575.6 235.3 578.4 237.0 584.0 238.7 574.7 240.4 580.4 241.9 576.2 243.5 568.2 245.0 570.8 246.2 577.6 247.2 576.0 248.8 565.9 250.2 575.4 251.4 565.9 252.2 574.9 253.1 562.9 253.4 569.3 253.6 563.8 254.0 559.9 254.4 564.6 254.8 554.5 255.2 560.8 255.6 553.0 256.0 558.8 256.3 558.1 256.7 547.1 256.9 554.9 257.2 547.2 257.4 549.5 257.8 541.1 258.1 542.5 258.2 545.4 258.5 537.3 258.6 541.0 258.9 533.8 259.1 536.9 259.4 529.3 259.5 536.2 259.6 521.0 259.9 533.0 260.2 523.8 260.3 530.4 260.5 530.5 260.7 517.8 260.9 524.2 261.2 514.5 261.3 521.6 261.5 514.1 261.7 512.0 261.8 508.8 262.1 514.1 262.3 510.1 262.5 521.3 262.7 519.2 262.9 519.6 263.2 513.8 263.4 525.8 263.7 526.7 264.0 522.9 264.3 534.9 264.4 524.0 264.6 531.6 264.9 525.1 265.3 538.7 265.6 533.7 265.8 539.1 266.0 532.1 266.3 538.1 266.6 546.1 266.7 539.0 267.0 547.6 267.6 542.0 268.1 552.7 268.6 543.7 269.2 550.5 269.7 551.6 270.4 557.3 271.1 550.7 271.9 559.1 272.4 551.0 272.9 562.4 273.3 553.4 273.9 567.0 274.2 559.4 274.6 561.7 274.9 568.2 275.3 565.3 275.7 577.2 276.1 564.6 276.4 563.6 276.7 572.5 277.2 568.5 279.0 583.2 280.6 573.2 282.0 581.0 283.2 575.5 284.8 576.6 285.8 584.8 286.7 573.4 288.2 583.2 289.9 576.2 291.4 587.2 292.9 582.4 294.6 588.4 295.3 584.0 296.8 592.2 297.7 585.3 298.8 594.3 300.4 584.9 302.3 586.3 303.9 593.2 305.0 590.0 306.2 590.2 308.0 600.3 309.4 588.7 311.2 599.3 312.5 591.8 314.4 595.2 315.5 598.8 316.9 604.5 318.2 599.8 319.4 593.5 321.0 595.4 322.8 611.8 324.8 598.1 325.7 609.2 327.3 602.0 328.8 607.1 330.2 600.5 331.6 609.2 332.5 602.6 333.2 611.5 334.2 611.0 335.7 605.5 336.6 609.3 338.0 617.9 338.9 607.8 339.9 608.9 340.6 622.3 341.6 614.5 342.3 621.1 343.3 615.3 344.6 614.4 345.8 624.9 347.1 622.0 348.0 624.9 349.2 621.8 350.3 627.9 351.6 630.5 352.7 624.6 354.1 627.3 355.3 635.2 356.3 630.4 357.0 637.0 357.8 633.1 358.8 635.3 359.5 642.9 360.2 635.8 361.6 645.7 361.9 648.5 361.9 637.2 361.8 657.3 361.7 644.9 361.7 643.7 361.6 656.9 361.5 646.9 361.4 646.4 361.3 647.9 361.3 660.6 361.2 653.9 361.1 662.5 361.1 654.5 360.4 658.7 358.9 662.7 357.8 652.4 356.9 661.3 355.4 666.0 354.2 662.9 353.1 668.1 351.5 671.2 350.5 662.0 348.8 669.5 347.5 663.4 345.5 672.5 343.2 663.0 341.2 665.7 339.5 670.3 337.8 669.5 335.5 666.1 333.8 668.0 332.5 668.7 330.8 664.5 329.6 668.9 328.0 659.5 326.5 667.1 324.9 660.9 323.5 665.5 322.4 654.5 321.0 660.1 319.9 655.7 319.7 662.4 319.5 661.4 319.2 651.6 319.0 653.9 318.8 657.7 318.6 650.8 318.3 642.8 318.1 646.6" fill="none" stroke="#4472c4" stroke-width="2.2" stroke-linejoin="round" stroke-linecap="round"/>
<path d="M306.0 629.0 307.3 630.1 308.6 631.5 309.9 630.0 311.2 629.1 312.5 628.2 313.8 627.4 315.1 630.6 316.4 629.4 317.7 627.2 319.0 628.4 319.0 666.3 317.7 667.5 316.4 666.6 315.1 668.9 313.8 669.7 312.5 668.4 311.2 666.7 309.9 667.3 308.6 667.1 307.3 669.6 306.0 668.8Z" fill="#ed7d31"/>
<path d="M318.0 635.4 319.0 640.0 320.0 640.3 321.0 636.7 322.0 635.8 323.0 635.0 324.0 634.1 325.0 634.8 326.0 634.6 327.0 639.0 328.0 634.2 329.0 634.0 330.0 639.0 331.0 639.2 332.0 633.7 333.0 635.6 334.0 640.5 335.0 636.6 336.0 638.5 337.0 639.2 338.0 639.2 339.0 635.3 340.0 640.2 341.0 641.1 342.0 638.8 343.0 638.4 344.0 641.3 345.0 643.4 346.0 643.2 347.0 638.1 348.0 642.2 349.0 640.4 350.0 644.0 351.0 644.0 352.0 640.7 353.0 643.8 354.0 643.8 355.0 638.5 356.0 640.6 357.0 644.5 358.0 639.7 359.0 641.2 360.0 642.7 361.0 640.9 362.0 644.0 362.0 672.1 361.0 675.7 360.0 670.5 359.0 669.7 358.0 670.2 357.0 675.9 356.0 674.9 355.0 672.2 354.0 672.6 353.0 677.1 352.0 671.1 351.0 673.9 350.0 675.4 349.0 678.4 348.0 675.7 347.0 673.2 346.0 673.6 345.0 675.2 344.0 674.9 343.0 674.0 342.0 675.1 341.0 676.6 340.0 676.6 339.0 673.7 338.0 673.8 337.0 675.5 336.0 671.1 335.0 674.3 334.0 676.1 333.0 669.8 332.0 670.8 331.0 669.7 330.0 674.7 329.0 672.5 328.0 673.0 327.0 668.6 326.0 670.9 325.0 668.2 324.0 672.5 323.0 671.7 322.0 671.4 321.0 665.7 320.0 669.0 319.0 669.0 318.0 665.8Z" fill="#4472c4"/>
<path d="M362.0 658.0 361.3 650.3 360.5 659.3 359.8 642.5 358.8 669.7 357.8 636.9 356.6 663.4 355.1 643.4 354.4 670.7 352.9 644.7 351.7 661.9 350.7 646.5 349.8 659.7 348.5 654.2 347.2 667.1 346.5 655.7 345.8 668.7 344.5 647.4 343.8 664.3 342.8 644.4 342.0 671.0 340.8 645.5 340.0 671.9 339.0 650.0 338.0 643.8 337.3 662.7 336.6 643.6 335.6 664.0 334.9 649.0 333.7 666.5 332.7 646.5 331.7 663.8 330.7 644.6 329.5 641.0 328.5 658.1 327.3 632.7 326.3 656.2 325.1 667.3 324.4 665.2 323.6 648.3 322.7 662.5 321.7 656.1 320.4 654.1 319.5 640.2" fill="none" stroke="#4472c4" stroke-width="2.2" stroke-linejoin="round" stroke-linecap="round"/>
<path d="M362.0 650.5 363.0 651.9 364.0 652.7 365.0 649.7 366.0 652.7 367.0 656.0 368.0 653.4 369.0 653.3 370.0 655.4 371.0 653.2 372.0 652.1 373.0 656.2 374.0 651.7 375.0 656.9 376.0 657.0 377.0 654.8 378.0 654.8 379.0 651.8 380.0 652.7 381.0 656.6 382.0 656.1 383.0 655.1 384.0 651.4 385.0 655.3 386.0 656.8 387.0 655.8 388.0 654.1 389.0 652.3 390.0 651.8 391.0 649.7 392.0 648.6 393.0 654.9 394.0 650.6 395.0 650.3 396.0 650.7 397.0 653.9 398.0 653.2 399.0 651.3 399.0 671.5 398.1 674.0 397.1 670.4 396.1 671.6 395.2 676.6 394.2 676.5 393.3 674.9 392.4 676.7 391.4 673.5 390.4 673.8 389.5 673.1 388.6 675.3 387.6 677.5 386.6 678.6 385.7 679.8 384.8 675.9 383.8 679.0 382.9 678.2 381.9 681.7 380.9 680.8 380.0 680.0 379.0 680.6 378.0 678.8 377.0 678.4 376.0 680.9 375.0 680.9 374.0 678.5 373.0 677.9 372.0 680.2 371.0 681.0 370.0 679.0 369.0 678.2 368.0 677.1 367.0 674.0 366.0 678.0 365.0 678.7 364.0 677.5 363.0 676.4 362.0 678.0Z" fill="#0070c0"/>
<path d="M399.0 655.8 398.5 666.8 397.6 650.9 396.5 658.1 395.5 675.1 394.4 653.0 393.2 674.4 392.3 657.2 391.2 669.0 389.8 653.0 388.8 672.6 388.3 658.3 387.1 674.5 385.9 655.9 384.9 659.0 383.9 658.4 382.7 673.9 382.0 662.4 380.7 678.0 379.5 661.1 378.8 678.3 377.8 655.3 377.0 668.3 375.8 668.8 374.8 669.3 373.5 663.9 372.5 658.3 372.0 670.1 370.8 663.3 369.8 673.0 369.0 662.1 367.5 667.2 366.8 677.2 365.8 654.5 365.0 670.1 364.0 653.0 362.8 671.7" fill="none" stroke="#0070c0" stroke-width="2.2" stroke-linejoin="round" stroke-linecap="round"/>
<path d="M441.0 704.1 440.7 682.7 440.3 698.5 439.6 678.9 439.1 701.1 438.6 701.2 437.9 708.1 437.1 684.3 436.7 706.2 436.2 703.3 435.0 673.0 434.0 707.8 433.0 690.0 432.2 685.8 431.2 702.7 430.2 685.5 428.8 702.8 427.2 689.2 426.3 703.2 425.1 693.1 424.4 700.0 423.5 684.4 422.8 703.2 421.6 685.4 420.7 681.4 419.3 708.2 418.3 691.2 417.3 698.2 416.6 672.1 415.4 698.4 413.7 684.4 412.9 690.5 412.0 705.5 411.0 688.6 410.0 684.7 408.5 706.4 406.8 679.2 405.2 695.3 404.2 681.8 403.2 706.2 402.2 682.9 400.8 703.0 399.2 699.6 397.5 674.0 396.8 696.9 395.8 700.9 394.2 686.2 393.0 686.9 391.5 676.6 390.5 695.2 389.5 675.2 388.3 690.9 387.3 661.5 385.9 683.6 384.4 694.1 383.4 672.2 382.0 693.4 381.0 657.9 380.5 690.6 379.0 706.5 378.2 672.9 377.2 691.9 376.2 681.7 375.5 693.0 374.5 656.0 373.5 707.5" fill="none" stroke="#ffc000" stroke-width="2.2" stroke-linejoin="round" stroke-linecap="round"/>
<path d="M90.0 634.2 91.0 626.9 91.8 631.0 92.7 625.6 94.1 622.1 95.1 629.8 96.1 620.7 96.9 627.1 98.2 613.9 99.4 627.2 100.9 624.2 101.7 617.4 103.3 621.3 104.3 616.3 105.2 622.5 106.7 615.7 108.3 614.0 109.1 621.2 110.5 612.5 111.8 624.6 113.5 613.4 115.2 618.0 116.2 614.1 118.2 616.0 119.5 615.5 120.8 610.6 122.0 616.5 123.5 611.2 124.8 617.0 126.5 611.8 128.2 616.5 129.2 604.5 130.8 608.6 131.8 616.1 132.8 610.9 133.8 617.2 135.2 610.0 136.5 616.1 137.5 609.0 138.8 616.1 140.2 608.3 141.8 613.4 143.5 609.3 145.2 616.8 147.2 616.5 148.8 609.9 150.8 614.1 151.8 608.8 153.0 615.7 154.5 615.2 156.0 611.2 157.5 614.8 159.0 608.1 159.8 612.4 161.2 616.0 162.2 612.4 163.8 617.7 165.0 608.9 166.2 620.2 167.2 610.0 168.5 618.2 169.5 613.2 170.2 610.3 172.2 611.1 173.5 610.4 175.0 619.5 176.2 613.4 177.8 617.7 179.5 615.8 181.0 611.0 182.8 618.2 184.2 610.9 185.2 617.5 187.0 613.6 188.2 619.6 189.2 614.8 190.8 610.7 192.0 620.1 193.8 613.4 195.2 618.6 197.0 612.1 198.5 620.0 199.8 612.9 200.8 614.3 202.2 620.6 203.5 615.5 205.0 620.3 206.5 613.9 208.2 615.4 210.0 615.0 211.5 620.0 213.0 616.1 214.0 621.5 215.5 617.4 217.2 621.4 218.0 615.2 219.0 621.2 220.0 615.2 221.0 626.7 221.8 614.5 223.2 622.2 224.2 611.7 225.8 623.4 226.5 615.5 227.8 620.5 228.5 613.1 229.8 617.9 231.2 617.2 232.5 622.6 233.8 616.8 235.0 619.4 236.5 627.0 238.5 617.7 239.2 622.0 240.5 619.5 242.2 622.3 243.2 618.0 244.8 625.4 245.7 620.8 246.9 627.4 248.4 622.0 250.3 625.6 251.3 619.3 252.7 627.1 254.4 615.5 255.4 625.8 256.9 629.9 258.3 621.3 259.5 630.7 260.6 633.4 261.2 623.1 262.0 629.7 263.4 625.9 264.6 637.6 266.0 633.5 267.4 630.1 268.3 633.8 269.2 630.4 269.8 635.6 270.9 639.7 271.8 638.0 272.6 635.4 273.6 635.4" fill="none" stroke="#bf9000" stroke-width="2.2" stroke-linejoin="round" stroke-linecap="round" stroke-dasharray="5 3"/>
<path d="M88.0 607.7 89.0 618.6 89.9 614.8 91.3 605.5 92.3 616.4 93.4 603.0 94.4 604.4 95.7 614.2 96.7 601.1 98.4 611.7 99.2 601.3 100.9 608.1 102.6 603.4 103.6 606.5 104.8 600.2 106.3 609.1 107.5 610.1 108.5 600.5 110.0 610.8 111.7 597.2 112.7 608.2 113.7 609.8 114.9 598.7 115.9 610.0 117.1 595.2 118.3 594.8 119.8 607.3 121.3 595.0 122.8 605.5 123.8 593.8 125.2 604.8 126.5 596.5 127.5 602.6 129.2 593.7 130.2 605.6 132.0 597.9 133.2 604.6 134.2 601.5 135.2 597.5 136.0 603.6 137.2 592.7 138.2 605.9 139.2 600.7 141.0 592.1 143.0 593.7 144.5 600.7 146.5 597.7 148.0 605.1 149.5 593.3 150.5 601.3 152.2 593.9 153.2 603.7 155.0 596.8 156.2 595.5 157.2 602.2 158.8 608.4 160.2 597.7 161.5 597.2 163.2 607.3 164.8 597.6 166.2 603.4 167.5 594.3 169.0 595.2 169.8 607.1 171.0 597.8 172.0 608.0 173.5 596.1 175.2 608.0 177.0 595.4 178.8 606.2 180.0 594.1 181.0 604.5 182.5 604.2 184.2 594.4 185.2 595.6 187.0 598.0 188.8 606.6 190.0 604.9 191.8 594.7 192.8 587.9 193.8 613.3 194.5 606.5 195.8 608.8 196.8 594.9 198.5 607.5 199.8 610.2 201.0 595.1 202.0 599.0 203.5 598.0 205.0 606.6 206.0 606.3 207.8 602.3 208.5 608.0 210.2 597.4 211.5 608.7 213.2 602.0 214.5 611.7 216.2 600.1 218.0 607.2 219.8 599.1 221.5 608.9 222.8 598.6 223.8 609.3 225.5 598.0 227.0 621.1 228.2 599.9 229.8 611.3 231.0 602.9 232.2 609.2 233.7 604.1 235.2 610.6 235.9 602.2 237.4 611.4 238.6 601.3 240.1 614.2 241.6 603.0 243.3 601.6 244.5 610.8 245.8 606.3 247.0 615.4 248.0 609.3 249.0 614.4 249.8 604.6 251.5 618.5 253.2 603.4 254.8 612.2 256.2 602.9 257.8 618.5 259.5 606.4 260.2 613.6 261.5 604.3 262.8 613.0 264.0 610.1 264.8 615.8 265.8 610.5 267.2 620.1 268.0 608.3 269.2 617.6 270.7 609.7 272.4 619.3 274.1 622.1 275.6 610.9 277.0 609.1 278.0 622.3 278.7 618.9 279.5 615.3 280.5 613.4 281.3 624.7 282.5 613.7 283.7 629.7 284.8 617.3 285.2 616.8 285.8 633.0 286.3 625.8 286.6 634.3 286.9 624.8 287.2 634.9 287.8 630.0 288.3 635.0 288.7 627.3 289.2 634.9 289.4 642.8 289.8 638.0 290.1 648.0 290.4 636.8 290.7 640.2 291.0 637.5 291.3 650.6 291.6 646.8 291.8 651.3 292.1 643.9 292.4 644.6 292.6 657.1 292.9 650.1 293.1 655.5 293.4 649.2 293.7 660.9 293.9 661.8 293.3 661.9 292.9 656.4 292.4 655.3" fill="none" stroke="#c00000" stroke-width="2.0" stroke-linejoin="round" stroke-linecap="round"/>
<path d="M285.0 622.1 286.2 626.0 287.3 625.9 288.5 623.6 289.7 626.2 290.8 625.5 292.0 628.5 293.2 628.9 294.3 627.2 295.5 628.9 296.7 629.0 297.8 628.6 299.0 629.7 299.0 663.6 297.8 662.3 296.7 664.1 295.5 663.6 294.3 663.1 293.2 663.4 292.0 663.9 290.8 661.1 289.7 659.5 288.5 661.9 287.3 662.5 286.2 660.2 285.0 659.6Z" fill="#c00000"/>
<path d="M82.0 632.2 83.0 631.5 84.2 631.5 86.0 632.5 87.8 635.0 89.5 634.9 91.0 631.9 92.8 636.6 94.0 632.4 94.8 635.5 95.8 633.7 96.5 635.9 97.5 635.1 98.5 636.1 99.5 635.4 100.5 636.8 101.8 636.3 103.5 634.7 104.8 637.2 106.5 633.5 107.5 636.5 108.5 633.6 109.8 636.7 111.0 638.6 112.5 637.0 114.0 635.6 115.5 638.3 116.8 637.0 118.0 638.3 118.8 639.5 120.0 639.3 121.5 637.0 123.2 638.5 124.5 638.0 126.0 634.9 127.8 637.1 128.5 632.6 130.2 636.9 131.5 633.5 132.2 636.9 134.0 633.9 134.8 633.1 136.5 635.6 137.8 633.1 139.5 632.6" fill="none" stroke="#000000" stroke-width="2.2" stroke-linejoin="round" stroke-linecap="round"/>
<path d="M140.0 612.5 141.2 617.1 143.0 611.0 144.7 617.8 146.8 612.8 147.9 618.4" fill="none" stroke="#000000" stroke-width="1.8" stroke-linejoin="round" stroke-linecap="round"/>
<path d="M183.0 611.2 183.9 626.4 185.8 612.0 187.5 626.1 189.1 612.4 191.1 626.0 192.1 612.3 193.8 626.8" fill="none" stroke="#000000" stroke-width="1.8" stroke-linejoin="round" stroke-linecap="round"/>
<path d="M220.0 615.5 221.2 639.8 222.7 615.4 224.7 639.8 225.8 615.2 226.9 640.1 228.2 614.6 230.0 640.4 231.2 614.6 232.2 640.3 233.7 614.4" fill="none" stroke="#000000" stroke-width="1.8" stroke-linejoin="round" stroke-linecap="round"/>
<path d="M100.0 633.2 102.0 631.3 104.0 631.2 106.0 631.3 108.0 633.4 110.0 633.9 112.0 634.4 114.0 633.7 116.0 633.7 118.0 634.0 120.0 633.5 122.0 633.9 124.0 632.9 126.0 632.7 128.0 635.3 130.0 635.3 132.0 636.0 134.0 635.4 136.0 635.1 138.0 634.0 140.0 636.3 142.0 635.4 144.0 636.6 146.0 636.5 148.0 636.7 150.0 636.4 152.0 637.2 154.0 636.3 156.0 637.5 158.0 637.2 160.0 637.7 162.0 639.1 164.0 639.1 166.0 638.9 168.0 638.8 170.0 638.0 172.0 640.1 174.0 639.1 176.0 639.3 178.0 641.0 180.0 640.2 182.0 641.1 184.0 639.8 186.0 641.8 188.0 642.7 190.0 642.0 192.0 642.9 194.0 642.4 196.0 643.1 198.0 642.6 200.0 642.5 202.0 644.6 204.0 644.0 206.0 645.2 208.0 643.7 210.0 643.7 212.0 644.8 214.0 645.3 214.0 650.8 212.0 650.1 210.0 651.1 208.0 650.1 206.0 648.3 204.0 648.0 202.0 650.5 200.0 650.4 198.0 649.0 196.0 649.8 194.0 649.1 192.0 647.6 190.0 647.1 188.0 648.3 186.0 649.1 184.0 648.2 182.0 649.3 180.0 649.0 178.0 646.7 176.0 646.3 174.0 648.0 172.0 646.2 170.0 647.3 168.0 646.6 166.0 648.2 164.0 646.3 162.0 647.6 160.0 647.8 158.0 646.5 156.0 646.7 154.0 646.4 152.0 645.4 150.0 646.1 148.0 645.8 146.0 646.1 144.0 646.4 142.0 646.1 140.0 646.0 138.0 645.3 136.0 643.3 134.0 644.7 132.0 643.3 130.0 642.7 128.0 642.8 126.0 644.9 124.0 642.8 122.0 644.1 120.0 642.6 118.0 644.2 116.0 642.0 114.0 643.6 112.0 643.6 110.0 643.3 108.0 640.7 106.0 640.2 104.0 641.7 102.0 639.9 100.0 639.7Z" fill="#2f5597" opacity="0.75"/>
<g fill="#2f5597"><rect x="199.8" y="659.2" width="1.6" height="1.6"/><rect x="191.4" y="646.2" width="1.6" height="1.6"/><rect x="184.9" y="662.2" width="1.6" height="1.6"/><rect x="170.9" y="656.6" width="1.6" height="1.6"/><rect x="150.9" y="655.0" width="1.6" height="1.6"/><rect x="179.6" y="665.0" width="1.6" height="1.6"/><rect x="178.7" y="655.9" width="1.6" height="1.6"/><rect x="156.8" y="662.7" width="1.6" height="1.6"/><rect x="157.4" y="647.3" width="1.6" height="1.6"/><rect x="177.2" y="657.4" width="1.6" height="1.6"/><rect x="200.4" y="655.7" width="1.6" height="1.6"/><rect x="188.1" y="654.0" width="1.6" height="1.6"/><rect x="171.8" y="647.7" width="1.6" height="1.6"/><rect x="169.3" y="650.6" width="1.6" height="1.6"/><rect x="164.4" y="651.8" width="1.6" height="1.6"/><rect x="190.3" y="654.2" width="1.6" height="1.6"/><rect x="164.4" y="655.3" width="1.6" height="1.6"/><rect x="183.7" y="654.7" width="1.6" height="1.6"/><rect x="194.6" y="661.4" width="1.6" height="1.6"/><rect x="158.8" y="658.6" width="1.6" height="1.6"/><rect x="183.9" y="646.5" width="1.6" height="1.6"/><rect x="165.0" y="652.3" width="1.6" height="1.6"/><rect x="160.5" y="654.9" width="1.6" height="1.6"/><rect x="211.6" y="662.5" width="1.6" height="1.6"/><rect x="155.6" y="646.9" width="1.6" height="1.6"/><rect x="193.0" y="654.4" width="1.6" height="1.6"/><rect x="133.2" y="652.4" width="1.6" height="1.6"/><rect x="143.7" y="667.9" width="1.6" height="1.6"/><rect x="151.3" y="656.8" width="1.6" height="1.6"/><rect x="133.2" y="665.1" width="1.6" height="1.6"/><rect x="172.9" y="646.4" width="1.6" height="1.6"/><rect x="181.0" y="664.8" width="1.6" height="1.6"/><rect x="170.3" y="658.1" width="1.6" height="1.6"/><rect x="209.4" y="655.2" width="1.6" height="1.6"/><rect x="177.6" y="665.4" width="1.6" height="1.6"/><rect x="186.7" y="657.3" width="1.6" height="1.6"/><rect x="158.6" y="659.6" width="1.6" height="1.6"/><rect x="195.0" y="662.2" width="1.6" height="1.6"/><rect x="147.8" y="652.6" width="1.6" height="1.6"/><rect x="175.3" y="648.5" width="1.6" height="1.6"/></g>
<line x1="81.5" y1="563" x2="81.5" y2="648" stroke="#70ad47" stroke-width="2"/>
<path d="M82.0 607.0 83.5 606.7 85.0 607.7 86.6 606.8 88.1 607.8 89.6 606.7 91.1 608.3 92.6 608.5 94.2 607.7 95.7 609.6 97.2 606.5 98.7 610.3 100.2 608.2 101.8 607.2 103.3 608.1 104.8 608.3 106.3 606.7 107.8 609.5 109.4 609.3 110.9 609.1 112.4 609.3 113.9 610.5 115.4 608.8 117.0 609.1 118.5 610.7 120.0 610.5 121.5 607.8 123.1 607.8 124.6 611.1 126.2 610.1 127.7 607.9 129.2 608.8 130.8 609.4 132.3 609.9 133.8 609.4 135.4 609.8 136.9 610.9 138.5 612.5 140.0 611.8 141.5 612.9 143.1 609.3 144.6 610.6 146.2 613.2 147.7 612.1 149.2 611.2 150.8 611.1 152.3 613.6 153.8 614.4 155.4 613.1 156.9 613.7 158.5 613.8 160.0 614.0 161.5 613.0 163.0 614.8 164.5 614.3 166.0 615.7 167.5 615.8 169.0 613.6 170.5 614.8 172.0 614.6 173.5 613.7 175.0 614.7 176.5 617.7 178.0 615.5 179.5 614.7 181.0 616.3 182.5 617.3 184.0 618.3 185.5 616.6 187.0 618.0 188.5 616.8 190.0 619.9 191.5 618.0 193.0 619.7 194.5 620.4 196.0 619.8 197.5 619.1 199.0 620.3 200.5 620.0 202.0 620.8 203.5 622.1 205.0 620.0 206.5 620.1 208.0 620.1 209.5 621.1 211.0 622.8 212.5 621.1 214.0 622.1 214.0 630.6 212.5 631.4 211.0 631.4 209.5 633.0 208.0 632.5 206.5 629.5 205.0 632.9 203.5 632.3 202.0 632.1 200.5 631.6 199.0 631.5 197.5 628.9 196.0 631.0 194.5 629.2 193.0 631.5 191.5 631.3 190.0 630.9 188.5 631.4 187.0 630.8 185.5 627.7 184.0 630.2 182.5 631.0 181.0 627.9 179.5 627.1 178.0 628.3 176.5 630.5 175.0 630.3 173.5 628.8 172.0 629.9 170.5 629.4 169.0 627.1 167.5 628.0 166.0 628.6 164.5 627.4 163.0 626.4 161.5 628.5 160.0 626.7 158.5 627.1 156.9 626.1 155.4 624.8 153.8 626.8 152.3 624.5 150.8 626.1 149.2 626.8 147.7 626.2 146.2 625.5 144.6 626.4 143.1 625.8 141.5 624.3 140.0 624.6 138.5 625.1 136.9 626.4 135.4 624.9 133.8 624.5 132.3 625.2 130.8 622.6 129.2 624.9 127.7 622.6 126.2 624.4 124.6 625.3 123.1 622.9 121.5 624.4 120.0 622.5 118.5 621.7 117.0 621.9 115.4 624.2 113.9 621.8 112.4 623.5 110.9 621.5 109.4 622.9 107.8 621.6 106.3 623.5 104.8 623.2 103.3 625.4 101.8 624.1 100.2 624.0 98.7 621.6 97.2 624.0 95.7 623.8 94.2 623.6 92.6 624.4 91.1 623.2 89.6 622.1 88.1 624.8 86.6 622.1 85.0 622.4 83.5 622.9 82.0 626.0Z" fill="#70ad47"/>
<path d="M214.0 624.1 215.2 621.5 216.5 621.2 217.7 622.6 219.0 624.7 220.2 622.5 221.4 625.5 222.7 624.2 223.9 623.8 225.1 624.4 226.4 624.3 227.6 624.1 228.9 625.7 230.1 625.2 231.3 624.4 232.6 622.0 233.8 623.1 235.0 622.8 236.3 626.6 237.5 627.1 238.8 624.3 240.0 626.3 240.0 656.4 238.8 656.6 237.5 659.5 236.3 657.3 235.0 660.1 233.8 660.0 232.6 655.5 231.3 655.9 230.1 659.4 228.9 655.5 227.6 658.8 226.4 659.8 225.1 656.5 223.9 655.9 222.7 657.8 221.4 659.3 220.2 659.9 219.0 658.7 217.7 659.6 216.5 655.8 215.2 659.7 214.0 655.8Z" fill="#70ad47"/>
<path d="M82.0 622.5 83.5 619.9 85.0 622.1 86.6 621.3 88.1 622.9 89.6 621.4 91.1 621.0 92.6 619.8 94.2 621.1 95.7 623.0 97.2 623.2 98.7 620.6 100.2 622.6 101.8 620.5 103.3 621.9 104.8 621.3 106.3 620.8 107.8 621.4 109.4 622.6 110.9 622.4 112.4 621.2 113.9 620.5 115.4 620.1 117.0 623.4 118.5 622.0 120.0 622.0 121.5 621.8 123.1 620.7 124.6 621.3 126.2 624.0 127.7 622.0 129.2 622.6 130.8 624.1 132.3 623.0 133.8 621.6 135.4 621.2 136.9 621.7 138.5 621.5 140.0 621.8 141.5 621.8 143.1 622.5 144.6 623.1 146.2 622.9 147.7 622.9 149.2 623.5 150.8 622.6 152.3 625.3 153.8 622.7 155.4 624.2 156.9 623.5 158.5 624.1 160.0 622.2 161.5 625.9 163.0 625.5 164.5 622.6 166.0 623.6 167.5 626.0 169.0 625.6 170.5 624.9 172.0 626.0 173.5 623.5 175.0 625.9 176.5 623.9 178.0 624.4 179.5 626.9 181.0 624.9 182.5 625.7 184.0 626.1 185.5 625.5 187.0 626.9 188.5 627.5 190.0 626.3 191.5 625.6 193.0 627.4 194.5 625.5 196.0 624.9 197.5 628.0 199.0 625.8 200.5 625.3 202.0 627.6 203.5 625.4 205.0 628.0 206.5 628.6 208.0 626.5 209.5 628.8 211.0 628.1 212.5 626.8 214.0 626.7 214.0 654.2 212.6 656.3 211.2 654.7 209.8 655.4 208.4 654.3 206.9 653.1 205.5 651.9 204.1 649.9 202.7 652.0 201.3 651.0 199.9 649.3 198.5 648.5 197.1 647.9 195.6 647.6 194.2 647.5 192.8 644.9 191.4 646.3 190.0 646.7 188.6 645.7 187.1 642.7 185.7 643.1 184.3 644.4 182.9 643.9 181.4 641.7 180.0 643.1 178.6 641.4 177.1 640.5 175.7 640.4 174.3 639.6 172.9 637.7 171.4 638.5 170.0 636.7 168.6 637.6 167.1 636.5 165.7 637.1 164.3 635.3 162.9 635.6 161.4 635.9 160.0 633.3 158.5 634.9 156.9 634.3 155.4 636.2 153.8 634.9 152.3 635.9 150.8 635.9 149.2 634.3 147.7 635.7 146.2 635.4 144.6 632.7 143.1 635.9 141.5 634.2 140.0 632.6 138.5 634.7 136.9 635.2 135.4 632.5 133.8 633.6 132.3 634.7 130.8 633.5 129.2 633.0 127.7 634.5 126.2 632.8 124.6 632.5 123.1 631.9 121.5 632.2 120.0 631.2 118.5 634.5 117.0 631.5 115.4 631.6 113.9 633.3 112.4 634.3 110.9 632.7 109.4 631.0 107.8 633.3 106.3 630.9 104.8 633.3 103.3 633.9 101.8 631.1 100.2 632.8 98.7 633.2 97.2 630.7 95.7 631.2 94.2 631.4 92.6 632.7 91.1 632.6 89.6 631.6 88.1 632.0 86.6 632.0 85.0 633.6 83.5 632.0 82.0 630.6Z" fill="#a3b3dd"/>
<line x1="80" y1="590" x2="80" y2="655" stroke="#a3b3dd" stroke-width="2.2"/>
<line x1="163" y1="590" x2="163" y2="652" stroke="#a3b3dd" stroke-width="2.2"/>
<path d="M81.9 634.9 83.4 633.7 84.4 635.8 86.1 633.6 87.0 635.8 88.7 633.6 89.7 635.6 91.3 634.2 92.3 636.2 93.8 635.2 94.9 636.7 96.4 634.9 97.4 637.6 98.8 635.1 100.0 637.0 101.3 636.0 102.5 637.1 103.8 636.0 104.9 637.6 106.3 635.8 107.5 637.3 108.8 636.4 110.0 638.4 111.3 635.9 112.5 637.4 113.8 635.7 115.0 637.8 116.2 636.2 117.5 638.3 118.8 635.9 120.0 637.8 121.2 636.2 122.5 638.0 123.7 635.7 125.1 638.1 126.2 636.3 127.6 636.8 128.6 635.5 130.1 636.6 131.0 634.5 132.7 636.5 133.7 634.8 135.2 635.8 136.1 633.8 137.7 635.4 138.6 633.7 140.2 635.1" fill="none" stroke="#000000" stroke-width="1.8" stroke-linejoin="round" stroke-linecap="round"/>
<path d="M120.0 631.8 121.5 633.4 123.0 633.0 124.5 634.7 126.0 633.9 127.5 633.8 129.0 635.2 130.5 633.4 132.0 635.2 133.5 634.1 135.0 635.0 136.5 636.1 138.0 635.7 139.5 635.3 141.0 636.0 142.5 633.8 144.0 635.2 145.5 636.6 147.0 636.5 148.5 635.7 150.0 635.2 151.6 635.8 153.1 636.3 154.7 635.6 156.2 638.3 157.8 637.7 159.4 637.6 160.9 636.8 162.5 637.5 164.1 638.0 165.6 637.4 167.2 638.3 168.8 638.6 170.3 640.0 171.9 640.7 173.4 638.3 175.0 638.9 176.6 641.3 178.1 639.0 179.7 640.0 181.2 641.2 182.8 641.3 184.4 640.7 185.9 642.5 187.5 642.6 189.1 640.8 190.6 643.1 192.2 642.4 193.8 643.0 195.3 643.5 196.9 644.0 198.4 644.7 200.0 643.0 200.0 650.1 198.4 650.7 196.9 651.2 195.3 650.4 193.8 648.0 192.2 650.2 190.6 650.6 189.1 649.8 187.5 649.8 185.9 648.2 184.4 650.1 182.8 647.3 181.2 649.6 179.7 647.4 178.1 647.6 176.6 648.4 175.0 647.5 173.4 647.1 171.9 646.7 170.3 646.9 168.8 646.9 167.2 648.4 165.6 647.1 164.1 647.2 162.5 645.1 160.9 647.4 159.4 644.9 157.8 646.7 156.2 645.4 154.7 644.5 153.1 646.0 151.6 646.4 150.0 645.0 148.5 644.6 147.0 643.0 145.5 644.2 144.0 643.6 142.5 643.5 141.0 642.8 139.5 643.5 138.0 642.5 136.5 643.6 135.0 642.7 133.5 643.1 132.0 643.1 130.5 642.6 129.0 642.1 127.5 640.8 126.0 642.1 124.5 641.6 123.0 639.5 121.5 639.4 120.0 639.1Z" fill="#2f5597" opacity="0.85"/>
<line x1="422.7" y1="444.5" x2="462.7" y2="444.5" stroke="#a5a5a5" stroke-width="2.4"/>
<text x="465.50" y="448.80" font-size="12.4" text-anchor="start" font-weight="400" fill="#595959">R-D = 113.8 mm</text>
<line x1="422.7" y1="459.2" x2="462.7" y2="459.2" stroke="#ffc000" stroke-width="2.4"/>
<text x="465.50" y="463.50" font-size="12.4" text-anchor="start" font-weight="400" fill="#595959">D = 113.8 mm</text>
<line x1="422.7" y1="473.9" x2="462.7" y2="473.9" stroke="#5b8c3c" stroke-width="2.4"/>
<text x="465.50" y="478.20" font-size="12.4" text-anchor="start" font-weight="400" fill="#595959">R-D = 101.6 mm</text>
<line x1="422.7" y1="488.6" x2="462.7" y2="488.6" stroke="#0070c0" stroke-width="2.4"/>
<text x="465.50" y="492.90" font-size="12.4" text-anchor="start" font-weight="400" fill="#595959">D = 101.6 mm</text>
<line x1="422.7" y1="503.3" x2="462.7" y2="503.3" stroke="#ed7d31" stroke-width="2.4"/>
<text x="465.50" y="507.60" font-size="12.4" text-anchor="start" font-weight="400" fill="#595959">R-D = 89.2 mm</text>
<line x1="422.7" y1="518.0" x2="462.7" y2="518.0" stroke="#4472c4" stroke-width="2.4"/>
<text x="465.50" y="522.30" font-size="12.4" text-anchor="start" font-weight="400" fill="#595959">D = 89.2 mm</text>
<line x1="422.7" y1="532.7" x2="462.7" y2="532.7" stroke="#bf9000" stroke-width="2.4" stroke-dasharray="10 7.6"/>
<text x="465.50" y="537.00" font-size="12.4" text-anchor="start" font-weight="400" fill="#595959">R-D = 75 mm</text>
<line x1="422.7" y1="547.4" x2="462.7" y2="547.4" stroke="#c00000" stroke-width="2.4"/>
<text x="465.50" y="551.70" font-size="12.4" text-anchor="start" font-weight="400" fill="#595959">D = 75 mm</text>
<line x1="422.7" y1="562.1" x2="462.7" y2="562.1" stroke="#000000" stroke-width="2.4"/>
<text x="465.50" y="566.40" font-size="12.4" text-anchor="start" font-weight="400" fill="#595959">R-D = 49.63 mm</text>
<line x1="422.7" y1="576.8" x2="462.7" y2="576.8" stroke="#2f5597" stroke-width="2.4" stroke-dasharray="2.3 3.15"/>
<text x="465.50" y="581.10" font-size="12.4" text-anchor="start" font-weight="400" fill="#595959">D = 49.63 mm</text>
<line x1="422.7" y1="591.5" x2="462.7" y2="591.5" stroke="#70ad47" stroke-width="2.4"/>
<text x="465.50" y="595.80" font-size="12.4" text-anchor="start" font-weight="400" fill="#595959">D = 63.6 mm</text>
<line x1="422.7" y1="606.2" x2="462.7" y2="606.2" stroke="#a3b3dd" stroke-width="2.4"/>
<text x="465.50" y="610.50" font-size="12.4" text-anchor="start" font-weight="400" fill="#595959">R-D = 63.6 mm</text>
<line x1="697.5" y1="442.0" x2="1108" y2="442.0" stroke="#d9d9d9" stroke-width="1"/>
<line x1="697.5" y1="499.6" x2="1108" y2="499.6" stroke="#d9d9d9" stroke-width="1"/>
<line x1="697.5" y1="557.2" x2="1108" y2="557.2" stroke="#d9d9d9" stroke-width="1"/>
<line x1="697.5" y1="614.8" x2="1108" y2="614.8" stroke="#d9d9d9" stroke-width="1"/>
<line x1="697.5" y1="672.4" x2="1108" y2="672.4" stroke="#d9d9d9" stroke-width="1"/>
<line x1="697.5" y1="730.0" x2="1108" y2="730.0" stroke="#d9d9d9" stroke-width="1"/>
<line x1="697.5" y1="442" x2="697.5" y2="730" stroke="#d9d9d9" stroke-width="1"/>
<line x1="756.14" y1="442" x2="756.14" y2="730" stroke="#d9d9d9" stroke-width="1"/>
<line x1="814.78" y1="442" x2="814.78" y2="730" stroke="#d9d9d9" stroke-width="1"/>
<line x1="873.42" y1="442" x2="873.42" y2="730" stroke="#d9d9d9" stroke-width="1"/>
<line x1="932.06" y1="442" x2="932.06" y2="730" stroke="#d9d9d9" stroke-width="1"/>
<line x1="990.7" y1="442" x2="990.7" y2="730" stroke="#d9d9d9" stroke-width="1"/>
<line x1="1049.34" y1="442" x2="1049.34" y2="730" stroke="#d9d9d9" stroke-width="1"/>
<line x1="1107.98" y1="442" x2="1107.98" y2="730" stroke="#d9d9d9" stroke-width="1"/>
<text x="684.00" y="446.00" font-size="13.3" text-anchor="end" font-weight="400" fill="#595959">250</text>
<text x="684.00" y="503.60" font-size="13.3" text-anchor="end" font-weight="400" fill="#595959">200</text>
<text x="684.00" y="561.20" font-size="13.3" text-anchor="end" font-weight="400" fill="#595959">150</text>
<text x="684.00" y="618.80" font-size="13.3" text-anchor="end" font-weight="400" fill="#595959">100</text>
<text x="684.00" y="676.40" font-size="13.3" text-anchor="end" font-weight="400" fill="#595959">50</text>
<text x="684.00" y="734.00" font-size="13.3" text-anchor="end" font-weight="400" fill="#595959">0</text>
<text x="697.50" y="752.70" font-size="13.3" text-anchor="middle" font-weight="400" fill="#595959">0</text>
<text x="756.14" y="752.70" font-size="13.3" text-anchor="middle" font-weight="400" fill="#595959">100</text>
<text x="814.78" y="752.70" font-size="13.3" text-anchor="middle" font-weight="400" fill="#595959">200</text>
<text x="873.42" y="752.70" font-size="13.3" text-anchor="middle" font-weight="400" fill="#595959">300</text>
<text x="932.06" y="752.70" font-size="13.3" text-anchor="middle" font-weight="400" fill="#595959">400</text>
<text x="990.70" y="752.70" font-size="13.3" text-anchor="middle" font-weight="400" fill="#595959">500</text>
<text x="1049.34" y="752.70" font-size="13.3" text-anchor="middle" font-weight="400" fill="#595959">600</text>
<text x="1107.98" y="752.70" font-size="13.3" text-anchor="middle" font-weight="400" fill="#595959">700</text>
<text x="903.00" y="775.30" font-size="13.0" text-anchor="middle" font-weight="700" fill="#000" textLength="171" lengthAdjust="spacingAndGlyphs">Normalized Pressure (KPa)</text>
<text transform="translate(651.6,585.4) rotate(-90)" x="0" y="5.0" font-size="14.2" text-anchor="middle" font-weight="700" fill="#000" textLength="126" lengthAdjust="spacingAndGlyphs">k, tangent (MN/m<tspan font-size="8.8" dy="-4.5">3</tspan><tspan dy="4.5">)</tspan></text>
<path d="M700.0 688.2 700.4 697.1 701.0 680.8 701.4 691.9 701.8 675.7 702.2 686.0 702.8 678.7 703.4 683.3 704.0 668.1 704.8 667.8 705.3 677.9 706.4 671.5 707.4 661.8 707.9 674.5 708.8 655.7 709.8 675.3 711.0 667.0 711.7 651.4 712.5 652.5 713.5 648.1 714.9 657.6 715.8 643.5 716.4 641.7 717.3 655.2 718.3 646.7 718.8 658.8 719.4 642.5 720.3 650.0 720.9 639.2 721.4 649.5 721.8 629.8 722.5 644.0 723.7 634.0 724.9 636.0 726.4 625.9 727.6 633.1 728.6 623.2 729.6 633.0 730.5 630.7 731.5 618.6 732.4 629.3 733.0 614.1 733.6 623.8 734.4 613.7 735.2 627.3 735.9 618.7 736.9 594.0 738.5 616.9 739.8 621.7 741.5 614.9 743.2 604.6 744.9 614.2 746.6 600.5 748.5 605.1 749.5 600.3 751.0 607.0 752.5 592.4 753.5 593.8 755.0 595.7 756.7 602.5 757.9 591.5 759.4 604.7 760.8 589.3 762.1 602.1 763.3 583.1 764.3 601.9 766.0 580.4 768.0 594.5 768.9 584.3 770.3 588.4 771.7 584.2 773.8 592.9 775.2 577.5 777.1 584.3 778.7 580.5 780.8 586.5 782.3 574.9 784.1 573.6 786.5 583.0 787.4 571.8 789.6 574.7 790.8 588.4 793.1 572.4 794.5 585.3 796.9 570.2 799.1 581.2 800.2 565.1 802.6 563.3 804.3 571.4 806.2 574.8 807.4 580.0 809.6 565.7 812.2 578.9 813.4 582.3 815.3 562.8 817.2 567.1 819.6 579.2 821.6 562.2 824.0 574.5 825.9 570.9 828.1 550.3 829.8 569.7 831.2 551.5 832.7 573.5 833.7 557.1 835.4 565.4 837.1 562.1 838.9 556.6 840.3 562.0 842.1 573.7 843.3 570.8 844.8 551.4 846.5 565.1 848.8 558.3 849.7 559.4 851.6 562.2 853.2 555.5 854.8 566.0 856.1 539.3 857.9 546.8 859.1 561.0 860.9 544.6 862.1 561.4 864.2 547.7 865.3 561.4 866.6 535.2 867.0 553.7 867.7 537.1 868.4 551.9 869.0 534.9 869.5 550.4 870.1 538.6 870.9 545.3 871.8 531.8 872.5 536.0 873.2 526.9 873.7 537.2 874.0 538.7 874.1 518.3 874.3 526.2 874.5 519.7 874.8 522.9 874.9 526.1 875.1 513.1 875.2 515.7 875.4 523.6 875.7 506.8 875.9 514.7 876.2 500.1 876.4 510.0 876.6 515.1 876.8 496.8 877.1 509.4 877.3 495.8 877.5 506.0 877.8 488.3 878.7 489.8 879.1 502.5 880.0 498.6 880.9 505.8 881.7 498.7 882.1 500.8 882.3 515.3 882.5 501.0 882.7 518.1 882.9 514.1 883.1 522.5 883.3 518.0 883.4 523.2 883.6 514.4 883.7 526.6 883.8 516.7 884.0 532.7 884.3 524.0 884.5 525.8 884.6 537.4 884.8 533.4 885.0 543.5 885.2 534.4 885.4 549.9 886.6 539.3 887.6 561.3 889.3 531.3 890.7 536.4 891.0 552.5 891.4 534.5 891.8 549.3 892.3 542.0 892.8 554.8 893.4 531.2 893.6 558.8 894.0 551.8 894.4 548.7 894.6 553.4 894.8 545.3 895.2 558.6 895.6 548.9 895.9 538.3 896.2 547.4 896.6 532.3 896.9 542.1 897.2 541.0 897.6 532.5 897.9 537.0 898.3 527.7 898.6 533.7 898.8 520.1 899.0 536.7 899.5 526.0 899.8 516.4 900.0 523.0 900.2 517.6 900.4 512.6 900.7 532.5 900.8 527.6 901.0 534.0 901.2 534.5 901.3 526.1 901.5 539.0 901.6 528.4 901.8 540.3 901.9 530.8 902.2 542.4 902.6 544.7 902.8 547.7 903.1 534.4 903.3 553.5 903.6 553.4 903.8 543.8 904.1 544.7 904.4 547.3 904.7 545.4 905.1 555.2 905.5 536.3 906.1 545.9 906.6 533.6 906.9 549.1 907.5 529.1 907.9 537.3 908.4 524.5 908.8 538.3 909.2 520.2 909.4 535.2 909.8 525.3 910.1 537.7 910.4 528.6 910.9 540.1 911.1 529.4 911.4 545.5 911.7 547.0 912.1 532.7 912.3 547.6 912.7 543.7 913.1 552.1 913.4 539.6 913.8 556.5 914.3 550.2 915.8 560.2 917.3 549.5 918.7 560.5 919.4 549.5 920.0 558.5 920.2 556.1 920.7 552.2 921.2 569.1 921.6 567.5 921.9 558.2 922.5 573.8 923.0 567.6 923.4 559.2 923.7 576.1 924.2 567.9 924.5 574.0 925.4 570.2 926.2 576.7 927.3 567.1 929.0 580.4 929.9 581.6 930.4 566.3 931.1 578.6 931.6 589.7 932.2 563.1 932.6 562.5 933.0 569.8 933.4 561.4 934.0 572.7 934.7 573.6 937.3 567.3 939.6 568.8 941.8 560.7 943.5 560.1 945.0 567.7 946.8 568.3 947.1 556.9 947.6 570.6 947.9 565.7 948.5 573.5 949.1 583.4 949.3 565.8 949.8 572.8 950.1 582.7 950.5 586.3 950.9 584.1 951.6 581.7 951.9 586.7 952.4 597.9 952.8 579.1 953.5 581.0 954.2 569.9 954.9 578.6 955.5 577.6 955.9 567.4 956.3 574.6 956.8 574.8 957.3 557.8 957.6 576.7 958.4 557.5 959.3 557.5 960.5 556.6 963.0 567.6 964.4 558.6 965.5 566.9 965.6 560.9 965.8 587.7 966.0 567.1 966.1 594.1 966.2 584.2 966.4 573.7 966.6 580.8 966.8 574.2 967.1 585.2 967.3 593.4 967.4 573.6 967.6 597.5 967.8 581.6 968.1 589.4 968.2 606.9 968.5 586.3 968.6 603.7 969.3 601.1 971.6 595.9 972.9 606.8 974.7 607.4 977.0 597.5 979.0 620.8 980.4 589.4 981.6 605.8 983.1 614.8 985.2 594.1 986.1 605.1 987.4 598.9 989.3 608.6 990.3 603.5 992.0 610.5 993.3 610.7 994.5 603.1 996.5 618.8 996.9 605.1 998.0 618.6 999.1 609.5 999.9 622.7 1001.1 611.6 1002.0 615.3 1003.1 624.7 1004.2 628.9 1004.8 621.4 1005.7 631.2 1007.0 628.6 1007.6 648.1 1008.3 622.9 1009.3 642.9 1010.3 630.6 1011.0 644.4 1012.0 631.9 1012.8 643.3 1013.4 634.1 1014.7 650.7 1015.6 637.4 1016.7 652.3 1017.6 638.2 1019.1 639.7 1019.5 656.5 1019.9 648.4 1020.5 663.9 1021.2 652.6 1021.8 653.1 1022.2 670.2 1022.6 653.6 1023.1 657.2 1024.3 671.1 1025.0 661.8 1026.1 671.9 1027.1 669.1 1028.1 679.7 1028.8 666.0 1029.6 682.0 1030.1 687.1 1030.7 671.8 1031.3 682.9 1032.2 672.4 1032.9 692.1 1033.5 676.8 1034.5 690.0 1035.7 683.7 1036.3 696.8 1036.7 694.2 1036.8 695.5 1037.0 689.1 1037.2 715.6 1037.3 693.6 1037.4 691.4 1037.7 703.7 1037.8 691.8 1038.0 713.7 1038.1 700.5 1038.2 700.1 1038.3 717.4 1038.3 704.3 1038.4 704.8 1038.5 721.9 1038.6 712.3 1038.6 722.9 1038.7 718.1 1038.7 729.8 1038.8 720.8 1038.9 730.3 1038.9 716.2 1039.0 732.5" fill="none" stroke="#a5a5a5" stroke-width="2.2" stroke-linejoin="round" stroke-linecap="round"/>
<path d="M700.0 690.2 700.5 707.7 701.3 695.1 702.0 703.2 702.9 687.9 703.6 709.4 704.0 682.9 704.1 699.9 704.2 691.4 704.4 683.3 704.5 697.1 704.6 687.8 704.7 671.6 704.9 687.4 705.0 671.5 705.2 660.8 705.5 679.6 706.4 668.8 707.6 665.1 708.2 672.0 708.9 666.2 709.8 682.2 710.6 658.5 711.6 674.9 712.4 652.6 713.2 661.6 713.9 648.3 714.7 672.9 715.6 651.1 716.4 665.2 717.3 642.3 718.5 657.0 719.3 645.0 720.7 652.9 721.6 633.4 722.7 654.8 724.2 632.0 725.3 642.8 726.7 634.1 727.8 641.6 729.1 632.8 730.6 640.4 732.0 637.0 732.8 619.0 733.8 640.2 734.5 627.5 735.8 630.4 736.7 617.5 738.0 630.9 740.0 633.0 741.4 633.3 742.9 626.2 744.3 610.7 745.3 627.5 747.1 623.3 748.6 609.2 749.8 606.2 750.9 626.2 751.7 609.8 752.6 589.2 753.9 622.1 755.1 603.7 756.0 615.4 756.9 604.4 758.5 619.4 760.3 606.3 762.1 595.9 763.6 614.2 765.2 602.4 766.9 606.9 767.8 595.4 769.6 594.0 770.5 589.8 771.9 608.3 772.8 609.3 773.6 592.6 775.4 589.5 776.1 598.1 777.2 586.9 778.4 608.7 780.2 585.9 781.4 596.3 782.7 578.5 784.5 600.3 785.7 583.2 787.5 595.7 788.6 590.2 789.7 596.2 791.3 572.8 792.5 601.9 793.8 580.6 795.4 590.9 797.0 570.5 798.5 575.3 800.9 578.0 803.2 592.6 804.4 571.2 805.6 588.2 807.8 570.1 809.6 587.1 810.8 576.2 812.5 588.1 815.0 571.2 817.0 579.8 819.4 566.7 821.1 581.7 823.1 578.0 825.1 566.6 826.8 568.8 828.5 584.7 831.0 580.9 832.5 567.0 834.0 578.4 836.5 581.0 837.8 569.3 840.0 585.0 841.5 563.9 843.8 571.4 845.8 584.3 847.8 579.3 849.4 580.3 850.5 565.9 851.9 582.5 853.5 566.3 854.8 569.5 855.4 575.2 856.7 553.9 857.6 559.5 858.9 564.6 860.1 552.3 861.1 566.0 861.7 573.0 862.7 574.5 863.8 563.7 864.4 578.9 865.1 574.6 866.2 559.4 867.0 575.9 867.9 572.6 868.3 573.6 869.4 572.7 870.2 580.8 871.3 570.4 871.9 583.3 872.1 573.7 872.3 585.3 872.6 586.9 872.9 568.0 873.0 583.9 873.3 565.9 873.5 561.3 873.7 563.0 873.8 571.0 874.2 556.7 874.4 564.4 874.7 557.1 875.0 569.6 875.2 531.5 875.5 563.7 875.7 544.0 875.9 553.2 876.2 552.7 876.3 542.1 876.5 554.2 876.7 538.4 876.9 551.0 877.1 536.8 877.2 548.3 877.4 541.3 877.6 558.4 877.8 545.7 878.0 555.9 878.3 549.0 878.5 562.7 878.7 555.1 878.9 581.7 879.1 548.8 879.3 550.8 879.4 569.5 879.6 567.2 879.9 548.9 880.1 578.5 880.3 580.8 880.5 577.5 880.7 561.8 880.9 585.7 881.1 574.2 881.3 575.4 881.5 594.4 881.6 571.5 881.9 594.6 882.8 589.5 883.2 584.5 884.5 574.6 885.6 585.2 886.4 589.4 887.4 566.7 888.2 578.0 890.0 570.7 892.0 582.8 893.8 570.4 894.6 570.8 895.1 580.3 895.8 564.6 896.4 567.4 897.0 573.1 897.9 572.1 898.5 556.1 898.9 575.3 899.4 560.8 900.0 566.3 900.7 549.3 901.4 559.2 902.2 541.7 902.8 559.1 903.3 552.2 903.7 566.3 904.1 555.5 904.7 568.5 905.2 569.0 905.8 553.7 906.3 565.0 906.6 576.5 906.8 583.8 907.4 562.6 907.8 576.0 908.2 571.2 908.9 582.5 909.5 567.9 910.2 577.2 910.6 554.5 911.4 574.0 912.1 556.4 912.5 572.2 913.3 554.3 913.6 568.6 914.2 543.8 914.6 573.8 915.1 545.3 915.6 548.0 916.1 546.5 916.5 557.2 917.0 529.7 917.4 555.6 917.8 538.0 918.2 550.4 918.7 554.4 919.4 532.3 919.8 540.2 920.4 528.6 920.9 538.9 921.7 549.7 924.0 522.0 926.0 535.0 926.5 522.5 926.8 545.5 927.1 533.4 927.3 541.0 927.5 531.7 927.7 543.6 928.0 537.3 928.3 551.4 928.6 542.9 928.8 558.3 929.1 548.7 929.3 567.0 929.5 547.0 929.8 566.1 930.0 559.9 930.3 575.5 930.5 569.8 930.8 571.4 931.0 555.4 931.2 588.0 931.5 558.6 931.7 578.5 932.0 559.0 932.2 572.8 932.6 548.2 932.7 549.4 932.9 547.0 933.1 561.1 933.2 544.0 933.6 563.7 933.8 544.3 934.1 562.0 934.3 543.8 934.6 550.4 934.8 533.2 935.5 546.9 936.4 537.7 937.1 558.7 937.8 546.3 938.2 541.2 938.8 541.4 939.6 527.9 941.2 537.1 943.5 527.2 945.0 522.8 945.1 543.3 945.4 530.9 945.7 541.8 945.8 533.3 946.1 533.0 946.3 537.1 946.6 549.6 946.7 538.0 947.0 559.9 947.2 539.9 947.4 555.4 947.6 552.0 947.8 565.5 948.1 554.9 948.3 567.5 949.0 569.2 949.4 561.7 950.4 576.4 951.2 576.7 952.1 574.3 953.2 562.1 955.2 577.8 957.3 578.1 958.7 568.3 960.1 595.3 961.3 562.8 962.3 584.7 963.0 580.5 964.1 571.7 965.1 585.8 966.2 572.0 967.2 590.5 967.8 590.4 968.5 577.6 969.1 593.3 969.8 578.5 970.4 580.7 971.0 585.0 971.6 589.3 972.5 555.6 973.0 569.1 973.6 572.5 974.3 583.2 975.1 569.9 975.7 580.5 976.2 575.3 976.9 558.3 977.4 578.3 977.6 577.5 977.9 560.5 978.1 570.0 978.5 564.4 978.8 584.7 979.2 567.0 979.4 583.7 979.8 587.4 980.1 596.3 980.4 590.0 980.7 585.2 981.1 594.6 981.3 587.7 981.6 591.7 981.9 594.3 982.3 607.7 983.1 605.1 984.4 612.8 985.6 593.2 987.0 609.7 988.2 606.4 990.0 596.7 991.5 614.3 993.8 598.7 995.5 598.5 996.4 619.3 997.6 607.0 999.0 622.6 1000.4 609.0 1002.0 619.0 1004.0 599.4 1005.8 628.3 1006.7 619.0 1008.0 602.8 1009.4 622.0 1010.3 611.1 1011.6 626.4 1012.6 613.9 1014.1 636.5 1015.2 621.3 1016.5 636.2 1017.9 639.9 1019.3 639.0 1020.1 619.1 1021.0 643.7 1021.8 630.6 1022.5 640.3 1023.6 627.5 1024.1 641.8 1024.7 630.5 1025.5 651.7 1026.0 654.7 1026.5 639.5 1026.9 649.2 1027.4 646.0 1028.1 641.6 1028.3 660.8 1028.8 648.9 1029.1 648.5 1029.5 677.9 1029.8 656.8 1030.3 668.6 1030.7 658.1 1031.1 670.1 1031.5 662.6 1031.9 681.0 1032.8 669.8 1033.7 683.7 1034.5 671.9 1035.0 655.1 1035.7 684.4 1036.5 670.9 1037.1 677.8 1038.0 691.9 1038.7 682.2 1039.0 694.4 1039.1 698.6 1039.2 688.4 1039.3 704.2 1039.3 690.9 1039.4 689.0 1039.5 708.0 1039.5 697.5 1039.6 723.0 1039.7 704.7 1039.8 700.7 1039.9 702.0 1040.0 716.0 1040.0 703.4 1040.1 705.2 1040.2 725.9 1040.3 720.8 1040.3 706.5 1040.4 727.8 1040.5 732.2 1040.6 721.3 1040.7 728.7 1040.8 737.7" fill="none" stroke="#ffc000" stroke-width="2.2" stroke-linejoin="round" stroke-linecap="round"/>
<path d="M700.0 704.7 700.9 699.9 702.6 710.0 703.5 697.9 704.9 705.4 705.5 696.0 706.2 702.4 707.2 695.2 708.4 695.2 709.0 698.7 710.1 691.1 711.0 693.0 711.6 688.3 712.7 690.3 713.9 692.7 715.4 693.0 717.0 679.4 717.8 677.8 718.8 683.5 719.5 687.7 720.6 679.0 721.9 683.5 723.3 670.9 724.1 674.8 725.3 677.0 726.2 668.8 726.8 674.8 728.0 668.9 729.2 672.6 730.1 670.4 731.1 672.5 731.7 664.6 732.5 670.3 733.3 660.4 734.7 668.4 735.6 657.0 736.3 663.4 737.1 658.0 738.1 656.6 739.3 650.2 740.5 651.9 741.2 656.3 742.1 649.4 743.2 658.0 743.9 649.6 744.8 652.7 745.7 650.8 746.3 640.8 747.2 652.8 748.9 648.9 750.6 639.4 751.5 641.7 753.6 641.4 754.6 641.9 755.8 646.6 757.2 637.8 758.1 638.1 759.1 636.1 760.0 640.2 761.9 637.6 763.2 641.5 764.2 643.1 765.3 637.5 766.3 642.8 767.7 634.6 769.3 638.3 770.7 630.5 772.8 639.4 773.7 631.5 775.3 640.1 776.5 631.2 778.1 635.5 779.9 629.9 780.9 629.9 782.0 638.2 783.5 632.6 785.2 635.3 786.6 624.3 788.3 642.3 790.0 624.9 792.0 630.4 793.0 626.2 794.7 632.9 796.4 622.1 797.6 623.3 799.0 628.9 800.5 629.3 802.8 623.0 804.8 619.7 806.2 627.2 807.2 623.6 808.8 630.1 810.2 622.3 811.2 631.7 813.0 621.6 815.0 621.4 816.0 625.7 818.0 620.1 819.4 629.6 820.8 622.4 822.2 623.8 824.3 620.2 825.3 619.0 827.2 615.2 829.3 624.6 830.2 617.1 832.5 625.9 833.5 613.8 835.0 621.6 836.8 622.7 838.0 624.6 839.2 614.8 841.2 625.3 843.0 614.2 844.2 624.9 846.0 621.4 847.0 627.1 849.0 615.5 850.2 615.3 851.2 622.2 852.7 616.5 854.4 613.7 855.6 621.7 857.7 612.7 859.8 624.7 861.7 616.9 863.1 615.5 865.0 628.1 867.1 612.8 868.0 613.2 869.9 621.5 871.8 617.1 873.7 623.4 875.3 622.7 876.7 614.4 878.6 624.7 879.9 624.5 880.7 621.4 882.1 620.7 883.0 613.7 884.1 620.9 884.9 608.2 886.0 615.8 887.8 613.1 889.3 611.2 890.4 617.6 890.7 611.2 890.8 617.5 890.9 608.3 891.0 611.7 891.1 602.0 891.2 601.3 891.2 608.5 891.3 599.0 891.4 608.0 891.5 593.5 891.6 602.3 891.7 591.6 891.7 601.1 891.8 591.8 891.9 596.4 892.0 576.4 892.1 582.9 892.2 588.7 892.3 582.1 892.4 586.3 892.5 587.6 892.6 574.0 892.6 582.4 892.8 572.6 892.9 571.4 893.0 576.6 893.1 569.8 893.2 570.9 893.3 574.6 893.3 566.0 893.4 570.5 893.5 563.0 893.6 556.6 893.6 567.1 893.7 558.0 893.8 553.8 893.9 553.2 894.0 561.9 894.4 549.3 895.3 560.3 896.3 552.9 897.2 564.8 898.8 561.0 899.5 557.3 900.8 565.3 901.3 558.2 902.0 569.3 902.7 562.2 903.4 571.1 903.8 566.0 904.3 565.2 904.8 577.4 905.5 571.9 906.2 578.1 906.9 575.8 907.6 582.4 908.3 577.6 909.1 586.7 909.6 586.6 910.4 586.3 911.1 585.2 911.8 596.1 912.7 588.7 913.2 598.7 914.0 590.0 914.7 602.2 915.4 591.0 916.7 594.9 918.4 601.7 920.5 600.0 922.5 603.3 924.4 590.2 925.3 608.0 926.3 600.1 927.0 609.8 928.1 605.7 929.2 612.7 930.3 608.4 931.1 615.0 931.9 612.1 932.8 617.9 933.6 612.8 934.5 612.3 936.2 617.6 937.6 612.3 939.1 620.1 940.0 623.8 942.2 614.4 943.6 622.3 944.6 616.9 946.3 622.1 947.5 615.8 948.7 625.9 950.1 624.8 952.1 616.2 953.6 617.3 954.8 627.0 956.3 631.1 957.3 630.1 958.1 631.8 959.4 622.8 960.2 634.3 961.6 624.3 963.4 636.5 964.9 635.5 965.9 626.8 967.1 637.1 968.4 628.8 970.0 638.5 971.8 623.7 973.9 638.1 975.8 637.0 977.4 640.9 979.1 628.7 980.5 641.3 981.2 644.7 982.6 638.9 984.7 644.5 986.6 635.8 988.4 644.9 989.2 649.4 990.3 640.0 991.2 652.8 992.4 645.1 993.3 651.5 994.2 646.1 995.1 658.2 996.4 654.6 997.8 653.4 999.4 647.6 1000.3 658.2 1001.3 649.6 1002.6 659.9 1004.2 655.7 1005.1 662.0 1006.3 655.8 1007.4 666.9 1009.0 663.9 1010.1 660.6 1012.1 665.2 1013.3 658.7 1014.4 666.8 1016.0 659.1 1017.6 672.4 1018.9 665.1 1020.5 669.9 1022.5 668.0 1023.3 672.5 1023.5 673.1 1023.9 666.4 1024.1 669.0 1024.3 673.7 1024.6 682.5 1024.9 683.6 1025.1 677.4 1025.4 674.7 1025.6 687.2 1025.8 679.0 1026.0 690.0 1026.3 678.4 1026.5 691.0 1026.8 681.4 1027.1 691.5 1027.4 685.2 1027.8 690.0 1028.1 697.4 1028.4 693.4 1028.5 698.3 1028.6 695.9 1028.7 702.1 1028.8 697.7 1028.8 706.7 1028.9 709.6 1029.0 702.4 1029.1 712.5 1029.2 708.1 1029.3 717.1 1029.4 711.6 1029.5 717.7 1029.6 713.7 1029.6 720.2 1029.7 714.5 1029.8 726.1 1029.9 715.5 1030.0 718.0 1030.1 723.6 1030.2 725.0 1030.2 733.1" fill="none" stroke="#5b8c3c" stroke-width="2.2" stroke-linejoin="round" stroke-linecap="round"/>
<path d="M699.0 697.0 699.9 702.9 701.0 686.2 702.5 691.5 703.3 699.2 704.2 694.1 704.9 700.2 705.5 692.2 706.2 694.4 706.7 683.8 707.4 682.6 707.9 682.3 708.7 687.8 709.2 678.8 709.6 683.5 710.2 676.1 710.9 682.5 711.5 683.9 712.3 670.5 713.0 679.8 714.1 668.3 715.3 670.5 716.0 674.8 717.4 673.0 718.8 666.7 720.1 671.6 721.4 672.2 722.4 662.6 723.8 666.8 725.4 659.3 726.7 657.3 727.7 664.6 729.0 654.0 730.6 659.0 731.8 654.2 733.0 656.6 734.1 650.8 735.3 659.5 736.3 662.9 737.5 648.7 738.7 656.1 739.6 654.7 741.2 655.1 742.7 645.2 743.7 648.2 744.9 639.4 746.3 646.2 747.5 638.3 748.6 635.4 749.7 644.8 751.2 634.8 752.3 645.0 754.0 636.0 755.9 639.4 757.4 629.7 759.0 636.2 760.0 628.8 761.1 635.9 763.1 629.6 764.1 634.4 765.9 629.5 767.0 631.8 768.6 623.3 770.4 635.2 772.0 624.0 774.0 624.9 775.8 622.5 776.7 630.9 778.5 620.5 780.0 630.1 781.8 618.4 783.5 625.8 785.1 620.5 786.1 626.9 787.8 620.4 789.5 625.6 790.4 615.1 792.1 622.6 793.0 621.2 795.0 626.0 796.2 610.7 798.1 620.7 800.0 613.3 801.2 610.6 802.6 620.0 804.4 605.0 806.1 621.4 807.5 619.0 808.6 609.3 810.3 617.2 811.7 606.9 812.6 616.8 814.0 615.7 815.9 609.6 818.0 613.3 818.9 606.0 820.1 606.5 821.7 610.6 823.4 604.3 824.6 612.5 825.5 604.8 827.4 610.7 828.6 602.6 829.8 607.0 831.3 600.8 832.8 602.1 834.0 611.6 835.3 598.2 836.3 612.1 838.5 601.4 839.8 613.9 841.0 602.9 842.5 608.3 844.6 604.5 845.6 609.1 846.8 605.5 848.4 609.5 849.9 601.0 851.4 609.8 852.9 613.3 854.7 609.2 856.0 602.4 857.7 613.0 859.7 604.8 861.7 612.3 863.2 606.9 865.2 610.2 867.0 614.5 868.0 610.7 869.7 606.3 870.9 612.0 872.9 614.3 873.8 612.4 876.0 605.3 878.0 612.3 879.4 612.1 880.5 601.2 881.0 599.1 881.6 606.2 882.1 595.6 882.6 599.7 883.2 595.3 883.5 599.4 884.0 597.0 884.5 588.7 885.0 593.9 885.5 585.7 885.6 592.1 885.8 586.3 885.8 589.4 886.0 579.0 886.1 586.8 886.1 579.1 886.3 575.5 886.4 581.0 886.5 574.4 886.7 577.9 886.8 579.6 886.9 568.7 887.0 574.8 887.1 567.6 887.3 570.2 887.4 561.2 887.5 564.3 887.7 566.8 887.8 558.8 887.9 562.3 888.0 554.8 888.2 561.2 888.3 555.1 888.4 555.7 888.5 546.0 888.7 552.5 888.8 545.2 888.9 552.0 889.1 542.7 889.2 546.5 889.3 540.2 889.4 546.1 889.5 535.5 889.6 541.2 889.7 534.4 889.8 535.8 889.9 530.9 890.0 533.3 890.1 535.5 890.2 524.3 890.3 531.7 890.4 531.4 890.5 519.8 890.6 518.6 890.7 525.5 890.8 516.6 890.9 520.5 891.0 510.8 891.1 515.1 891.3 506.3 891.4 499.9 891.5 505.8 891.6 512.9 891.7 507.7 891.8 496.9 891.9 506.6 892.0 495.7 892.1 503.6 892.2 495.9 892.3 491.3 892.4 502.6 892.7 495.0 892.8 501.5 892.9 500.7 893.1 502.1 893.3 518.6 893.5 505.6 893.7 508.7 893.8 515.0 893.9 511.8 894.1 519.3 894.3 518.8 894.4 513.4 894.6 523.8 894.7 519.2 894.9 526.0 895.1 517.3 895.2 537.5 895.3 522.6 895.5 531.9 895.6 525.1 895.8 533.2 896.1 527.8 896.4 534.2 897.1 532.0 897.7 541.3 898.2 533.1 898.5 545.1 899.1 536.6 899.5 547.7 899.9 547.8 900.5 545.3 900.9 552.5 901.5 548.0 901.8 548.7 902.3 557.5 902.7 549.9 903.0 558.7 903.5 553.1 904.1 557.8 904.6 562.0 905.1 561.1 905.7 569.7 906.0 559.4 906.4 574.8 906.9 564.5 907.3 572.1 907.7 570.0 908.1 567.8 908.4 581.3 908.6 574.8 908.9 579.4 909.2 577.5 909.5 584.4 910.0 579.0 910.3 580.8 910.5 581.2 910.9 592.1 912.4 580.1 913.6 584.1 914.8 583.9 916.7 590.3 917.8 596.8 918.2 589.2 918.6 594.3 919.6 593.6 920.0 600.7 920.5 591.8 921.0 599.4 921.8 603.2 922.7 603.9 923.4 599.8 923.9 607.5 924.5 603.1 926.2 607.3 927.5 601.6 929.1 610.6 930.7 604.3 932.3 615.7 934.1 609.5 935.4 616.1 937.3 606.2 939.1 616.2 940.8 611.7 942.1 616.1 944.2 611.4 945.6 608.8 947.0 619.3 948.6 612.1 950.0 621.6 951.2 615.8 952.6 621.6 953.8 614.5 955.5 621.1 957.1 616.4 958.6 626.3 960.3 620.5 961.3 622.8 962.7 631.1 964.4 621.2 966.1 634.0 967.7 626.4 969.2 630.7 970.6 628.0 972.1 635.8 973.1 630.6 974.3 636.3 975.6 628.2 976.6 635.9 977.4 634.5 978.5 639.0 980.1 639.4 981.4 639.8 982.6 636.3 984.1 645.6 984.9 639.9 986.1 652.3 987.6 633.8 988.4 645.9 989.8 642.9 991.1 648.1 992.5 643.8 993.5 642.9 994.3 649.4 995.4 646.1 996.8 651.6 998.0 647.5 999.0 657.5 1000.5 654.5 1001.3 649.7 1002.5 659.9 1003.3 652.0 1004.2 662.3 1005.6 652.1 1006.7 662.6 1008.4 658.4 1009.5 666.7 1010.8 658.8 1011.8 668.6 1013.3 657.7 1014.0 666.8 1015.0 663.4 1016.5 668.4 1017.4 662.0 1018.5 670.4 1020.0 664.4 1021.1 668.8 1022.1 678.1 1023.0 668.4 1024.2 678.1 1024.9 679.1 1026.3 675.6 1027.7 683.6 1029.0 677.4 1029.7 687.4 1030.7 679.4 1031.8 686.9 1033.1 681.1 1034.1 689.1 1034.6 682.9 1034.9 692.9 1035.5 687.0 1035.8 687.4 1036.4 696.9 1036.8 694.8 1037.3 693.8 1037.9 696.9 1038.3 692.6 1038.9 705.0 1039.1 696.9 1039.1 707.3 1039.2 702.3 1039.2 702.0 1039.3 711.8 1039.3 704.1 1039.4 713.0 1039.4 706.1 1039.5 714.8 1039.5 716.9 1039.6 710.8 1039.6 720.5 1039.7 714.9 1039.7 725.4 1039.8 709.8 1039.8 731.2 1039.9 722.9 1039.9 728.9 1039.9 723.6" fill="none" stroke="#0070c0" stroke-width="2.2" stroke-linejoin="round" stroke-linecap="round"/>
<path d="M700.0 702.6 701.4 699.4 702.8 705.9 704.5 708.4 705.4 688.8 706.4 703.2 707.5 693.4 708.4 703.3 709.2 700.7 710.6 697.8 711.4 689.2 712.4 699.5 713.6 687.2 714.4 695.7 715.4 683.2 716.5 691.2 717.2 683.8 718.0 688.5 718.7 686.5 719.9 671.0 721.0 683.3 721.9 676.9 723.0 684.8 724.1 675.0 725.4 679.4 726.9 679.3 728.2 671.9 729.9 676.1 731.7 667.3 733.0 666.8 734.2 676.0 735.5 668.5 737.5 672.1 738.5 665.1 739.8 669.3 741.6 662.1 743.1 651.3 744.8 666.3 746.0 659.0 747.7 666.4 748.7 659.4 750.6 666.4 751.6 658.1 753.0 668.3 754.0 665.2 755.7 660.4 757.2 663.0 759.4 663.1 761.3 654.4 762.3 661.8 764.3 658.7 765.9 655.7 767.8 654.7 768.7 662.6 769.6 651.5 771.2 653.2 772.4 660.0 774.4 649.4 776.0 648.4 777.4 659.8 778.6 652.4 779.7 647.6 780.9 657.0 781.8 645.9 783.5 645.3 785.4 652.5 786.6 648.6 788.1 647.5 789.8 652.7 792.0 646.7 793.4 644.4 794.6 653.2 796.4 653.2 797.3 635.8 798.8 650.2 800.8 642.8 802.8 644.9 803.8 648.9 805.0 640.7 806.8 650.9 809.0 633.0 811.2 649.2 813.0 642.3 814.8 643.6 816.8 647.8 818.2 643.4 819.2 638.4 821.5 647.4 822.5 639.2 824.5 641.0 826.5 646.8 827.8 638.0 829.8 649.5 831.5 638.8 833.8 637.4 835.7 641.9 837.4 647.8 838.6 637.3 840.5 646.1 841.9 628.8 843.3 634.5 844.5 646.2 845.5 645.2 847.1 643.4 848.6 635.8 849.8 643.8 851.7 637.4 852.6 641.2 854.3 641.9 855.7 631.0 857.6 643.0 859.0 632.4 860.5 637.1 862.6 632.6 863.6 641.4 865.5 626.8 867.1 628.2 868.3 637.3 869.2 631.0 870.4 619.6 871.6 632.4 873.2 624.6 874.6 635.2 876.0 625.1 878.1 634.2 879.8 626.5 881.0 633.0 882.0 624.0 882.9 624.4 883.8 619.4 884.8 624.3 885.7 614.1 887.5 620.1 889.4 612.6 891.3 621.2 892.3 613.9 892.5 618.7 892.5 614.4 892.7 608.4 892.8 607.7 892.9 609.3 893.1 609.4 893.2 602.8 893.3 601.6 893.4 606.5 893.5 594.0 893.6 600.1 893.8 590.1 894.0 600.8 894.1 588.3 894.2 592.4 894.3 588.4 894.5 575.9 894.7 587.6 894.8 589.5 895.0 580.5 895.1 573.8 895.2 583.0 895.4 573.5 895.5 577.4 895.6 577.3 895.7 566.3 895.8 573.1 895.9 567.1 896.1 572.8 896.2 559.8 896.3 567.6 896.5 557.3 896.8 565.8 897.4 560.4 897.9 570.4 898.3 573.6 898.7 563.7 899.3 575.5 899.7 566.1 900.0 586.1 900.7 572.5 901.0 580.1 901.3 575.9 901.5 582.8 901.6 580.2 901.8 576.7 902.0 589.7 902.3 585.9 902.5 590.5 902.6 583.7 902.8 597.9 903.0 580.2 903.2 588.5 903.5 603.1 903.6 594.7 903.9 598.6 904.1 608.3 904.8 606.3 905.8 603.6 906.2 602.0 907.0 614.9 907.8 604.9 908.4 613.2 909.2 622.0 910.0 620.7 910.7 611.1 911.2 626.6 911.6 615.7 912.1 621.9 912.6 627.0 913.2 615.7 913.8 626.7 914.3 620.3 914.7 628.8 915.5 632.7 916.1 633.8 916.9 628.8 917.4 639.1 918.8 627.4 920.7 639.8 921.9 631.9 923.4 636.9 925.3 633.9 926.8 638.4 928.0 638.9 929.9 635.9 932.1 644.1 933.5 637.3 935.2 642.4 936.7 637.7 937.7 640.7 938.7 643.2 939.9 637.4 941.4 642.4 943.1 647.8 944.4 634.2 945.9 645.0 947.3 647.0 948.3 639.1 949.6 640.5 950.8 645.0 951.8 640.2 953.3 649.0 954.0 649.0 955.1 642.1 956.4 649.1 957.8 643.1 958.5 644.8 960.1 652.7 961.2 656.9 962.2 648.3 963.3 650.7 964.4 648.7 965.1 648.4 966.5 660.3 967.9 651.9 968.6 655.3 969.7 664.6 970.8 659.7 972.4 667.3 974.1 658.6 975.3 668.9 976.9 659.6 978.0 669.6 979.0 664.5 980.4 675.2 981.2 667.2 982.7 676.8 984.1 666.3 985.8 678.6 987.2 666.9 988.8 676.5 989.8 681.3 990.7 676.9 991.6 684.0 992.5 674.2 993.6 683.3 994.8 677.9 995.4 689.2 996.5 683.4 997.7 684.3 999.0 695.8 1000.2 692.9 1001.1 687.2 1002.4 690.9 1003.3 700.1 1004.3 698.9 1005.8 691.6 1006.7 697.4 1007.9 692.8 1008.7 702.3 1009.5 697.6 1010.3 695.8 1011.3 706.3 1012.1 702.8 1012.9 712.4 1013.7 704.0 1014.4 711.1 1015.3 704.9 1015.9 716.3 1016.3 709.0 1016.4 716.4 1016.6 717.0 1016.8 713.3 1017.0 714.4 1017.2 726.0 1017.4 719.9 1017.5 728.4 1017.6 721.0 1017.7 731.3 1017.9 724.9" fill="none" stroke="#ed7d31" stroke-width="2.2" stroke-linejoin="round" stroke-linecap="round"/>
<path d="M700.0 705.2 701.6 711.5 702.8 700.6 704.2 705.7 704.6 698.7 705.0 707.5 705.4 693.0 705.9 702.1 706.6 689.5 706.9 697.1 707.5 696.7 708.2 688.5 708.7 694.8 709.1 693.1 709.4 685.3 709.9 681.0 710.5 687.3 710.8 678.4 711.4 685.3 711.7 677.8 712.3 681.8 712.9 675.6 714.1 679.9 716.0 674.7 717.0 674.4 718.5 675.3 719.5 672.1 721.1 676.4 722.8 667.7 724.2 664.4 725.7 672.4 727.3 661.9 728.6 674.2 730.4 660.6 731.9 669.7 733.4 659.3 734.1 666.5 735.0 660.8 735.8 660.4 737.3 665.3 738.9 651.7 740.4 661.5 741.2 663.0 742.5 660.2 743.2 653.5 744.5 659.6 745.8 645.9 747.1 653.7 748.1 645.1 749.4 653.0 750.7 647.6 752.3 651.1 753.1 642.1 754.8 652.6 755.7 649.4 757.0 642.9 758.7 643.3 759.6 655.6 760.7 649.2 762.2 637.1 763.1 647.7 763.9 638.1 765.5 645.5 767.2 633.1 768.2 646.0 770.4 637.7 772.1 639.9 773.1 635.8 774.9 643.0 776.1 634.5 777.3 634.3 778.3 640.0 780.5 633.7 781.8 643.0 783.5 633.4 785.0 641.7 786.2 639.1 788.0 629.7 789.2 639.5 791.2 631.5 793.5 638.3 795.5 634.6 797.5 642.0 799.0 632.5 800.8 639.9 802.5 631.3 804.0 641.9 805.8 632.5 807.2 639.2 808.8 632.3 810.8 641.6 812.0 630.5 814.0 637.4 815.2 630.5 816.5 641.1 817.5 633.6 819.0 630.1 821.2 639.3 823.2 642.2 825.2 631.6 826.5 639.0 827.8 632.9 829.0 642.5 830.2 636.5 831.2 641.6 832.5 635.9 833.8 633.8 835.0 635.1 836.8 643.4 838.0 641.9 839.8 632.4 841.0 641.3 842.5 641.1 844.2 632.5 845.5 641.9 846.5 632.2 847.8 642.2 850.0 638.3 851.2 644.5 852.8 636.3 853.8 648.2 856.0 644.1 857.2 634.9 859.0 645.3 860.8 634.1 862.5 645.9 863.5 634.3 865.5 645.9 866.8 638.3 868.0 644.6 869.2 637.4 871.0 641.7 872.4 644.9 873.3 644.3 874.7 631.5 875.9 639.9 877.3 629.8 879.0 634.5 879.8 625.6 880.8 632.9 881.6 627.3 883.0 632.2 884.6 623.2 885.7 632.5 886.7 625.9 887.9 627.2 889.1 621.9 890.7 626.5 892.1 618.3 893.1 617.9 894.4 623.7 895.2 614.5 896.2 614.4 897.8 623.6 899.4 619.9 901.0 612.7 902.5 621.4 903.5 612.2 905.0 618.9 906.2 609.3 907.5 620.8 908.5 621.9 910.0 614.3 911.1 613.0 911.3 612.1 911.4 614.1 911.6 606.0 911.8 615.5 911.9 602.9 912.1 613.8 912.3 598.4 912.4 600.8 912.7 603.3 912.9 603.3 913.1 593.5 913.3 600.3 913.6 585.4 913.8 596.6 914.0 585.5 914.2 593.1 914.5 582.1 914.6 591.1 914.7 577.6 914.9 590.0 915.1 588.0 915.3 577.3 915.4 581.6 915.6 574.8 915.8 581.1 916.0 567.8 916.2 573.1 916.5 568.6 916.6 572.0 916.8 563.5 917.0 567.7 917.3 561.6 917.4 567.3 917.7 570.0 917.9 552.9 918.0 563.0 918.3 548.0 918.5 556.9 918.6 546.7 918.8 554.2 919.0 553.7 919.2 542.9 919.4 551.1 919.5 539.1 919.7 548.1 919.9 545.6 920.1 544.7 920.2 534.9 920.5 542.8 920.7 538.5 921.0 548.4 921.1 538.0 921.3 548.9 921.5 540.6 921.8 551.0 922.0 552.6 922.2 555.9 922.4 550.6 922.6 559.3 922.9 551.6 923.0 560.4 923.1 565.6 923.2 554.3 923.3 562.9 923.4 560.2 923.5 558.7 923.6 562.4 923.7 571.0 923.8 561.7 923.9 571.1 924.1 566.7 924.1 576.9 924.3 572.6 924.4 570.1 924.6 584.5 925.2 576.9 926.1 586.5 926.8 580.7 927.5 579.7 928.3 588.2 929.0 578.8 929.7 593.2 930.3 585.3 931.3 592.6 931.7 584.9 932.1 592.5 932.5 587.2 933.0 598.5 933.3 591.3 933.7 600.5 934.0 592.9 934.4 602.4 935.0 595.4 935.4 607.7 935.8 600.4 936.2 612.8 936.6 605.0 937.2 610.7 937.7 615.4 938.2 607.4 938.7 614.8 939.4 610.5 940.2 619.4 941.0 615.3 941.9 625.1 942.4 619.0 943.0 619.8 943.9 625.1 944.7 621.9 945.3 627.3 946.0 632.1 946.5 627.8 947.2 634.0 947.5 630.0 948.5 627.5 949.0 637.5 949.9 642.6 950.4 636.3 951.3 643.4 951.7 638.8 952.7 643.4 953.4 637.2 954.6 646.4 956.1 644.0 957.7 652.2 959.1 650.3 960.2 642.5 961.8 657.7 962.6 649.2 964.1 647.7 964.9 658.9 966.3 647.4 967.3 657.2 968.4 643.2 969.2 654.7 971.0 654.9 972.9 661.7 974.3 658.4 976.0 664.4 977.9 658.9 979.3 669.3 980.5 668.4 981.6 663.9 983.0 669.5 984.7 663.8 986.3 670.4 988.0 667.6 988.8 663.1 989.8 675.4 991.1 668.9 992.3 673.5 993.3 669.7 995.0 678.2 996.2 671.2 997.8 682.6 998.8 674.4 1000.5 672.9 1001.9 675.0 1002.9 685.6 1003.6 688.3 1005.0 680.2 1005.8 686.0 1006.7 683.5 1008.0 689.4 1009.5 680.2 1010.5 691.0 1011.6 685.6 1013.3 697.0 1014.8 687.1 1015.5 697.7 1017.0 690.0 1018.5 701.0 1019.8 699.6 1021.1 692.4 1022.5 701.1 1024.1 693.3 1025.5 705.1 1026.9 696.1 1028.0 706.6 1028.9 703.8 1029.9 707.6 1031.3 701.4 1032.2 711.8 1033.4 707.1 1034.1 717.5 1034.6 711.0 1035.1 719.9 1035.6 710.1 1036.0 720.1 1036.2 717.3 1036.6 726.7 1037.0 707.7 1037.4 723.6 1037.6 723.0 1038.1 718.7 1038.4 731.0 1038.8 726.6" fill="none" stroke="#4472c4" stroke-width="2.2" stroke-linejoin="round" stroke-linecap="round"/>
<path d="M704.0 714.3 704.7 708.8 706.0 719.4 706.7 706.0 707.7 708.9 708.4 701.7 709.7 710.9 710.4 702.4 711.7 705.9 712.5 706.8 713.4 699.6 714.5 702.8 715.2 688.8 716.5 696.0 717.5 700.7 718.8 699.8 719.5 692.3 720.4 697.3 721.4 694.2 723.0 691.0 724.1 692.3 725.0 687.7 726.9 695.1 727.9 683.6 729.8 691.9 730.5 687.1 732.0 690.3 733.9 692.8 735.6 684.3 736.8 692.4 737.8 681.8 739.2 679.8 740.7 684.5 741.6 685.7 743.1 680.9 744.0 686.7 744.8 679.7 746.5 687.8 747.5 681.6 749.4 687.1 750.7 678.6 752.7 688.3 754.4 678.0 755.4 678.6 756.9 684.2 758.6 677.1 759.6 684.1 761.0 679.2 762.0 677.6 763.3 685.4 765.2 679.2 766.5 684.1 768.5 677.8 770.0 679.5 772.0 689.6 773.2 675.9 775.0 683.9 777.0 677.7 777.8 682.8 779.2 678.3 780.2 675.2 781.5 682.4 783.5 679.4 785.0 683.4 786.5 674.9 788.5 679.5 789.8 681.3 790.8 676.1 791.8 682.7 793.2 675.9 795.0 685.5 796.5 678.3 798.2 683.6 799.8 678.6 800.8 683.0 801.8 676.2 803.5 675.3 805.2 684.0 806.5 676.9 807.8 682.3 809.5 684.5 810.8 676.7 812.0 685.1 813.8 678.3 814.8 682.3 815.8 686.6 817.5 675.9 819.2 681.8 820.2 678.9 822.0 685.9 823.5 676.5 824.5 683.1 825.8 679.6 826.8 682.1 828.0 679.8 829.8 683.7 831.2 676.8 833.0 684.2 834.0 680.2 835.8 686.4 837.0 677.5 839.0 685.1 840.0 678.7 841.2 682.8 842.8 678.8 844.2 683.6 846.2 685.5 847.2 680.2 848.5 682.7 850.2 678.2 851.2 670.5 852.2 687.4 854.2 678.5 855.5 687.1 856.5 678.1 858.0 679.3 859.7 692.0 861.7 678.7 863.6 680.5 865.1 683.0 866.4 681.9 867.6 680.2 868.9 687.8 870.1 688.3 871.8 681.2 872.8 689.1 874.1 684.5 875.5 686.4 877.5 679.7 879.5 690.2 880.5 686.8 881.7 688.3 883.5 682.2 885.2 690.6 887.2 685.3 888.9 691.0 890.4 683.7 892.1 686.8 893.9 690.0 895.1 677.3 896.3 694.6 897.3 686.0 898.6 683.0 899.6 694.0 901.3 686.7 902.3 691.9 903.8 688.1 905.5 693.8 906.9 684.2 908.6 690.9 910.6 692.3 912.8 684.5 914.5 692.0 915.4 684.8 916.6 695.7 918.6 681.8 920.1 691.8 921.9 682.1 923.6 691.7 924.9 684.3 926.9 690.3 928.7 683.9 930.4 685.6 932.2 685.2 933.7 690.2 935.2 683.2 937.1 693.1 938.3 693.1 939.7 698.7 941.5 696.6 942.9 686.9 944.1 697.4 945.3 692.0 946.2 697.9 947.2 690.2 948.6 699.5 949.7 699.0 950.7 700.2 951.6 690.0 953.5 700.1 954.4 690.6 955.4 694.5 956.8 698.2 958.7 695.4 959.6 701.7 961.2 695.9 962.9 696.0 964.5 706.2 965.5 698.9 967.3 704.2 969.0 699.0 970.7 705.2 971.2 709.2 972.5 708.4 973.8 702.7 975.0 711.9 975.9 704.4 977.4 705.3 978.4 713.5 979.6 716.3 980.8 708.2 981.6 719.4 982.7 711.3 983.5 720.9 984.8 721.3 985.9 716.1 986.9 725.5 988.0 723.3 988.7 718.9 989.4 724.8 989.9 719.5" fill="none" stroke="#bf9000" stroke-width="2.2" stroke-linejoin="round" stroke-linecap="round" stroke-dasharray="5 3"/>
<path d="M700.0 687.2 700.4 685.9 700.7 693.3 701.1 684.3 701.5 689.7 701.8 678.5 702.2 685.1 702.7 673.6 703.1 677.5 703.5 683.5 704.5 663.0 705.8 671.4 706.8 681.3 707.5 675.5 708.5 682.4 709.8 674.2 710.5 680.3 712.0 672.0 714.0 678.3 714.8 671.9 716.3 677.1 717.5 682.2 719.3 679.2 720.3 672.8 721.8 681.0 722.7 667.8 723.6 678.1 724.7 667.1 725.8 686.3 727.0 667.3 728.6 677.2 729.5 669.4 730.4 678.2 731.3 667.5 732.4 673.8 734.0 666.6 735.6 672.8 736.8 671.6 737.9 662.9 738.8 673.2 740.5 673.0 742.0 669.0 742.7 663.7 744.1 668.2 745.3 659.0 746.8 669.2 748.3 656.7 749.7 667.1 751.4 661.9 752.4 669.9 753.8 657.0 755.5 665.7 757.0 656.7 758.5 668.0 759.9 654.1 760.9 666.7 762.3 666.2 764.0 658.2 765.0 663.7 766.2 649.5 768.0 662.6 769.2 656.6 770.5 658.6 771.5 665.1 772.5 655.6 773.5 666.2 774.8 655.7 776.5 660.6 777.8 658.4 779.2 654.8 780.5 657.7 782.0 666.7 784.0 666.2 785.0 652.2 786.0 656.4 786.8 662.9 788.5 655.2 790.2 662.0 791.2 653.2 792.5 661.2 794.0 658.3 795.0 662.9 796.0 653.1 797.5 662.6 798.5 652.0 799.5 660.6 801.2 662.6 802.5 655.6 803.8 662.7 805.2 655.3 807.0 665.7 808.2 661.7 809.2 658.5 810.2 656.3 812.0 663.3 813.0 664.0 814.2 653.9 816.0 674.2 817.2 656.5 818.2 668.0 819.2 654.2 820.8 665.6 822.5 655.3 823.2 654.8 824.8 671.1 825.8 669.6 827.0 657.3 828.2 668.2 830.0 654.7 831.8 670.5 833.0 655.7 834.8 668.7 836.2 661.6 838.0 668.4 838.7 658.5 839.9 667.3 840.9 660.5 842.1 657.9 843.1 667.8 844.1 653.1 845.6 667.2 846.6 658.7 847.8 662.5 848.8 658.6 850.3 673.8 852.0 668.1 853.2 660.0 854.2 669.0 855.5 659.5 856.9 669.7 857.9 665.6 858.9 675.6 860.1 664.8 861.6 672.7 863.1 654.5 864.1 671.8 865.6 664.3 866.8 675.5 868.3 665.2 869.5 671.5 871.2 673.6 872.7 664.2 873.5 662.0 874.5 672.5 876.2 666.8 877.9 675.5 879.4 668.8 881.2 678.9 882.1 667.0 883.9 679.3 884.9 666.8 886.6 679.0 887.6 659.9 888.8 678.3 890.1 666.2 890.8 676.9 892.1 668.9 893.6 676.4 895.0 681.5 896.8 672.1 898.0 666.6 898.8 682.3 900.5 672.3 901.9 675.6 903.4 672.3 904.8 679.2 905.8 670.8 906.8 668.2 908.0 679.0 908.9 679.3 909.9 666.1 911.3 676.2 912.1 666.0 913.0 677.3 914.2 655.8 915.7 665.7 916.9 662.2 917.9 670.9 919.1 668.3 919.9 675.1 920.6 671.2 921.6 663.9 922.6 672.7 924.1 664.0 925.1 671.7 926.9 657.7 927.9 674.8 929.2 668.6 930.9 677.5 932.7 666.9 933.9 676.3 935.2 656.2 936.6 679.3 937.9 669.1 939.5 677.1 940.3 667.1 942.0 666.5 942.9 670.3 943.9 678.1 945.6 670.4 946.8 666.8 948.2 680.4 949.9 683.0 951.1 672.0 951.8 686.9 953.3 682.2 955.0 674.6 956.4 690.6 957.6 691.2 958.8 673.7 959.6 676.3 961.2 686.6 962.2 676.1 963.2 685.1 964.6 672.5 966.1 687.6 967.3 686.3 968.2 688.7 969.9 674.2 971.4 675.4 972.2 686.0 973.2 678.0 974.4 688.2 975.4 677.7 976.4 685.1 978.5 676.6 980.0 685.2 981.2 686.7 982.5 676.7 983.7 678.0 984.9 677.7 985.6 684.3 986.0 676.8 986.8 690.8 987.7 684.1 988.2 701.2 988.8 681.8 989.3 684.0 990.0 696.1 990.5 684.1 991.3 699.5 992.2 690.7 993.0 702.7 993.4 698.6 993.8 691.6 994.3 705.4 994.6 704.4 995.0 705.4 995.4 696.7 995.8 700.3 996.1 708.1 996.5 714.1 997.1 705.5 997.5 710.9 997.8 709.4 998.2 715.8 998.6 710.3 998.7 712.0 998.9 721.0 999.1 712.5 999.2 722.2 999.4 716.3 999.5 723.2 999.7 722.5 999.9 731.5 1000.0 725.1 1000.2 730.0" fill="none" stroke="#c00000" stroke-width="2.0" stroke-linejoin="round" stroke-linecap="round"/>
<path d="M699.0 702.0 699.5 705.7 700.8 709.2 701.2 704.6 702.2 701.2 703.0 699.5 704.0 708.9 704.5 697.2 705.8 705.5 706.8 703.8 707.5 698.3 708.5 707.4 709.5 709.0 710.8 701.2 711.8 698.6 712.2 709.2 713.2 700.6 713.8 704.6 714.8 708.9 715.5 701.4 716.2 709.5 717.0 695.8 717.8 704.4 718.5 692.9 719.5 701.8 720.5 689.0 721.2 705.2 722.2 698.4 722.8 709.0 723.5 697.2 724.5 705.2 725.8 701.4 726.2 709.9 727.2 698.0 728.0 701.2 728.8 709.8 729.2 700.6 730.5 710.2 731.5 698.5 732.5 708.5 733.5 709.0 734.8 698.7 735.8 705.7 736.8 706.2 738.0 698.6 739.0 707.7 739.8 711.5 740.5 699.1 741.2 709.4 742.0 703.3 743.0 707.5 744.2 696.9 745.0 711.2 746.0 707.1 747.0 698.5 747.5 710.7 748.5 708.9 749.2 700.8 750.0 706.8 750.5 701.7 751.8 711.3 752.5 691.3 753.5 711.2 754.2 702.5 755.2 710.0 756.5 698.6 757.2 709.9 758.2 710.2 759.0 703.7 760.0 708.3 760.5 699.5 761.2 701.6 762.0 702.6 763.0 712.7 763.5 698.7 764.8 710.9 765.2 699.8 766.5 709.0 767.5 702.6 768.5 712.8 769.2 699.3 770.5 711.6 771.5 703.8 772.5 702.9 773.8 707.1 774.8 712.1 775.8 703.0 776.5 717.9 777.5 698.5 778.2 712.9 779.5 702.7 780.2 712.1 781.2 710.4 782.0 704.1 782.8 703.9 783.5 714.6 784.2 704.1 785.5 709.2 786.2 705.2 787.2 707.3 788.0 692.8 788.8 710.3 789.2 702.5 790.2 710.6 791.2 700.8 792.0 700.9 793.2 708.1 794.2 700.0 795.0 708.8 795.5 693.3 796.8 713.4 797.5 705.8 798.2 705.5 799.5 704.6 800.5 714.7 801.8 701.7 802.5 708.4 803.0 700.1 804.2 711.6 805.0 706.6 805.8 706.1 806.2 720.6 807.5 705.7 808.5 711.8 809.8 700.7 810.5 715.1 811.2 705.9 812.5 709.1 813.2 704.4 814.2 712.9 815.0 703.6 816.0 710.2 817.0 703.7 818.0 714.9 819.2 709.9 820.2 705.5 821.0 713.5 821.8 702.3 822.5 711.2 823.2 705.0 824.2 713.0 825.2 706.4 826.5 711.5 827.2 704.0 827.8 713.5 828.5 707.3 829.2 711.3 830.0 705.9 831.2 715.4 832.2 716.5 833.0 705.9 833.8 706.2 834.8 714.8 835.8 709.1 837.0 716.4 837.8 707.3 839.0 713.7 839.8 705.0 841.0 716.7 841.8 712.4 842.5 710.4 843.2 714.7 844.0 710.1 844.8 714.3 846.0 704.9 847.2 714.3 847.8 716.9 848.8 699.1 849.5 717.7 850.5 702.3 851.5 717.1 852.5 707.7 853.5 719.6 854.5 708.9 855.0 718.9 855.5 707.5 856.2 708.2 857.0 709.5 857.5 717.8 858.8 712.0 859.5 710.2 860.2 711.1 861.2 719.5 862.2 710.8 863.2 720.3 864.2 708.7 865.5 720.1 866.8 704.5 867.5 720.1 868.5 710.1 869.2 717.0 870.5 711.9 871.0 708.9 872.0 710.5 872.8 724.2 873.5 711.3 874.2 722.6 875.2 728.0 876.5 720.5 877.0 712.8 877.5 717.2 878.8 712.3 880.0 719.3 880.5 709.1 881.5 720.4 882.2 712.8 883.2 718.4 884.2 715.2 885.0 719.9 886.2 721.7 887.0 715.0 888.0 719.2 889.0 713.8 889.5 712.0 890.5 719.3 891.2 712.2 892.2 715.5 893.5 719.5 894.8 711.7 895.2 719.4 896.0 717.2 896.8 720.2 897.5 712.9 898.2 711.9 899.5 725.7 900.7 718.2 901.7 721.1 902.4 715.2 903.1 722.9 904.0 722.5" fill="none" stroke="#a3b3dd" stroke-width="2.2" stroke-linejoin="round" stroke-linecap="round"/>
<path d="M699.0 696.4 700.5 695.9 702.0 698.4 703.6 696.7 705.1 696.3 706.6 698.5 708.1 695.9 709.7 698.1 711.2 696.9 712.7 696.5 714.2 697.0 715.8 696.8 717.3 698.0 718.8 698.7 720.4 697.6 721.9 696.8 723.4 697.0 724.9 697.8 726.5 696.8 728.0 698.6 729.5 696.9 731.0 697.9 732.5 698.4 734.1 698.0 735.6 697.5 737.1 699.5 738.6 698.3 740.2 699.4 741.7 697.4 743.2 699.5 744.8 699.9 746.3 697.8 747.8 699.2 749.3 699.6 750.9 700.0 752.4 699.0 753.9 699.0 755.4 699.7 757.0 698.7 758.5 697.6 760.0 698.0 761.5 697.7 763.0 698.1 764.5 699.7 766.0 700.4 767.5 699.1 769.0 698.2 770.5 698.7 772.0 698.8 773.5 700.7 775.0 698.7 776.5 699.7 778.0 701.3 779.5 700.7 781.0 700.3 782.5 699.1 784.0 701.2 785.5 699.7 787.0 702.0 788.5 700.8 790.0 701.0 791.5 701.7 793.0 700.1 794.5 701.4 796.0 700.8 797.5 700.3 799.0 700.7 800.5 703.0 802.0 703.2 803.5 701.5 805.0 701.0 806.5 702.8 808.0 701.4 809.5 702.8 811.0 701.0 812.5 701.0 814.0 701.4 815.5 701.3 817.0 703.6 818.5 704.2 820.0 702.0 821.5 702.7 823.0 704.0 824.5 703.4 826.1 704.1 827.6 705.1 829.1 702.6 830.6 705.0 832.1 704.6 833.6 704.2 835.2 704.5 836.7 705.1 838.2 704.1 839.7 705.5 841.2 704.3 842.7 706.0 844.2 706.7 845.8 705.4 847.3 706.1 848.8 705.0 850.3 705.5 851.8 704.8 853.3 706.9 854.8 705.6 856.4 707.0 857.9 706.7 859.4 707.6 860.9 707.2 862.4 707.2 863.9 707.2 865.5 706.3 867.0 709.1 868.5 706.8 870.0 707.3 871.5 707.8 873.0 708.9 874.6 709.3 876.1 710.2 877.6 708.3 879.1 709.0 880.7 709.3 882.2 711.2 883.7 708.9 885.2 708.9 886.7 709.6 888.3 710.8 889.8 710.5 891.3 710.7 892.8 711.8 894.3 712.3 895.9 711.8 897.4 711.0 898.9 711.9 900.4 711.8 902.0 713.2 903.5 711.8 905.0 714.4 905.0 723.2 903.5 723.6 902.0 724.7 900.4 724.3 898.9 721.8 897.4 723.7 895.9 722.3 894.3 722.4 892.8 723.1 891.3 721.0 889.8 723.2 888.3 723.0 886.7 722.2 885.2 719.8 883.7 721.8 882.2 719.3 880.7 720.9 879.1 719.6 877.6 718.8 876.1 720.2 874.6 719.6 873.0 718.5 871.5 719.8 870.0 719.7 868.5 719.8 867.0 717.7 865.5 719.8 863.9 717.6 862.4 719.5 860.9 717.4 859.4 718.1 857.9 718.1 856.4 716.6 854.8 718.9 853.3 717.1 851.8 716.4 850.3 717.2 848.8 718.3 847.3 716.7 845.8 716.9 844.2 717.5 842.7 717.3 841.2 717.1 839.7 715.2 838.2 714.5 836.7 716.0 835.2 716.9 833.6 714.0 832.1 715.5 830.6 714.8 829.1 714.8 827.6 714.7 826.1 714.7 824.5 714.7 823.0 715.7 821.5 713.9 820.0 712.7 818.5 713.4 817.0 713.0 815.5 713.3 814.0 715.0 812.5 714.3 811.0 712.1 809.5 713.6 808.0 713.7 806.5 714.1 805.0 713.9 803.5 713.2 802.0 711.8 800.5 711.8 799.0 713.8 797.5 713.2 796.0 713.4 794.5 713.8 793.0 710.9 791.5 712.6 790.0 712.2 788.5 710.7 787.0 711.8 785.5 710.8 784.0 712.4 782.5 711.0 781.0 710.5 779.5 711.7 778.0 711.1 776.5 711.5 775.0 709.5 773.5 711.8 772.0 710.4 770.5 709.4 769.0 710.1 767.5 709.8 766.0 711.8 764.5 708.9 763.0 709.0 761.5 711.4 760.0 709.4 758.5 710.7 757.0 709.6 755.4 709.4 753.9 708.9 752.4 708.5 750.9 710.6 749.3 709.2 747.8 709.6 746.3 709.2 744.8 708.8 743.2 708.1 741.7 708.9 740.2 708.6 738.6 709.4 737.1 708.9 735.6 709.6 734.1 710.6 732.5 709.3 731.0 708.6 729.5 708.8 728.0 710.0 726.5 707.8 724.9 709.8 723.4 708.1 721.9 708.2 720.4 709.1 718.8 709.2 717.3 707.4 715.8 709.9 714.2 708.3 712.7 708.3 711.2 707.3 709.7 708.3 708.1 707.2 706.6 709.3 705.1 707.9 703.6 706.8 702.0 707.6 700.5 709.3 699.0 709.2Z" fill="#a3b3dd"/>
<line x1="839.5" y1="649" x2="839.5" y2="705" stroke="#a3b3dd" stroke-width="2.2"/>
<line x1="698.5" y1="640" x2="698.5" y2="730" stroke="#a3b3dd" stroke-width="2.2"/>
<path d="M701.0 705.2V714.1M705.4 704.1V717.9M707.4 704.5V718.3M711.7 704.3V715.2M713.4 705.0V715.9M715.0 703.5V717.4M718.5 705.6V718.5M720.8 703.5V718.2M724.1 705.4V714.2M725.9 706.1V714.8M728.6 705.8V717.4M732.3 703.0V717.2M734.6 705.7V715.5M738.8 704.4V715.3M742.0 703.5V718.8M743.6 705.3V718.4M746.1 704.1V718.5M749.2 703.8V719.5M752.0 704.6V716.1M755.9 705.0V718.5M758.1 703.2V719.3M760.4 703.7V715.7M762.8 704.8V719.5M766.0 703.8V714.8M770.4 703.4V717.1M772.5 703.6V716.2M775.4 706.6V715.4M778.4 703.9V719.3M781.8 705.7V719.2M784.2 705.0V716.3M787.9 706.9V714.6" stroke="#000000" stroke-width="1.6" fill="none"/>
<path d="M701.0 707.1 702.8 708.3 704.8 707.7 706.0 708.3 707.2 709.2 708.2 707.4 710.0 709.0 712.0 708.0 713.5 709.2 715.0 707.9 716.5 709.0 717.8 707.9 719.8 709.2 721.8 709.1 723.8 707.8 725.5 707.2 727.2 709.0 729.0 709.0 730.0 707.7 731.2 710.0 732.5 707.7 734.0 710.6 735.5 707.6 737.0 708.8 738.0 707.3 739.8 708.7 740.8 707.7 742.2 707.6 744.2 709.0 745.2 707.4 746.5 709.3 748.2 707.7 749.8 707.9 751.5 709.3 752.2 708.8 754.0 708.8 755.2 708.3 756.5 709.1 757.5 707.7 759.8 708.2 761.8 709.7 763.0 708.1 764.0 709.0 765.8 709.2 767.2 708.5 768.2 709.3 770.0 708.2 771.0 709.8 772.0 708.5 773.8 707.7 775.0 709.5 776.5 708.3 778.5 710.0 780.2 707.8 782.0 709.9 783.8 708.5 785.5 709.4 787.2 708.1 789.0 709.3" fill="none" stroke="#000000" stroke-width="1.4" stroke-linejoin="round" stroke-linecap="round"/>
<path d="M850.0 718.0V729.5M853.3 717.3V729.5M855.6 718.3V729.5M859.4 719.3V729.5M862.2 717.4V729.5M866.4 717.6V729.5M870.5 719.2V729.5M875.4 717.1V729.5M877.7 717.1V729.5M882.2 718.8V729.5M884.6 717.4V729.5M888.0 719.3V729.5" stroke="#000000" stroke-width="1.6" fill="none"/>
<path d="M907.0 699.1 907.8 708.3 909.3 699.7 910.9 707.3 912.4 699.2 914.0 708.2 915.8 698.4 917.2 708.9 918.8 699.1 919.7 709.0 921.2 699.3 922.0 707.4" fill="none" stroke="#000000" stroke-width="2" stroke-linejoin="round" stroke-linecap="round"/>
<path d="M782.0 718.7 784.0 720.4 786.0 719.5 788.0 717.6 790.0 719.0 792.0 717.8 794.0 717.4 796.0 719.7 798.0 720.1 800.0 718.7 802.0 719.0 804.0 717.4 806.0 717.3 808.0 717.8 810.0 717.1 812.0 719.2 814.0 717.3 816.0 718.2 818.0 716.9 820.0 717.3 822.0 717.7 824.0 718.2 826.0 717.5 828.0 718.2 830.0 718.3 832.0 717.1 834.0 718.3 836.0 717.0 838.0 718.7 840.0 719.3 842.0 719.7 844.0 719.6 846.0 718.8 848.0 720.0 850.0 719.3 852.0 719.2 854.0 717.5 856.0 717.5 858.0 718.2 860.0 720.2 862.0 720.3 864.0 720.1 866.0 719.2 868.0 718.4 870.0 719.0 872.0 720.8 874.0 718.7 876.0 720.7 878.0 720.0 880.0 719.8 882.0 719.1 884.0 719.2 886.0 719.2 888.0 720.9 888.0 729.8 886.0 728.7 884.0 728.9 882.0 728.2 880.0 729.5 878.0 729.9 876.0 730.4 874.0 730.8 872.0 728.1 870.0 729.1 868.0 728.4 866.0 730.2 864.0 730.5 862.0 728.6 860.0 729.7 858.0 730.2 856.0 729.7 854.0 728.9 852.0 728.3 850.0 730.9 848.0 729.2 846.0 728.0 844.0 730.6 842.0 729.8 840.0 728.1 838.0 730.3 836.0 729.4 834.0 729.1 832.0 728.3 830.0 730.6 828.0 728.6 826.0 729.2 824.0 728.9 822.0 728.3 820.0 730.8 818.0 728.2 816.0 730.7 814.0 730.0 812.0 729.2 810.0 728.3 808.0 730.5 806.0 729.3 804.0 729.6 802.0 729.2 800.0 730.1 798.0 729.7 796.0 731.0 794.0 728.9 792.0 731.0 790.0 728.5 788.0 728.8 786.0 730.0 784.0 729.1 782.0 728.1Z" fill="#2f5597" opacity="0.85"/>
<g fill="#2f5597"><rect x="862.2" y="716.0" width="1.8" height="1.8"/><rect x="807.5" y="716.7" width="1.8" height="1.8"/><rect x="824.2" y="720.3" width="1.8" height="1.8"/><rect x="858.1" y="716.0" width="1.8" height="1.8"/><rect x="878.7" y="718.7" width="1.8" height="1.8"/><rect x="822.4" y="715.3" width="1.8" height="1.8"/><rect x="844.3" y="723.3" width="1.8" height="1.8"/><rect x="802.7" y="724.0" width="1.8" height="1.8"/><rect x="838.0" y="717.1" width="1.8" height="1.8"/><rect x="814.9" y="713.4" width="1.8" height="1.8"/><rect x="864.5" y="729.0" width="1.8" height="1.8"/><rect x="859.0" y="715.9" width="1.8" height="1.8"/><rect x="815.6" y="724.7" width="1.8" height="1.8"/><rect x="789.1" y="721.9" width="1.8" height="1.8"/><rect x="851.8" y="721.0" width="1.8" height="1.8"/><rect x="800.1" y="713.8" width="1.8" height="1.8"/><rect x="780.7" y="727.1" width="1.8" height="1.8"/><rect x="870.3" y="718.8" width="1.8" height="1.8"/><rect x="821.1" y="722.4" width="1.8" height="1.8"/><rect x="833.9" y="716.7" width="1.8" height="1.8"/><rect x="849.9" y="718.4" width="1.8" height="1.8"/><rect x="863.4" y="722.1" width="1.8" height="1.8"/><rect x="810.2" y="720.8" width="1.8" height="1.8"/><rect x="844.5" y="720.9" width="1.8" height="1.8"/><rect x="866.2" y="722.8" width="1.8" height="1.8"/><rect x="823.4" y="727.9" width="1.8" height="1.8"/><rect x="787.0" y="719.5" width="1.8" height="1.8"/><rect x="860.4" y="713.3" width="1.8" height="1.8"/><rect x="786.4" y="727.3" width="1.8" height="1.8"/><rect x="810.1" y="717.3" width="1.8" height="1.8"/><rect x="859.1" y="722.2" width="1.8" height="1.8"/><rect x="804.2" y="727.5" width="1.8" height="1.8"/><rect x="799.8" y="712.0" width="1.8" height="1.8"/><rect x="814.1" y="716.5" width="1.8" height="1.8"/><rect x="815.6" y="721.9" width="1.8" height="1.8"/><rect x="845.8" y="721.8" width="1.8" height="1.8"/><rect x="874.2" y="716.0" width="1.8" height="1.8"/><rect x="813.7" y="717.9" width="1.8" height="1.8"/><rect x="887.3" y="715.2" width="1.8" height="1.8"/><rect x="814.7" y="728.3" width="1.8" height="1.8"/><rect x="780.8" y="725.6" width="1.8" height="1.8"/><rect x="882.0" y="720.2" width="1.8" height="1.8"/><rect x="810.1" y="713.0" width="1.8" height="1.8"/><rect x="849.2" y="727.1" width="1.8" height="1.8"/><rect x="804.3" y="715.2" width="1.8" height="1.8"/><rect x="813.8" y="724.9" width="1.8" height="1.8"/><rect x="810.8" y="724.9" width="1.8" height="1.8"/><rect x="836.1" y="728.5" width="1.8" height="1.8"/><rect x="833.8" y="725.0" width="1.8" height="1.8"/><rect x="852.5" y="720.4" width="1.8" height="1.8"/><rect x="825.8" y="724.0" width="1.8" height="1.8"/><rect x="881.5" y="726.4" width="1.8" height="1.8"/><rect x="828.0" y="722.6" width="1.8" height="1.8"/><rect x="834.4" y="716.5" width="1.8" height="1.8"/><rect x="863.3" y="720.6" width="1.8" height="1.8"/><rect x="782.9" y="724.1" width="1.8" height="1.8"/><rect x="837.7" y="726.6" width="1.8" height="1.8"/><rect x="823.9" y="712.2" width="1.8" height="1.8"/><rect x="817.7" y="723.7" width="1.8" height="1.8"/><rect x="835.9" y="715.7" width="1.8" height="1.8"/></g>
<path d="M703.0 687.3 704.2 692.7 705.5 686.5 707.0 694.0 708.4 685.4 709.4 689.8 710.7 684.6 712.2 693.9 713.7 680.3 714.6 688.4 715.6 680.9 716.9 692.7 718.9 681.9 720.6 691.2 721.8 681.4 723.3 691.3 724.8 682.4 726.3 685.7 727.8 683.4 729.0 685.4 730.0 677.0 731.2 692.0 733.0 678.5 734.2 690.0 736.0 681.9 737.2 678.4 739.0 685.3 740.0 677.1 741.0 688.4 742.2 679.6 743.5 688.5 744.5 681.3 746.2 688.3 747.5 680.2 748.2 683.1 750.2 690.5 751.2 677.8 753.0 677.3 754.8 685.7 756.0 678.8 756.8 678.3 758.2 680.2 759.8 686.5 761.2 681.3 762.2 688.4 764.0 677.4 765.5 686.4 767.2 680.7 768.2 689.4 769.5 673.9 771.0 688.4 772.8 683.7 773.8 683.9 775.2 687.4 776.2 680.6 777.8 687.2 779.5 679.9 780.5 681.7 782.0 687.1 783.0 683.9 784.5 687.6 786.2 683.1 787.8 694.8 788.5 681.8 790.0 692.1 791.5 685.4 793.2 688.1 795.0 681.8 796.8 689.6 797.5 686.0 798.8 690.1 800.2 685.9 801.7 689.1 802.7 681.7 804.5 682.5 805.5 685.6 806.7 692.9 808.2 685.2 809.4 682.3 811.4 691.2 812.4 676.0 813.9 693.9 814.9 694.6 815.6 685.8 816.9 694.8 818.6 689.1 820.1 694.2 821.6 695.8 822.6 689.6 824.1 695.3 825.1 694.4 826.1 688.8 826.8 698.2 827.6 688.9 828.8 697.4 830.8 686.6 831.8 699.0 833.0 698.3 834.8 688.8 835.7 696.6 837.2 691.1 838.5 697.4 840.0 688.3 841.0 697.2 842.7 692.4 844.2 700.6 845.9 688.4 847.4 698.1 848.4 700.5 849.9 697.5 851.4 691.6 852.9 698.3 854.4 691.8 855.4 688.9 856.6 702.1 858.3 694.5 859.6 697.4 861.3 683.9 862.3 703.8 863.8 694.2 865.5 700.4 866.8 691.5 868.8 701.9 870.0 693.2 872.0 701.8 873.5 697.5 875.2 704.5 876.7 692.9 877.7 692.9 879.7 702.6 880.7 696.6 881.9 705.2 883.6 698.2 885.4 703.3 886.9 703.2 888.3 702.3 889.3 697.4 891.3 695.2 893.1 706.6 894.8 707.9 896.5 696.0 898.3 704.9 899.3 692.1" fill="none" stroke="#70ad47" stroke-width="2.2" stroke-linejoin="round" stroke-linecap="round"/>
<path d="M900.0 697.1 901.2 696.3 902.4 696.0 903.6 697.2 904.8 696.7 906.0 695.6 907.2 694.7 908.4 695.5 909.6 699.1 910.8 699.1 912.0 697.9 913.2 695.9 914.4 697.2 915.6 698.5 916.8 698.5 918.0 694.8 919.2 699.4 920.4 698.6 921.6 697.5 922.8 698.8 924.0 694.8 925.2 695.2 926.4 697.9 927.6 696.2 928.8 697.7 930.0 698.0 930.0 729.8 928.8 732.0 927.6 729.7 926.4 732.4 925.2 729.4 924.0 727.8 922.8 731.9 921.6 730.4 920.4 731.8 919.2 729.7 918.0 730.5 916.8 730.6 915.6 732.3 914.4 728.1 913.2 727.6 912.0 729.8 910.8 729.5 909.6 728.6 908.4 730.0 907.2 727.9 906.0 727.6 904.8 729.8 903.6 732.3 902.4 729.6 901.2 728.5 900.0 731.9Z" fill="#70ad47"/>
<line x1="701" y1="609" x2="701" y2="705" stroke="#70ad47" stroke-width="2"/>
<line x1="699.4" y1="630" x2="699.4" y2="655" stroke="#0070c0" stroke-width="2"/>
<line x1="1009.8" y1="447.2" x2="1051.3" y2="447.2" stroke="#a5a5a5" stroke-width="2.4"/>
<text x="1053.50" y="451.50" font-size="12.4" text-anchor="start" font-weight="400" fill="#595959">R-D = 113.8 mm</text>
<line x1="1009.8" y1="462.37" x2="1051.3" y2="462.37" stroke="#ffc000" stroke-width="2.4"/>
<text x="1053.50" y="466.67" font-size="12.4" text-anchor="start" font-weight="400" fill="#595959">D = 113.8 mm</text>
<line x1="1009.8" y1="477.53999999999996" x2="1051.3" y2="477.53999999999996" stroke="#5b8c3c" stroke-width="2.4"/>
<text x="1053.50" y="481.84" font-size="12.4" text-anchor="start" font-weight="400" fill="#595959">R-D = 101.6 mm</text>
<line x1="1009.8" y1="492.71" x2="1051.3" y2="492.71" stroke="#0070c0" stroke-width="2.4"/>
<text x="1053.50" y="497.01" font-size="12.4" text-anchor="start" font-weight="400" fill="#595959">D = 101.6 mm</text>
<line x1="1009.8" y1="507.88" x2="1051.3" y2="507.88" stroke="#ed7d31" stroke-width="2.4"/>
<text x="1053.50" y="512.18" font-size="12.4" text-anchor="start" font-weight="400" fill="#595959">R-D = 89.2 mm</text>
<line x1="1009.8" y1="523.05" x2="1051.3" y2="523.05" stroke="#4472c4" stroke-width="2.4"/>
<text x="1053.50" y="527.35" font-size="12.4" text-anchor="start" font-weight="400" fill="#595959">D = 89.2 mm</text>
<line x1="1009.8" y1="538.22" x2="1051.3" y2="538.22" stroke="#bf9000" stroke-width="2.4" stroke-dasharray="10 7.6"/>
<text x="1053.50" y="542.52" font-size="12.4" text-anchor="start" font-weight="400" fill="#595959">R-D = 75 mm</text>
<line x1="1009.8" y1="553.39" x2="1051.3" y2="553.39" stroke="#c00000" stroke-width="2.4"/>
<text x="1053.50" y="557.69" font-size="12.4" text-anchor="start" font-weight="400" fill="#595959">D = 75 mm</text>
<line x1="1009.8" y1="568.56" x2="1051.3" y2="568.56" stroke="#000000" stroke-width="2.4"/>
<text x="1053.50" y="572.86" font-size="12.4" text-anchor="start" font-weight="400" fill="#595959">R-D = 49.63 mm</text>
<line x1="1009.8" y1="583.73" x2="1051.3" y2="583.73" stroke="#2f5597" stroke-width="2.4" stroke-dasharray="2.3 3.15"/>
<text x="1053.50" y="588.03" font-size="12.4" text-anchor="start" font-weight="400" fill="#595959">D = 49.63 mm</text>
<line x1="1009.8" y1="598.9" x2="1051.3" y2="598.9" stroke="#70ad47" stroke-width="2.4"/>
<text x="1053.50" y="603.20" font-size="12.4" text-anchor="start" font-weight="400" fill="#595959">D = 63.6 mm</text>
<line x1="1009.8" y1="614.0699999999999" x2="1051.3" y2="614.0699999999999" stroke="#a3b3dd" stroke-width="2.4"/>
<text x="1053.50" y="618.37" font-size="12.4" text-anchor="start" font-weight="400" fill="#595959">R-D = 63.6 mm</text>
<text x="561.8" y="367" font-size="24.6" fill="#000" style="font-family:'Liberation Serif',serif" textLength="28.6" lengthAdjust="spacingAndGlyphs">(a)</text>
<text x="598.6" y="367" font-size="24.6" fill="#000" style="font-family:'Liberation Serif',serif" textLength="122.6" lengthAdjust="spacingAndGlyphs">high density</text>
<text x="548.1" y="817.6" font-size="24.6" fill="#000" style="font-family:'Liberation Serif',serif" textLength="28.4" lengthAdjust="spacingAndGlyphs">(b)</text>
<text x="583.3" y="817.6" font-size="24.6" fill="#000" style="font-family:'Liberation Serif',serif" textLength="115.0" lengthAdjust="spacingAndGlyphs">low density</text>
</svg></body></html>
